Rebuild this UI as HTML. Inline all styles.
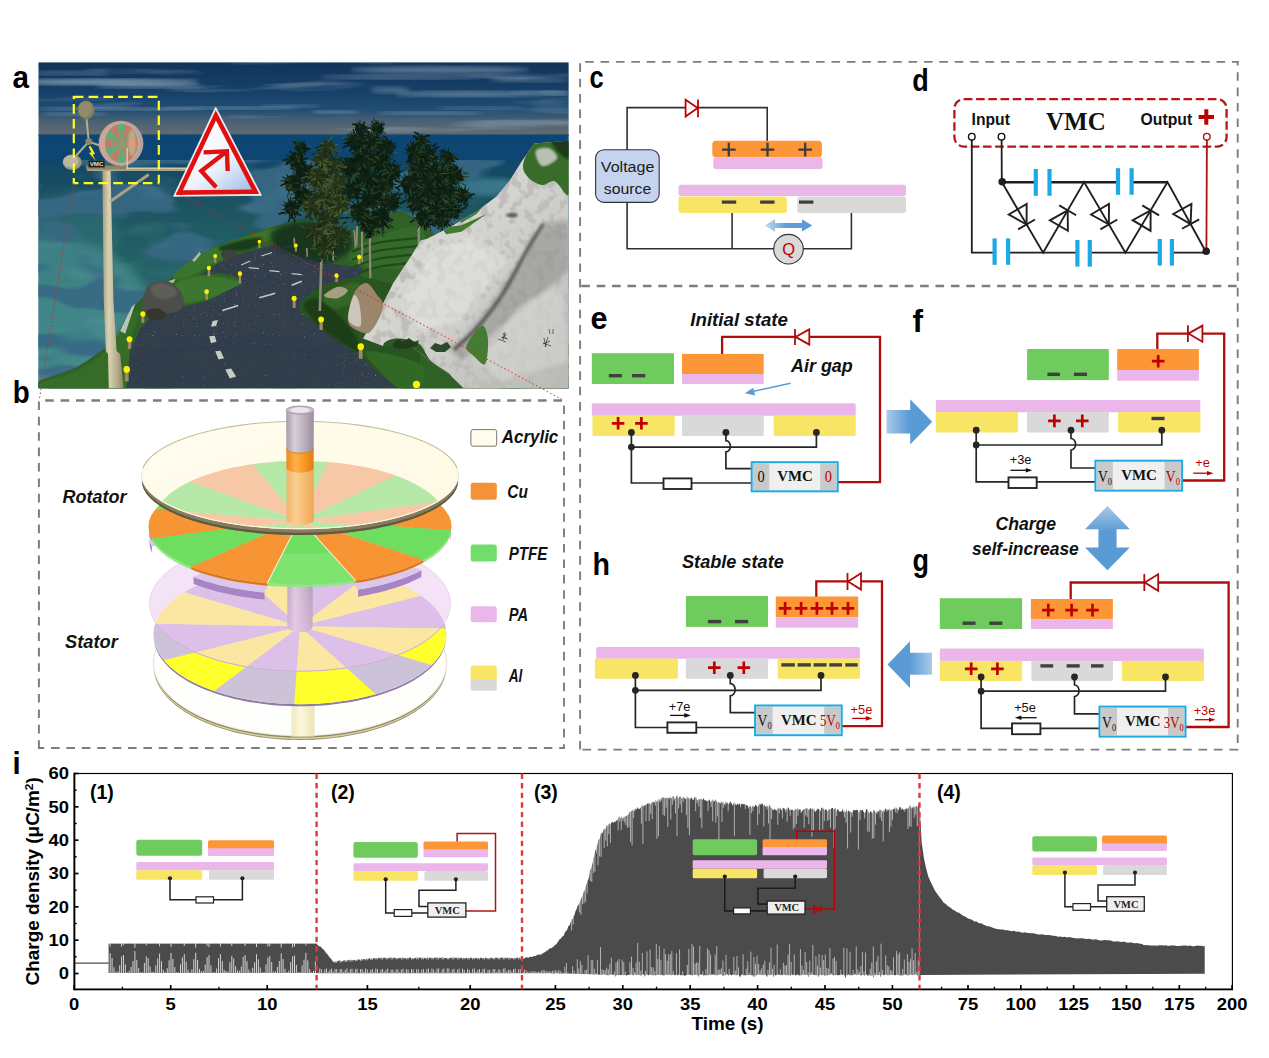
<!DOCTYPE html>
<html><head><meta charset="utf-8"><title>Figure</title>
<style>html,body{margin:0;padding:0;background:#fff;overflow:hidden}svg{display:block}</style>
</head><body>
<svg width="1269" height="1058" viewBox="0 0 1269 1058">
<rect width="1269" height="1058" fill="#fff"/>
<g id="pa">
<defs>
<clipPath id="aclip"><rect x="38.3" y="62.2" width="530.5" height="326.2"/></clipPath>
<linearGradient id="asky" x1="0" x2="0" y1="62" y2="136" gradientUnits="userSpaceOnUse">
 <stop offset="0" stop-color="#12335a"/><stop offset="0.45" stop-color="#17426a"/><stop offset="0.66" stop-color="#244f74"/><stop offset="0.8" stop-color="#4a6172"/><stop offset="1" stop-color="#626d73"/></linearGradient>
<linearGradient id="asea" x1="0" x2="0" y1="135" y2="390" gradientUnits="userSpaceOnUse">
 <stop offset="0" stop-color="#0c4576"/><stop offset="0.09" stop-color="#0e4571"/><stop offset="0.14" stop-color="#154a64"/><stop offset="0.35" stop-color="#1f5962"/><stop offset="0.65" stop-color="#2a6a6b"/><stop offset="1" stop-color="#357a7a"/></linearGradient>
<filter id="awave" x="0" y="0" width="100%" height="100%" filterUnits="objectBoundingBox">
 <feTurbulence type="fractalNoise" baseFrequency="0.012 0.042" numOctaves="2" seed="4" result="n"/>
 <feColorMatrix in="n" type="matrix" values="0 0 0 0 0.04  0 0 0 0 0.14  0 0 0 0 0.23  -10 0 0 0 5.25"/>
</filter>
<filter id="awave2" x="0" y="0" width="100%" height="100%">
 <feTurbulence type="fractalNoise" baseFrequency="0.016 0.05" numOctaves="2" seed="9" result="n"/>
 <feColorMatrix in="n" type="matrix" values="0 0 0 0 0.42  0 0 0 0 0.68  0 0 0 0 0.68  3.4 0 0 0 -1.95"/>
</filter>
<filter id="acloud" x="0" y="0" width="100%" height="100%">
 <feTurbulence type="fractalNoise" baseFrequency="0.0065 0.075" numOctaves="3" seed="12" result="n"/>
 <feColorMatrix in="n" type="matrix" values="0 0 0 0 0.55  0 0 0 0 0.66  0 0 0 0 0.74  5.0 0 0 0 -2.95"/>
</filter>
<filter id="arock" x="0" y="0" width="100%" height="100%">
 <feTurbulence type="fractalNoise" baseFrequency="0.11 0.10" numOctaves="2" seed="3" result="n"/>
 <feColorMatrix in="n" type="matrix" values="0 0 0 0 0.50  0 0 0 0 0.48  0 0 0 0 0.46  -7 0 0 0 3.55"/>
</filter>
<filter id="aroad" x="0" y="0" width="100%" height="100%">
 <feTurbulence type="fractalNoise" baseFrequency="0.9" numOctaves="1" seed="5" result="n"/>
 <feColorMatrix in="n" type="matrix" values="0 0 0 0 0.78  0 0 0 0 0.78  0 0 0 0 0.6  6 0 0 0 -4.1"/>
</filter>
<filter id="ab1"><feGaussianBlur stdDeviation="1"/></filter>
<filter id="ab2"><feGaussianBlur stdDeviation="2.2"/></filter>
<filter id="ab4"><feGaussianBlur stdDeviation="4.5"/></filter>
<filter id="ab05"><feGaussianBlur stdDeviation="0.55"/></filter>
<linearGradient id="apole" x1="0" x2="1"><stop offset="0" stop-color="#a59c7c"/><stop offset="0.3" stop-color="#d9d2b4"/><stop offset="0.65" stop-color="#b9b08f"/><stop offset="1" stop-color="#8d8566"/></linearGradient>
<linearGradient id="asign" x1="0.2" x2="0.9" y1="0.1" y2="1"><stop offset="0" stop-color="#ffffff"/><stop offset="0.55" stop-color="#eef3fb"/><stop offset="1" stop-color="#a9c3ea"/></linearGradient>
<linearGradient id="arockg" x1="0" x2="1" y1="0" y2="1"><stop offset="0" stop-color="#e0e0dd"/><stop offset="0.5" stop-color="#d2d2cf"/><stop offset="1" stop-color="#b9b9b6"/></linearGradient>
<radialGradient id="alamp"><stop offset="0" stop-color="#ffff66"/><stop offset="0.6" stop-color="#f5e800"/><stop offset="1" stop-color="#c9b400"/></radialGradient>
</defs>
<g clip-path="url(#aclip)">
<rect x="38.3" y="62.2" width="530.5" height="74" fill="url(#asky)"/>
<rect x="38.3" y="62.2" width="530.5" height="70" filter="url(#acloud)" opacity="0.28"/>
<ellipse cx="105" cy="82" rx="95" ry="3" fill="#9db4c4" opacity="0.75" filter="url(#ab2)"/>
<ellipse cx="150" cy="86" rx="55" ry="2.2" fill="#9db4c4" opacity="0.55" filter="url(#ab2)"/>
<ellipse cx="70" cy="73" rx="40" ry="2" fill="#9db4c4" opacity="0.4" filter="url(#ab2)"/>
<ellipse cx="120" cy="109" rx="85" ry="1.5" fill="#9db4c4" opacity="0.55" filter="url(#ab2)"/>
<ellipse cx="230" cy="108" rx="70" ry="1.4" fill="#9db4c4" opacity="0.6" filter="url(#ab2)"/>
<ellipse cx="290" cy="106" rx="30" ry="1.2" fill="#9db4c4" opacity="0.5" filter="url(#ab2)"/>
<ellipse cx="75" cy="114" rx="35" ry="1.6" fill="#9db4c4" opacity="0.45" filter="url(#ab2)"/>
<ellipse cx="440" cy="70" rx="90" ry="3.5" fill="#9db4c4" opacity="0.5" filter="url(#ab2)"/>
<ellipse cx="400" cy="77" rx="80" ry="2.5" fill="#9db4c4" opacity="0.4" filter="url(#ab2)"/>
<ellipse cx="470" cy="94" rx="75" ry="3" fill="#9db4c4" opacity="0.5" filter="url(#ab2)"/>
<ellipse cx="530" cy="80" rx="40" ry="2" fill="#9db4c4" opacity="0.4" filter="url(#ab2)"/>
<ellipse cx="430" cy="113" rx="55" ry="1.6" fill="#9db4c4" opacity="0.5" filter="url(#ab2)"/>
<ellipse cx="335" cy="112" rx="25" ry="1.6" fill="#9db4c4" opacity="0.55" filter="url(#ab2)"/>
<ellipse cx="555" cy="93" rx="15" ry="2.5" fill="#9db4c4" opacity="0.5" filter="url(#ab2)"/>
<ellipse cx="390" cy="90" rx="20" ry="3.5" fill="#9db4c4" opacity="0.35" filter="url(#ab2)"/>
<ellipse cx="480" cy="108" rx="45" ry="1.3" fill="#9db4c4" opacity="0.4" filter="url(#ab2)"/>
<rect x="38.3" y="135.2" width="530.5" height="253.2" fill="url(#asea)"/>
<ellipse cx="40" cy="335" rx="120" ry="100" fill="#4f969a" opacity="0.6" filter="url(#ab4)"/><ellipse cx="60" cy="235" rx="60" ry="40" fill="#3f8088" opacity="0.35" filter="url(#ab4)"/>
<rect x="38.3" y="160" width="530.5" height="228.4" filter="url(#awave)" opacity="0.9"/>
<rect x="38.3" y="170" width="530.5" height="218.4" filter="url(#awave2)" opacity="0.10"/>
<ellipse cx="488" cy="187" rx="34" ry="9" fill="#3f7f92" opacity="0.8" filter="url(#ab2)"/>
<rect x="38.3" y="134.2" width="530.5" height="1.6" fill="#0f426f" opacity="0.7"/>
<path d="M38.3 388.4 C-50.12 387.25 32.08 384.98 38.3 381.5 C44.52 378.02 65.17 372.57 75.6 367.5 C86.03 362.43 94.31 355.48 100.9 351.1 C107.49 346.72 111.29 345.37 115.13 341.2 C118.97 337.03 121.01 331.53 123.95 326.07 C126.9 320.61 128.37 314.3 132.78 308.42 C137.19 302.54 144.13 295.81 150.43 290.77 C156.73 285.73 163.04 283.63 170.6 278.16 C178.16 272.7 188.67 263.04 195.81 257.99 C202.96 252.95 205.9 251.27 213.46 247.91 C221.03 244.55 233.22 240.76 241.2 237.82 C249.18 234.88 253.81 232.69 261.37 230.26 C268.94 227.82 279.44 224.88 286.59 223.2 C293.73 221.52 297.51 220.05 304.24 220.17 C310.96 220.3 318.94 222.27 326.93 223.95 C334.91 225.63 343.74 230.05 352.14 230.26 C360.55 230.47 366.05 226.48 377.36 225.21 C388.66 223.95 388.06 195.5 419.97 222.69 C451.88 249.89 632.41 360.78 568.8 388.4 C505.19 416.02 126.72 389.55 38.3 388.4 Z" fill="#2f6126"/>
<path d="M175.64 283.21 C179.85 279.85 190.77 276.06 200.86 275.64 C210.94 275.22 229.43 278.79 236.16 280.69 C242.88 282.58 244.14 284.47 241.2 286.99 C238.26 289.51 227.75 293.08 218.51 295.81 C209.26 298.55 192.87 303.38 185.73 303.38 C178.58 303.38 177.32 299.18 175.64 295.81 C173.96 292.45 171.44 286.57 175.64 283.21 Z" fill="#417c30" opacity="0.8" filter="url(#ab1)"/>
<path d="M173.12 275.64 C175.64 271.65 191.19 259.88 200.86 254.21 C210.52 248.54 221.03 245.39 231.11 241.6 C241.2 237.82 252.97 233.83 261.37 231.52 C269.78 229.21 279.02 226.69 281.54 227.74 C284.06 228.79 283.22 234.25 276.5 237.82 C269.78 241.39 252.13 244.55 241.2 249.17 C230.27 253.79 220.19 260.72 210.94 265.56 C201.7 270.39 192.03 276.48 185.73 278.16 C179.43 279.85 170.6 279.64 173.12 275.64 Z" fill="#3d782e" opacity="0.9" filter="url(#ab1)"/>
<path d="M38.3 388.4 C23.81 387.59 31.68 386.07 38.3 383 C44.92 379.93 67.05 375.17 78 370 C88.95 364.83 95.71 360.58 104 352 C112.29 343.42 121.68 325.35 127.74 318.51 C133.79 311.66 139.92 307.16 140.34 310.94 C140.76 314.73 132.78 328.38 130.26 341.2 C127.74 354.02 140.54 379.98 125.21 387.85 C109.89 395.71 52.79 389.21 38.3 388.4 Z" fill="#376d2a" opacity="0.9" filter="url(#ab1)"/>
<path d="M218.51 247.91 C220.19 246.02 234.06 242.02 241.2 240.34 C248.34 238.66 258.85 236.77 261.37 237.82 C263.89 238.87 261.37 244.34 256.33 246.65 C251.29 248.96 237.42 251.48 231.11 251.69 C224.81 251.9 216.83 249.8 218.51 247.91 Z" fill="#17301a" opacity="0.85" filter="url(#ab1)"/>
<path d="M120.17 331.11 L131.52 307.16 L135.3 303.38 L130.26 318.51 L125.21 333.64 Z" fill="#c9cdc6" opacity="0.9"/>
<path d="M168.08 281.19 L175.64 278.67 L173.12 283.21 Z" fill="#c9cdc6" opacity="0.85"/>
<path d="M192.03 260.51 L199.6 251.69 L200.86 254.21 L194.55 261.78 Z" fill="#c9cdc6" opacity="0.8"/>
<path d="M348.36 254.21 C350.88 250.64 355.34 244.76 367.27 240.34 C379.21 235.93 411.19 223.53 419.97 227.74 C428.75 231.94 427.07 258.83 419.97 265.56 C412.87 272.28 388.66 268.71 377.36 268.08 C366.05 267.45 356.98 264.09 352.14 261.78 C347.31 259.46 345.84 257.78 348.36 254.21 Z" fill="#356b2a"/>
<path d="M352.14 251.69 C356.35 250.22 366.05 245.18 377.36 242.86 C388.66 240.55 412.87 238.66 419.97 237.82" fill="none" stroke="#1d4218" stroke-width="2.2" opacity="0.8"/>
<path d="M352.14 259.76 C356.35 258.29 366.05 253.24 377.36 250.93 C388.66 248.62 412.87 246.73 419.97 245.89" fill="none" stroke="#1d4218" stroke-width="2.2" opacity="0.8"/>
<path d="M352.14 267.83 C356.35 266.36 366.05 261.31 377.36 259 C388.66 256.69 412.87 254.8 419.97 253.96" fill="none" stroke="#1d4218" stroke-width="2.2" opacity="0.8"/>
<path d="M352.14 275.9 C356.35 274.42 366.05 269.38 377.36 267.07 C388.66 264.76 412.87 262.87 419.97 262.03" fill="none" stroke="#1d4218" stroke-width="2.2" opacity="0.8"/>
<path d="M126.48 387.85 L129.75 351.29 L141.6 326.07 L157.99 312.2 L183.21 306.4 L208.42 300.86 L231.11 288.75 L241.7 283.71 L236.16 276.15 L218.51 273.12 L200.86 274.63 L218.51 263.04 L241.2 253.45 L261.37 247.91 L286.59 241.6 L297.18 242.86 L301.71 250.43 L309.28 256.73 L326.93 263.04 L362.23 268.08 L360.21 275.64 L337.01 281.19 L319.36 287.24 L301.71 300.86 L299.19 310.94 L309.28 318.51 L324.41 331.11 L342.06 343.72 L362.23 356.33 L377.36 371.46 L397.53 387.85 Z" fill="#323e4c"/>
<clipPath id="roadclip"><path d="M126.48 387.85 L129.75 351.29 L141.6 326.07 L157.99 312.2 L183.21 306.4 L208.42 300.86 L231.11 288.75 L241.7 283.71 L236.16 276.15 L218.51 273.12 L200.86 274.63 L218.51 263.04 L241.2 253.45 L261.37 247.91 L286.59 241.6 L297.18 242.86 L301.71 250.43 L309.28 256.73 L326.93 263.04 L362.23 268.08 L360.21 275.64 L337.01 281.19 L319.36 287.24 L301.71 300.86 L299.19 310.94 L309.28 318.51 L324.41 331.11 L342.06 343.72 L362.23 356.33 L377.36 371.46 L397.53 387.85 Z"/></clipPath>
<g clip-path="url(#roadclip)"><rect x="120" y="235" width="290" height="155" filter="url(#aroad)" opacity="0.55"/><ellipse cx="240" cy="370" rx="110" ry="30" fill="#2f3c4c" opacity="0.5" filter="url(#ab4)"/></g>
<path d="M301.71 300.86 L319.36 287.24 L337.01 281.19 L360.21 275.64 L389.96 283.21 L419.97 305.9 L419.97 387.85 L397.53 387.85 L377.36 371.46 L362.23 356.33 L342.06 343.72 L324.41 331.11 L309.28 318.51 L299.19 310.94 Z" fill="#28551f"/>
<path d="M304.24 303.38 C305.5 300.02 313.9 296.23 321.89 300.86 C329.87 305.48 345.84 322.71 352.14 331.11 C358.45 339.52 361.81 349.6 359.71 351.29 C357.61 352.97 347.1 346.24 339.54 341.2 C331.97 336.16 320.21 327.33 314.32 321.03 C308.44 314.73 302.98 306.74 304.24 303.38 Z" fill="#1a3a17" opacity="0.9" filter="url(#ab1)"/>
<path d="M323.15 298.34 C324.41 294.55 335.96 288.25 342.06 285.73 C348.15 283.21 357.61 280.69 359.71 283.21 C361.81 285.73 358.87 296.65 354.66 300.86 C350.46 305.06 339.75 308.84 334.49 308.42 C329.24 308 321.89 302.12 323.15 298.34 Z" fill="#356b28" opacity="0.9" filter="url(#ab1)"/>
<path d="M367.27 351.29 C373.95 350.03 411.19 357.8 419.97 363.89 C428.75 369.99 423.5 383.85 419.97 387.85 C416.44 391.84 405.47 390.58 398.79 387.85 C392.11 385.12 385.13 377.55 379.88 371.46 C374.63 365.36 360.59 352.55 367.27 351.29 Z" fill="#336a27" opacity="0.9"/>
<path d="M212.71 321.03 L218 320.02 L215.99 326.07 L210.94 326.83 Z" fill="#c5cbc2"/>
<path d="M209.18 336.16 L214.73 335.65 L216.49 341.7 L210.94 343.22 Z" fill="#c5cbc2"/>
<path d="M215.23 351.29 L220.52 350.78 L224.05 358.35 L218.51 359.61 Z" fill="#c5cbc2"/>
<path d="M225.32 369.44 L231.11 368.43 L236.16 376.5 L229.85 378.52 Z" fill="#c5cbc2"/>
<line x1="222.29" y1="310.44" x2="238.17" y2="305.4" stroke="#c3c9c2" stroke-width="1.61" stroke-linecap="butt"/>
<line x1="259.35" y1="297.83" x2="275.24" y2="293.29" stroke="#c3c9c2" stroke-width="1.61" stroke-linecap="butt"/>
<line x1="291.63" y1="285.22" x2="301.71" y2="281.19" stroke="#c3c9c2" stroke-width="1.51" stroke-linecap="butt"/>
<line x1="291.63" y1="273.63" x2="301.71" y2="274.63" stroke="#c3c9c2" stroke-width="1.41" stroke-linecap="butt"/>
<line x1="269.44" y1="270.6" x2="279.53" y2="271.61" stroke="#c3c9c2" stroke-width="1.31" stroke-linecap="butt"/>
<line x1="248.76" y1="267.57" x2="258.85" y2="268.58" stroke="#c3c9c2" stroke-width="1.21" stroke-linecap="butt"/>
<line x1="241.2" y1="265.05" x2="250.28" y2="261.02" stroke="#c3c9c2" stroke-width="1.21" stroke-linecap="butt"/>
<line x1="261.37" y1="255.98" x2="271.96" y2="252.45" stroke="#c3c9c2" stroke-width="1.11" stroke-linecap="butt"/>
<line x1="285.33" y1="247.4" x2="292.89" y2="245.39" stroke="#c3c9c2" stroke-width="1.01" stroke-linecap="butt"/>
<path d="M142.36 307.16 C141.73 302.62 143.83 292.66 146.65 288.25 C149.46 283.84 154.42 281.11 159.25 280.69 C164.09 280.27 171.57 282.7 175.64 285.73 C179.72 288.75 182.79 294.97 183.71 298.84 C184.64 302.71 184.13 306.4 181.19 308.93 C178.25 311.45 171.19 312.88 166.06 313.97 C160.93 315.06 154.38 316.62 150.43 315.48 C146.48 314.35 142.99 311.7 142.36 307.16 Z" fill="#4c4e4a"/>
<path d="M150.43 288.25 C150.85 285.64 156.73 282.91 160.51 282.7 C164.3 282.49 170.6 284.8 173.12 286.99 C175.64 289.17 178.16 293.92 175.64 295.81 C173.12 297.71 162.2 299.6 157.99 298.34 C153.79 297.08 150.01 290.86 150.43 288.25 Z" fill="#62645e" opacity="0.8" filter="url(#ab1)"/>
<path d="M146.65 310.94 C148.12 309.26 154.76 307.92 157.99 308.42 C161.23 308.93 165.64 312.08 166.06 313.97 C166.48 315.86 163.33 319.01 160.51 319.77 C157.7 320.52 151.48 319.98 149.17 318.51 C146.86 317.04 145.18 312.62 146.65 310.94 Z" fill="#34362f"/>
<path d="M221.03 252.95 C221.66 251.27 226.07 249.38 228.59 249.17 C231.11 248.96 235.11 250.22 236.16 251.69 C237.21 253.16 236.79 256.73 234.9 257.99 C233.01 259.25 227.12 260.09 224.81 259.25 C222.5 258.41 220.4 254.63 221.03 252.95 Z" fill="#3e403b"/>
<path d="M272 232 C276 228 288.67 222.67 300 222 C311.33 221.33 331.33 224 340 228 C348.67 232 353.67 240.33 352 246 C350.33 251.67 339.33 260.33 330 262 C320.67 263.67 305 258.67 296 256 C287 253.33 280 250 276 246 C272 242 268 236 272 232 Z" fill="#16321a" opacity="0.9" filter="url(#ab2)"/>
<line x1="321.38" y1="257.99" x2="319.87" y2="310.94" stroke="#8f8a78" stroke-width="2.6"/>
<line x1="369.79" y1="237.82" x2="370.3" y2="278.16" stroke="#8f8a78" stroke-width="2.2"/>
<line x1="357.19" y1="227.74" x2="356.68" y2="245.39" stroke="#8f8a78" stroke-width="1.8"/>
<line x1="333.23" y1="250.43" x2="333.23" y2="260.51" stroke="#8f8a78" stroke-width="1.6"/>
<line x1="294.15" y1="237.82" x2="294.65" y2="247.91" stroke="#8f8a78" stroke-width="1.6"/>
<line x1="306.76" y1="247.91" x2="307.26" y2="256.73" stroke="#8f8a78" stroke-width="1.6"/>
<line x1="418.51" y1="225.04" x2="419.01" y2="243.95" stroke="#8f8a78" stroke-width="2"/>
<line x1="354.21" y1="230.09" x2="355.47" y2="247.74" stroke="#8f8a78" stroke-width="1.6"/>
<line x1="361.78" y1="235.13" x2="362.53" y2="251.52" stroke="#8f8a78" stroke-width="1.6"/>
<line x1="419" y1="222" x2="418.5" y2="243" stroke="#8f8a78" stroke-width="1.8"/>
<line x1="357" y1="226" x2="356" y2="244" stroke="#8f8a78" stroke-width="1.6"/>
<line x1="362" y1="232" x2="362" y2="262" stroke="#8f8a78" stroke-width="2"/>
<line x1="370" y1="238" x2="370" y2="268" stroke="#8f8a78" stroke-width="2"/>
<circle cx="301" cy="148" r="5.6" fill="#0f2214"/>
<circle cx="296" cy="160" r="7.2" fill="#0f2214"/>
<circle cx="304" cy="172" r="8" fill="#0f2214"/>
<circle cx="293" cy="183" r="8" fill="#0f2214"/>
<circle cx="303" cy="196" r="8" fill="#0f2214"/>
<circle cx="292" cy="208" r="7.2" fill="#0f2214"/>
<path d="M305.14 147.29L309.63 147.47L305.05 149.12ZM304.99 149.31L308.96 152.41L304.05 150.88ZM304.17 150.75L306.48 155.63L302.7 151.84ZM303.78 151.15L304.74 155.08L302.17 152.03ZM300.74 152.19L298.68 156.63L298.98 151.68ZM299.12 151.76L296.79 153.1L297.7 150.6ZM298.26 151.18L295.33 151.9L297.17 149.72ZM297.15 149.68L293.04 148.74L296.8 147.88ZM296.89 148.86L294.02 146.89L296.92 147.02ZM297.01 146.68L293.12 141.89L297.96 145.11ZM298.5 144.62L298.24 140.68L300.18 143.88ZM300.14 143.89L301.1 140.5L301.97 143.91ZM301.59 143.84L303.37 140.68L303.31 144.49ZM302.3 144.01L305.6 138.84L303.87 144.94ZM304.06 145.12L307 143.19L304.99 146.7ZM301.4 159.85L307.42 161.5L300.95 162.17ZM301.36 160.62L307.33 163.43L300.59 162.84ZM300.35 163.2L303.13 168.42L298.58 164.75ZM299.28 164.29L300.99 171.6L297.14 165.28ZM296.21 165.4L293.84 172.95L293.89 164.97ZM293.6 164.84L290.14 167.41L291.77 163.35ZM292.66 164.24L289.2 165.38L291.17 162.42ZM291.46 162.92L288.15 162.26L290.65 160.71ZM290.62 160.49L285.55 157.49L290.93 158.15ZM290.72 158.88L286.14 154.07L291.7 156.73ZM292.09 156.27L290.81 150.8L294.06 154.96ZM294.94 154.7L296.23 148.82L297.3 154.76ZM296.11 154.6L298.39 148.92L298.4 155.16ZM299.03 155.53L302.06 152.92L300.64 157.24ZM300.87 157.66L303.98 156.96L301.4 159.95ZM309.96 171.28L316.74 172.42L309.7 173.89ZM310 172.04L316.23 174.15L309.41 174.59ZM309.07 175.21L312.21 180.4L307.22 177.06ZM308 176.47L308.5 180.44L305.72 177.75ZM305.44 177.82L304.3 186.75L302.83 177.88ZM302.91 177.9L299.15 184.29L300.5 176.88ZM299.32 175.76L292.12 177.59L298.17 173.41ZM298.71 174.83L293.79 174.2L298.01 172.31ZM298 172L291.81 168L298.57 169.45ZM298.19 170.51L292.98 164.87L299.38 168.17ZM300.49 167.13L298.93 158.46L302.9 166.1ZM301.07 166.76L300.21 157.6L303.58 166.01ZM303.58 166.01L305.58 160.28L306.17 166.41ZM307.17 166.91L313.21 160.9L309.04 168.74ZM308.58 168.12L315.65 164.33L309.79 170.44ZM298.88 181.8L303.4 182.21L298.83 184.41ZM298.95 183.75L302.22 185.75L298.07 186.22ZM298.41 185.6L300.59 188.88L296.78 187.66ZM295.66 188.38L296.19 197.32L293.11 189ZM294.49 188.81L293.28 193.21L291.87 188.89ZM290.13 188.27L285.5 191.88L288.16 186.55ZM289.2 187.65L285.08 189.12L287.59 185.59ZM287.45 185.29L280.47 184.43L287.01 182.71ZM287 183.17L282.3 179.71L287.5 180.6ZM287.16 181.63L281.19 175.75L288.3 179.27ZM288.19 179.42L285.68 172.9L290.17 177.71ZM291.87 177.11L293.29 172.32L294.49 177.19ZM294.11 177.1L298.25 169.06L296.52 178.14ZM296.21 177.93L301.87 172.43L298.07 179.78ZM297.2 178.71L302.19 175.53L298.62 180.91ZM308.61 193.88L315.68 193.02L308.98 196.48ZM308.96 196.7L313.42 199.11L308.09 199.17ZM307.1 200.38L309.53 207.77L304.85 201.71ZM305.02 201.65L304.36 208.05L302.42 201.97ZM303.72 201.96L301.77 209.48L301.11 201.7ZM301.25 201.74L297.92 205.48L298.98 200.45ZM299.21 200.65L295.41 201.85L297.59 198.59ZM297.67 198.76L290 198.85L297 196.23ZM297.09 194.97L292.08 190.04L298.09 192.55ZM297.49 193.62L294.48 188.32L299.03 191.5ZM298.27 192.31L296.51 186.59L300.29 190.65ZM301.74 190.13L303.1 181.66L304.36 190.16ZM303.23 190L306.21 182.28L305.76 190.67ZM306.5 191.13L312.05 186.29L308.24 193.08ZM308.04 192.75L314.65 190.29L308.95 195.2ZM297.2 206.54L302.94 206.34L297.33 208.89ZM297.37 208.6L301.52 210.69L296.6 210.83ZM296.04 211.58L298.38 217.23L294.13 212.96ZM295.12 212.41L296.61 219.84L292.95 213.32ZM292.3 213.39L290.29 219.29L289.97 213.01ZM291.42 213.37L288.67 218.53L289.19 212.61ZM288.85 212.39L283.92 215.25L287.28 210.63ZM287.12 210.32L280.88 209.84L286.6 208.02ZM286.61 207.74L281.08 203.7L287.23 205.47ZM286.92 206.16L282.97 200.76L288.19 204.17ZM288.74 203.7L287.24 196.01L290.88 202.72ZM289.97 202.99L290.11 195.22L292.3 202.61ZM293.29 202.76L296.85 196.73L295.4 203.81ZM295.49 203.88L301.55 199.18L296.91 205.76ZM296.36 204.81L301.39 202.53L297.3 206.97Z" fill="#0f2214"/>
<path d="M301.98 153.51l0.04 3.53M301.19 149.39l2.63 3.69M299 146.59l-1.28 -1.17M300.39 151.72l2.23 5.74M305.5 149.15l4.88 -0.38M302.59 148.01l5.43 1.43M296.69 142.93l-3.79 -1.26M298.94 146.43l-1.45 -2.82M298.12 154.89l-1.7 4.02M294.2 163.33l-2.67 4.24M295.82 153.6l-2.52 -1.49M290.93 162.75l-5.46 1.72M299.55 157.55l4.88 -2.33M292.88 161.56l-6.64 1.15M290.61 160.82l-4.28 1.48M302.61 159.92l5.1 -2.05M290.8 152.47l-1.24 -1.65M298.06 158.7l4.36 -0.31M294.89 158.8l-4.41 0.21M301.28 162.22l4.98 4.36M287.78 159.66l-5.45 0.5M300.66 170.75l-3.96 -1.54M302.83 170.09l-1.19 -1.52M301.18 169.9l-2.15 -2.54M304.46 170.3l1.83 -1.11M299.74 164l-4.74 -1.23M304.39 176.65l-0.29 4.51M309.53 179.1l3.02 5.35M302.27 173.48l-0.98 3.94M308.19 168.11l2.84 0.22M309.12 167.28l3.41 -1.77M306.03 175.2l2.92 2.75M304.51 178.05l4.56 4.93M305.59 174.92l3.67 2.11M296.14 178.26l-2.92 3.46M302.43 180.27l-1.79 3.55M305.87 172.08l4.22 2.55M294.64 168.73l-4.16 -0.14M312.15 176.34l6.11 3.27M304.07 173.98l0.6 3.55M295.45 188.72l2.81 4.43M294.98 180.23l-0.02 -3.13M291.16 188.39l-2.85 3.13M292.21 185.16l-4.37 4.61M294.41 184.66l2.99 2.18M289.95 181.22l-5.75 1.6M294.18 187.01l1.6 3.39M291.18 184.84l-0.82 3.87M299.25 180.71l3.62 -1.42M297.86 186.68l5.78 1.64M284.17 184.12l-3.73 1.8M294.86 189.52l2.92 5.2M299.48 192.41l-6.14 -0.22M300.49 194.31l-3.95 -0.3M301.24 200.75l-2.03 5.36M299.26 195.42l-3.01 2.17M300.6 193.76l-4.95 -2.48M308.92 194.94l2.87 0.27M296.72 203.06l-1.55 4.14M301.79 199.94l-3.15 5.88M305.3 196.49l5.2 2.19M308.09 198.3l4.49 5.12M305.93 190.92l0.04 -2.02M297.81 206.21l3.17 2.01M291.92 205.94l-0.93 -3.07M296.3 212.35l4.85 3.45M287.95 206.8l-2.18 -1.05M292.47 206.71l3.04 -1.59M291.97 213.27l0.8 5M293.71 217.49l1.34 4.76M290.44 217.35l-2.17 4.63M285.21 212.58l-6.64 1.47M284.32 212.54l-3.79 0.38M291.37 213.32l0.94 5.47" stroke="#0c1b10" stroke-width="1.5" fill="none"/>
<path d="M303.99 153.72l-0.42 4.91M299.99 142.2l-3.7 -2.9M299.25 144.68l-2.13 -3.57M300.79 146.79l-2.93 -2.01M301.4 149.21l1.78 4.33M295.16 144.39l-2.7 -2.05M299.02 145.27l-4.97 -0.65M300.32 164.62l3.23 3.12M294.42 166.31l-1.3 5.34M295.91 157.64l1.34 -2.19M302.97 155.52l2.74 -0.09M293.81 168.09l1.97 5.83M289.6 155.74l-3.91 1.2M294.84 161.3l-3.14 2.42M304.44 177l-0.86 3.89M307.44 166.85l3.68 -2.05M309.21 177.3l5.13 2.98M292.11 185.33l-2.97 5.79M289.96 190.96l-3.04 5.67M293.38 176.05l-0.12 -4.01M300.27 180.64l4.07 0.99M291.3 179.24l-5.33 -1.3M294.76 183.34l4.17 -0.2M292.3 184.42l-3.68 5.1M283.56 180.82l-3.22 0.09M291.43 183.97l-3.09 0.59M290.93 186.1l-6.15 2.29M305.56 204.62l3.07 4.87M297.14 189.64l-2.51 -0.37M311.27 194.98l5.11 3.14M295.04 193.92l-5.37 0.83M301.85 204.2l2.59 5.34M311.69 193.32l6.35 0.96M306.03 202.93l-0.71 6.28M301.27 197.66l-4.7 2.81M296.51 189.04l-5.28 -0.32M303.3 198.07l0.42 6.05M305.36 202.65l0.98 5.54M307.05 189.84l3.69 -0.05M293.99 209.46l2.51 2.86M294.58 209.23l4.71 1.88M300.25 205.81l4.06 -2.58M291.4 210.25l-1.13 4.42M295.62 205.74l3.46 -1.88M293.37 201.92l-0.18 -2.48M290.41 207.79l-3.95 0.97M288.26 202.63l-2.99 0.36M299.03 207.95l3.08 2.48" stroke="#243a22" stroke-width="1.1" fill="none"/>
<path d="M307.5 146.01l4.37 0.59M299.26 155.26l-0.63 6.45M296.61 158.7l2.06 -1.83M296.62 156.62l-0.45 -1.87M297.64 153.22l-2.3 -3.34M292.69 161.68l-4.75 2.13M310.85 169.63l2.67 -0.76M305.53 174.49l3.18 3.6M310.69 168.95l4.83 0.43M299.59 162.79l-1.33 -2.63M289.69 185.42l-1.11 3.36M288.88 180.8l-4.79 -1.76M300.55 179.59l2.58 -1.72M288.09 184.36l-5.75 2.56M305.72 196.73l5.56 -0.5M296.14 191.78l-2.93 -1.44M302.32 190.59l-1.23 -2.97M291.35 199.7l1.94 -3.42M294.96 209.63l4.88 0.59M286.37 213l-3.87 3.98" stroke="#4a6040" stroke-width="0.8" fill="none" opacity="0.8"/>
<circle cx="361" cy="129" r="5.6" fill="#0f2214"/>
<circle cx="377" cy="128" r="5.6" fill="#0f2214"/>
<circle cx="356" cy="142" r="8" fill="#0f2214"/>
<circle cx="372" cy="142" r="8.8" fill="#0f2214"/>
<circle cx="386" cy="148" r="8" fill="#0f2214"/>
<circle cx="364" cy="158" r="9.6" fill="#0f2214"/>
<circle cx="380" cy="162" r="9.6" fill="#0f2214"/>
<circle cx="350" cy="168" r="8" fill="#0f2214"/>
<circle cx="392" cy="172" r="8" fill="#0f2214"/>
<circle cx="366" cy="178" r="10.4" fill="#0f2214"/>
<circle cx="384" cy="184" r="9.6" fill="#0f2214"/>
<circle cx="352" cy="190" r="8.8" fill="#0f2214"/>
<circle cx="372" cy="198" r="10.4" fill="#0f2214"/>
<circle cx="390" cy="202" r="8.8" fill="#0f2214"/>
<circle cx="360" cy="212" r="9.6" fill="#0f2214"/>
<circle cx="380" cy="218" r="9.6" fill="#0f2214"/>
<circle cx="368" cy="226" r="7.2" fill="#0f2214"/>
<path d="M364.94 127.55L368.67 126.87L365.18 129.37ZM365.2 129.12L368.27 130.08L364.75 130.9ZM364 131.94L365.94 136.94L362.46 132.94ZM363.56 132.33L363.68 134.98L361.9 133.1ZM360.93 133.2L358.82 138.84L359.15 132.77ZM359.59 132.96L357.41 134.79L358.04 131.98ZM358.57 132.43L354.17 135.1L357.34 131.06ZM356.94 130.06L354.61 128.25L356.87 128.23ZM356.84 129.57L353.38 127.3L356.99 127.75ZM357.01 127.7L353.54 123.23L357.94 126.12ZM358 126.06L356.25 120.3L359.54 125.06ZM359.12 125.24L359.08 120.21L360.9 124.8ZM362.18 124.97L365.11 120.24L363.78 125.85ZM362.44 125.05L364.58 122.24L363.98 126.04ZM364.51 126.69L368 125.12L365.16 128.41ZM381.05 126.87L384.79 126.55L381.14 128.7ZM381.09 128.96L385.41 131.63L380.29 130.61ZM380.66 130.07L383.01 133.28L379.43 131.43ZM379.47 131.4L380.19 135.78L377.79 132.13ZM377.1 132.2L375.68 135.13L375.3 131.84ZM375.77 132.02L372.79 135.74L374.18 131.11ZM374.89 131.63L371.08 134.45L373.55 130.39ZM373.24 129.87L369.34 129.13L372.8 128.09ZM372.8 127.86L368.48 124.58L373.26 126.08ZM372.91 127.04L369.91 123.29L373.71 125.39ZM373.64 125.48L372.11 121.01L375.03 124.29ZM375.42 124.11L375.95 120.86L377.22 123.81ZM377.06 123.8L378.78 119.43L378.84 124.22ZM379.28 124.48L383.58 120.12L380.57 125.78ZM380.24 125.32L384.1 123.09L381.07 126.96ZM361.95 141.19L369.17 142.25L361.72 143.8ZM361.57 144.22L367.11 149.59L360.1 146.38ZM361.15 145.08L363.08 148.73L359.35 146.98ZM358.12 147.61L357.32 152.14L355.53 147.98ZM356.81 147.94L354.96 155.55L354.2 147.72ZM354.14 147.7L350.52 151.76L351.89 146.37ZM351.33 145.77L346.72 146.19L350.17 143.42ZM350.49 144.38L343.49 143.67L350 141.81ZM350.07 142.93L345.44 140.24L350.24 140.32ZM350.49 139.63L346.64 133.67L352.02 137.51ZM351.45 138.09L349.4 131.57L353.55 136.52ZM353.12 136.74L353.4 131.69L355.64 136.01ZM356.19 136L358.4 131.37L358.72 136.65ZM359.87 137.41L364.1 134.35L361.45 139.49ZM360.48 138.01L366.94 134.35L361.75 140.29ZM378.55 141.19L383.15 142.2L378.27 144.05ZM378.24 144.14L383.08 148.7L376.74 146.6ZM377.55 145.58L381.13 151.6L375.49 147.6ZM375.92 147.31L376.53 152.98L373.28 148.47ZM371.77 148.6L368.95 154.73L368.98 147.87ZM369.06 147.91L365.2 150.66L366.82 146.09ZM368.4 147.53L364.73 149.17L366.39 145.47ZM365.76 144.16L359.4 142.6L365.44 141.3ZM365.54 143.35L361.89 140.85L365.58 140.47ZM366.33 138.62L363.03 131.84L368.31 136.53ZM368.3 136.53L368.3 131.19L370.98 135.48ZM370.12 135.67L371.28 130.31L372.99 135.47ZM373.2 135.51L377.06 128.39L375.85 136.64ZM375.49 136.4L379.72 132.59L377.55 138.42ZM377.92 139.07L382.15 138.28L378.6 141.87ZM391.54 145.69L397.9 144.69L391.99 148.27ZM392 148.22L395 149.65L391.33 150.75ZM390.95 151.4L394.12 157.02L389.03 153.18ZM388.21 153.58L387.92 161.28L385.62 153.99ZM387.7 153.75L386.8 161.12L385.09 153.93ZM383.44 153.43L380.14 155.76L381.37 151.82ZM381.6 152.07L377.21 152.81L380.28 149.81ZM380.76 150.93L377.37 149.9L380.01 148.42ZM380.03 147.44L375.23 143.18L380.83 144.95ZM380.95 144.77L378.18 138.55L382.8 142.92ZM381.37 144.18L379.87 138.64L383.44 142.58ZM383.56 142.52L383.37 133.36L386.12 142ZM385.86 142L387.83 137.56L388.43 142.51ZM388.63 142.61L391.84 139.25L390.68 144.24ZM390.71 144.28L396.63 141.41L391.84 146.64ZM371.11 156.85L375.72 157.79L370.92 159.99ZM371.19 158.39L376.95 161.09L370.34 161.42ZM369.54 162.6L372.08 169L367.05 164.52ZM367.48 164.3L368.42 174.49L364.47 165.18ZM365.83 164.96L364.46 171.56L362.69 165.08ZM361.86 164.88L357.18 170.7L359.14 163.31ZM358.44 162.57L351.69 164.03L357.02 159.77ZM357.27 160.57L351.07 159.1L356.82 157.46ZM356.84 157.26L349.48 151.65L357.84 154.28ZM357.18 155.7L354.27 150.58L358.81 153.01ZM358.64 153.19L356.6 145.91L361.2 151.37ZM362.79 150.9L364.63 144.38L365.93 151.06ZM365.05 150.88L369.1 142.85L367.98 152ZM368.61 152.47L373.06 149.47L370.53 154.96ZM370.21 154.35L376.01 152.76L371.17 157.35ZM386.69 159.34L394.03 158.52L387.19 162.44ZM386.8 164.38L391.84 169.34L385.14 167.05ZM386.52 165.05L392.7 172.11L384.6 167.54ZM383.95 168.02L385.02 176.45L381.01 169.13ZM380.18 169.2L377.64 175.12L377.1 168.59ZM378.1 168.94L374.11 173.88L375.32 167.47ZM376.17 168.1L372.15 170.09L373.94 165.89ZM373.22 164.42L367.08 162.78L372.83 161.3ZM372.87 161.01L369.56 156.73L373.97 158.07ZM373.19 159.67L369.96 154.32L374.83 156.99ZM376.14 155.92L374.89 145.91L379.09 154.86ZM378.81 154.9L380.73 146.93L381.95 155.07ZM379.54 154.81L382.02 147.52L382.64 155.3ZM382.83 155.38L386.39 151.54L385.38 157.21ZM385.89 157.86L391.42 155.82L387.09 160.76ZM355.58 165.79L361.16 165.05L355.99 168.38ZM355.59 170.18L361 175.39L354.13 172.35ZM354.94 171.41L356.43 175.04L353.02 173.19ZM352.48 173.46L351.95 178.14L349.92 174ZM350.6 173.97L348.88 178.22L348 173.66ZM347.13 173.27L342.47 176.91L345.16 171.55ZM346.15 172.6L341.88 174.11L344.55 170.52ZM344.5 170.39L336.86 169.81L344 167.81ZM344 168.24L340.22 165.03L344.48 165.66ZM344.51 165.59L339.42 158.55L346.06 163.48ZM345.73 163.78L343.6 156.38L347.94 162.37ZM349.06 162.07L350.66 156.33L351.67 162.24ZM351.3 162.14L354.83 156.13L353.67 163.25ZM352.16 162.4L355.13 158.91L354.34 163.86ZM355.37 165.32L360.77 164.06L356 167.86ZM397.82 170.56L405.13 170.67L397.88 173.18ZM397.84 173.36L402.14 176.52L396.71 175.72ZM397.17 175.04L401.02 180.64L395.38 176.95ZM395.54 176.84L396.45 182.92L393.14 177.89ZM392.07 178L389.58 184.54L389.51 177.46ZM391.06 177.93L388.35 181.87L388.63 176.96ZM387.69 176.18L381.53 178.28L386.32 173.95ZM387.01 175.33L379.42 176.46L386.07 172.89ZM386.07 172.94L382.26 170.32L386.24 170.33ZM386.18 170.55L382.16 165.63L387.35 168.21ZM388.15 167.39L386.11 158.84L390.48 166.2ZM389.34 166.62L389.12 158.65L391.88 166ZM391.62 166.01L393.81 159.1L394.2 166.42ZM394.41 166.51L398.28 161.91L396.52 168.06ZM396.1 167.62L402.12 163.52L397.58 169.79ZM373.27 175.17L381.99 174.31L373.78 178.54ZM373.73 179.04L380.22 182.89L372.55 182.23ZM372.1 182.86L375.13 189.98L369.44 185ZM368.93 185.23L368.8 196.56L365.57 185.79ZM367.57 185.64L365.76 193.15L364.16 185.58ZM362.58 185.01L358.21 188.2L359.92 182.88ZM361.03 184.01L354.84 186.84L358.94 181.32ZM358.42 179.85L353.55 177.26L358.36 176.44ZM358.21 177.6L350.46 172.23L359.12 174.32ZM359.15 174.26L357.2 168.68L361.4 171.7ZM361.82 171.42L361.41 163.52L365.02 170.26ZM364.58 170.33L366.57 160.68L367.98 170.46ZM366.49 170.22L370.63 160.01L369.76 171.16ZM370.3 171.49L375.85 166.72L372.66 173.94ZM372.67 173.95L379.88 171.84L373.76 177.17ZM391.13 183.03L398.07 184.33L390.87 186.16ZM390.84 186.25L394.02 189.77L389.23 188.95ZM389.88 188.16L391.25 192.23L387.55 190.27ZM386.92 190.58L386.94 200.11L383.84 191.2ZM383.86 191.2L381.38 195.67L380.81 190.45ZM381.75 190.84L377.15 196.26L379.05 189.23ZM380.11 190.06L375.55 192.59L377.9 187.83ZM377.01 185.71L368.6 183.34L376.94 182.57ZM376.85 184.83L368.81 181.23L377.18 181.7ZM377.58 180.75L374.06 174.13L379.57 178.32ZM379.44 178.43L378.59 171.6L382.25 177.02ZM381.1 177.41L381.89 171.97L384.18 176.8ZM385.12 176.89L389.13 169.23L388.05 178.04ZM388.13 178.1L393.98 173.13L390.25 180.42ZM389.67 179.56L395.24 177.14L391.02 182.39ZM358.55 189.17L363.69 190.23L358.28 192.04ZM358.41 191.55L364.25 195.8L357.14 194.14ZM357.46 193.7L361.11 200.07L355.37 195.68ZM356.3 195.01L357.26 200.5L353.76 196.36ZM351.86 196.6L349.46 201.23L349.06 195.91ZM351.17 196.55L348.62 200.08L348.46 195.57ZM347.13 194.46L342.96 194.91L345.7 191.96ZM346.05 192.85L340.24 192.03L345.4 190.04ZM345.44 189.27L340.4 184.63L346.38 186.55ZM345.97 187.33L343.94 182.57L347.68 185.01ZM348.14 184.65L346.6 175.62L350.78 183.51ZM350.21 183.65L351.22 174.38L353.08 183.49ZM352.92 183.46L356.73 175.67L355.62 184.48ZM356.01 184.76L361.93 179.99L357.86 186.97ZM356.45 185.13L363.7 180.08L358.1 187.49ZM379.8 197.81L384.63 199.8L379.14 201.15ZM379.8 198.2L385.28 200.72L378.97 201.5ZM379 201.45L382.8 206.88L376.86 204.1ZM377.02 203.97L377.98 210.35L373.99 205.54ZM374.41 205.42L373.33 213.62L371.02 205.74ZM370.27 205.61L365.15 213.59L367.2 204.14ZM367.11 204.07L362.09 205.99L364.99 201.41ZM364.44 199.92L355.07 197.53L364.34 196.51ZM364.22 197.49L359.55 192.99L365.17 194.23ZM364.73 195.18L360.08 188.31L366.62 192.35ZM366.51 192.46L365.7 186.31L369.4 190.65ZM369.38 190.65L370.02 180.02L372.76 190.24ZM373.33 190.31L378.39 180.43L376.48 191.61ZM376.32 191.5L383.66 184.85L378.67 193.96ZM378.88 194.33L388.44 191.97L379.79 197.61ZM396.57 201.32L401.88 202.56L396.23 204.18ZM396.37 203.71L401.65 207.9L395.04 206.27ZM394.73 206.6L397.36 213.94L392.32 208.18ZM393.49 207.6L393.58 213.04L390.77 208.56ZM391.21 208.49L389.6 214.33L388.33 208.39ZM387.57 208.14L382.3 214.04L385.19 206.52ZM386.28 207.45L380.84 210.78L384.31 205.34ZM383.68 203.91L378.32 201.96L383.47 201.04ZM383.5 203.13L377.12 200.32L383.63 200.26ZM383.81 199.72L381.08 194.76L385.37 197.3ZM385.14 197.54L384.32 192.37L387.5 195.89ZM387.04 196.1L387.09 188.82L389.83 195.4ZM389.58 195.41L391.54 190.95L392.42 195.86ZM393.35 196.32L400.01 189.45L395.46 198.29ZM395.78 198.81L401.05 197.44L396.59 201.57ZM367.19 211.64L371.07 213.12L366.66 214.74ZM367.19 212.42L370.42 214.36L366.32 215.45ZM366.51 215.07L371.09 220.8L364.58 217.55ZM363.01 218.54L362.81 226.33L359.94 219.2ZM359.96 219.2L357.03 226.11L356.89 218.5ZM356.73 218.42L351.02 223.42L354.31 216.41ZM355.16 217.33L350.42 218.68L353.35 214.76ZM353.54 215.19L347.2 214.49L352.8 212.14ZM352.85 211.15L348.64 206.61L353.89 208.18ZM353.18 209.69L347 202.37L354.81 207.01ZM354.29 207.61L351.22 199.67L356.71 205.6ZM356.95 205.48L356.9 196.17L360.02 204.8ZM360.95 204.86L363.9 199.86L363.9 205.95ZM364.1 206.08L369.55 201.47L366.23 208.39ZM365.46 207.3L373.61 203.04L366.94 210.08ZM387.16 217.22L392.39 218.55L386.81 220.34ZM386.94 219.92L390.12 223.11L385.46 222.69ZM385.84 222.21L387.46 226.68L383.49 224.3ZM383.31 224.39L384.02 234.66L380.27 225.19ZM380.44 225.19L378.25 229.93L377.33 224.69ZM377.81 224.86L373.27 230.29L375.1 223.27ZM375.36 223.51L370.76 225.03L373.46 221.01ZM373.75 221.57L367.36 221.36L372.82 218.56ZM372.92 219.3L365.57 216.39L373.04 216.16ZM373.13 215.83L369.3 210.24L374.71 213.11ZM374.33 213.57L372.11 206.69L376.76 211.57ZM378.91 210.88L380.84 204.21L382.04 211.1ZM379.51 210.82L381.92 203.94L382.62 211.29ZM384.59 212.45L388.91 209.53L386.52 214.93ZM385.5 213.35L390.57 210.97L386.95 216.14ZM373.34 225.21L377.94 225.81L373.17 227.56ZM373.4 226.21L379.21 228.32L372.79 228.48ZM372.61 228.82L375.82 233.69L370.97 230.51ZM370.84 230.6L371.8 237.89L368.61 231.37ZM369.55 231.17L368.65 235.93L367.2 231.34ZM366.83 231.27L364.11 234.8L364.7 230.27ZM363.94 229.56L359.1 230.52L362.81 227.49ZM363.24 228.54L358.22 228.05L362.61 226.27ZM362.64 225.31L358.22 221.12L363.45 223.1ZM363 223.95L359.17 218.34L364.35 222.02ZM364.53 221.86L363.52 215.93L366.62 220.78ZM366.13 220.94L366.84 216.36L368.46 220.62ZM368.38 220.61L371.33 213.3L370.64 221.29ZM370.28 221.1L373.84 216.95L372.15 222.54ZM372.46 222.96L377.75 220.77L373.33 225.15Z" fill="#0f2214"/>
<path d="M362.63 132.58l0.45 3.51M359.95 134.29l2.03 4.5M356.6 124.44l-4.68 -0.15M364.71 133.39l2.03 4.51M362.58 132.36l-0.57 4.66M358.39 126.3l-2.96 -2.04M366.7 130.44l3.59 2.37M357.54 126.86l-2.94 -3.29M358.56 133.34l-0.57 6.37M358.42 129.01l-3.18 0.91M366.65 128.57l4.32 -0.71M362.51 130.61l0.53 4.37M363.89 123.63l0.71 -1.89M378.83 128.89l3.74 3.62M380.64 125.5l3.99 -1.78M379.44 128.63l3.43 1.47M376.84 123.01l-1.28 -2.51M372.97 122.97l-1.31 -2.18M381.44 128.28l2.86 0.23M377.29 130.39l-0.5 5.25M379.41 130.99l2.27 3.41M377.96 127.49l3.77 -0.45M376.76 130.11l0.1 6.31M351.65 148.5l-2.24 2.69M354.25 151.81l-0.46 4.2M353.38 142.27l-5.83 0.34M348.28 139.95l-3.5 -2.34M348.99 141.75l-5.62 1.93M354.63 133.36l-1.47 -4.28M363.94 139.64l3.19 1.51M365.1 145.22l4.99 1.22M356.38 149.83l-0.27 6.26M354.31 145.49l-0.9 3.29M358.4 145.61l1.74 6.23M356 146.29l-0.88 4.87M352.39 141.4l-5.77 2.68M348.67 145.27l-6.16 2.64M357.63 141.37l4.59 1.81M378.36 151.66l2.23 3.87M367.67 142.75l-3.87 0.26M368.38 134.31l-1.95 -2.21M370.08 145.49l-1.41 4.81M374.37 147.73l-0.81 6.24M372.58 139.02l4.81 -2.45M377.35 132.25l2.51 -0.71M366.4 132.76l-1.05 -1.38M370.26 144.84l-1.07 4.96M373.62 141.19l3.36 1.3M369.02 143.61l-2.29 3.07M381.95 138.56l4.05 -0.83M377.56 143.86l5.53 0.56M370.72 146.59l-2.18 4.61M383.91 157.67l-2.22 5.32M387.88 144.32l3.75 -2.69M385.6 152.62l-3.9 4.25M379.56 145.07l-3.3 0.85M391.58 147.49l4.79 0.25M385.95 141.3l0.61 -3.22M387.52 155.66l-0.24 4.27M379.16 143.16l-5.34 -2.54M385.4 142.4l-0.03 -2.37M379.76 145.82l-3.46 -2.33M382.92 142.88l-0.63 -2.41M386.05 140.05l-0.63 -4.22M354.64 158.1l-3.87 1.71M363.1 168.08l-3.32 4.38M355.18 149.91l-2.46 -1.1M362.56 156.29l-4.46 0.57M361.63 158.11l-5.7 0.8M359.68 158.91l-6.27 2.99M366.92 170.63l-1.51 3.71M363.29 151.84l-0.93 -3.53M360.92 155.69l-5.08 0.16M366.44 155.89l4.03 0.74M372.66 156.56l3.93 -1.1M362.92 162.55l0.83 3.68M370.22 161.52l6.04 1.62M353.47 160.09l-5.03 1.93M364.25 152.01l3.22 -2.89M360.97 150.01l1.82 -3.71M352.75 158.35l-5.39 0.81M360.03 156.31l-3.93 1.61M379.47 157.19l-1.03 -2.52M385.19 158.45l5.47 0.42M381.85 170.13l-0.61 4.11M379.09 167.63l-0.68 3.86M378.06 165.97l-3.27 4.24M374.3 163.16l-6.51 1.02M372.82 160.06l-3.54 -0.45M382.75 160.38l3.93 0.25M376.12 163.36l-4.95 4.76M371.13 155.15l-2.36 -1.09M378.67 155.35l-0.22 -4.36M381.62 164.4l1.77 4.49M381.03 172.44l-1.66 5.53M374.33 162.36l-4.28 1.36M383.19 159.01l4.38 -0.03M382.47 154.08l-0.33 -4.25M378.44 169.69l-4.44 3.97M347.32 161.29l-3.22 -2.75M350.91 162.91l2.53 -1.67M348.84 170.37l-5.96 3.91M350.55 177.86l-1.66 3.89M347.52 168.04l-4.19 2.5M348.55 170.46l-2.64 6.04M349.2 172.35l-0.77 6.15M351.19 169.02l5.37 2.97M346.51 162.94l-3.47 -1.45M350.76 170.68l-0.25 6M356.46 175.61l1.48 6.46M353.03 162.83l3.71 -3.58M350.9 160.77l2.41 -2.62M348.85 159.77l-2.71 -2.32M393.25 165.3l0.91 -1.29M385.31 168.92l-3.41 -2.49M388.97 176.94l-0.98 3.51M392.22 175.15l1.08 3.66M393.8 171.67l4.34 2.41M386.87 174.73l-2.49 4.63M389.76 179.87l-2.63 3.09M388.05 178.48l-5.13 2.56M389.86 166.13l0.25 -3.02M390.24 168.43l-3.58 -1.25M396.34 172.99l3.33 4.02M390.86 179.88l-0.31 5.65M390.05 169.43l-3.28 -1.98M395.32 161.97l-0.26 -1.88M367.1 182.7l0.71 5.61M370.98 166.7l0.69 -1.47M368.21 190.44l1.18 4.99M368.07 178.51l3.27 1.47M368.05 184.25l1.12 5.79M364.96 171.21l-3.37 -2.9M371.44 177.52l2.92 -0.48M365.3 171l2.1 -3.79M364.37 182.88l-0.08 3.49M362.37 184.37l-3.96 5.56M373.85 187.78l4.41 3.14M375.61 169.76l2.86 -0.43M363.71 169.43l-2.58 -2.04M357.02 184.91l-3.51 3.69M364.52 171.1l-2.35 -3.5M373.86 182.63l2.19 2.88M371.59 172.59l2.33 -1.11M355.81 171.11l-4.92 -2.84M371.03 180.59l3.13 1.63M368.55 182.92l3.02 2.89M355.92 180.73l-3.32 3.96M368.77 165.25l3.54 -1.97M382 193.99l-0.83 4.09M379.77 191.45l-0.71 5.03M384.8 180.12l-0.22 -1.62M380.17 182.87l-6.33 2.41M378.38 177.66l-1.05 -2.31M380.65 182.24l-3.69 -1.59M388.31 177.27l3.73 -0.75M387.51 181.3l4.78 -0.77M394.61 186.87l5.5 3.36M386.82 180.91l3.8 -1.63M386.5 179.81l3.85 -1.08M387.04 183.18l2.18 -0.78M379.97 185.25l-3.43 4.5M382.45 177.37l-2.26 -3.35M381.77 187.8l-1.07 6.09M357.63 194.92l1.87 3.97M345.53 196.5l-3.04 1.94M344.43 192.99l-6.35 0.95M350.73 178.79l1.4 -2.91M356.39 185.09l1.44 -3.21M356.17 188.44l4.08 2.05M349.11 197.44l-2.63 2.29M356.74 184.57l3.77 -2.91M355.07 194.07l1.82 5.21M344.18 185.34l-4.35 -1.21M352.43 187.27l-2.12 -3.08M354.33 187.41l2.72 -1.39M349.52 187.53l-4.84 -2.92M353.8 189.53l5.17 1.99M351.88 188.01l1.71 -4.36M347.91 187.69l-2.09 -1.62M378.69 186.87l2.55 -2.47M374.61 197.08l5.31 0.17M369 202.57l0.26 4.67M370.11 187.62l2.69 -3.72M364.75 191.25l-1.61 -1.54M382.67 203.43l3.16 5.87M374.09 197.83l5.2 2.76M383.56 196.49l3.46 -1.53M369.94 197.74l-5.48 2.42M365.71 204.33l-3.52 4.01M365.1 209.45l-3.15 2.19M374.88 195.86l4.03 0.72M369.13 197.88l-5.61 -1.08M372.7 196.13l3.34 -2.48M376.08 206.47l2.2 2.83M374.71 200.51l6.89 1.27M374.98 211.4l-0.96 6.11M380.98 197.16l5.27 1.12M389.01 198.61l1.4 -3.67M387.72 210.39l-5.15 4.79M393.6 195.33l1.35 -1.98M395.4 203.33l3.63 0.06M392.22 204.83l6.02 3.71M385.04 211.89l-1.28 6.5M385.47 209.95l-2.38 3.43M392.44 199.32l4.58 -2.52M383.59 207.64l-2.48 3.21M383.62 198.64l-3.07 1.05M397.62 195.02l5.02 -0.93M394.57 201.94l3.05 1.45M384.12 201.06l-4.53 0.92M379.45 203.22l-4.88 2.17M392.22 204.73l3.41 2.14M396.13 198.22l4.55 -1.09M366.12 204.42l1.82 -1M348.92 209.07l-3.41 -0.55M361.64 214.37l3.93 4M360.9 222.66l1.53 3.09M365.99 205.88l2.32 -2.56M357.61 207.66l-5.94 -1.95M363.22 216.1l4.25 3.42M365.69 221.31l1.12 3.85M365.24 216.93l3.68 4.67M367.22 202.97l2.21 -1.15M359.56 209.49l-0.1 -3.69M358.66 213.24l-3.03 2.8M367.11 215.2l2.87 2.61M349.29 217.62l-4.69 0.37M357.32 211.67l-5.57 -0.44M359.37 205.02l3.48 -3.66M357.41 216.17l-0.53 3.76M361.63 209.33l1.5 -3.32M366.16 204.27l4.39 -2.4M384.09 211.49l2.7 -3.51M388.47 220.61l4.88 -0.55M374.97 221.48l-5.34 2.22M378.2 214.51l-3.28 -2.11M389.24 225.1l4.23 2.87M387.83 208.79l3.02 -2.28M381.83 217.6l4.5 0.93M381.43 219.3l3.7 4.25M382.93 217.88l5.4 3.17M383.31 205.48l-1.59 -3.83M385.6 225.41l4.06 2.99M372.2 224.38l3.15 0.24M371.55 220.61l1.09 -1.88M368.32 222.34l-3.16 -3.35M370.71 231.4l3.26 4.14M364.84 225.07l-6.59 -0.4M370.16 224.93l6.1 -1.62M366.59 221.79l-2.03 -3.44M368.94 230.28l0.55 4.96M367.01 233.83l1.77 4.68M375.76 230.48l4.5 2.5M370.76 230.88l-0.28 6.4M365.09 225.76l-3.04 -0.47M370.47 233.16l-0.71 4.77M367.67 234.79l-2.16 3.93" stroke="#0c1b10" stroke-width="1.5" fill="none"/>
<path d="M361.22 121.93l-1.8 -1.24M358.48 133.92l-3.24 5.43M359.86 127.73l-1.09 -2.48M374.97 134.31l-4.39 4.18M377.05 131.5l-2.89 4.21M376.74 125.59l1.57 -1.48M375.51 122.32l-1.93 -3.96M376.48 126.53l-3.52 -1.68M381.45 131.37l4.55 2.47M378.46 125.4l3.24 -2.47M376 130.69l-1.85 5.06M351.09 137.1l-3.79 -3.42M354.14 134.08l-3.23 -2.52M363.23 145.24l4.97 1M362.9 146.49l3.8 3.79M357.66 139.77l3.4 -2.42M364.08 136.57l4.26 0.36M349.08 140.45l-5.97 -0.97M361.47 140.86l5.52 0.13M359.4 151.61l2.66 3.6M355.42 152.87l-2.11 5.45M374.96 144.52l1.2 5.28M374.58 142.54l3.04 1.13M379.13 138.66l2.43 -2.22M369.13 139.88l-3.18 0.44M371.43 147.92l-3.61 4.2M371.43 132.5l0.46 -2.91M369.49 136.02l0.9 -2.74M378.64 138.56l5.86 -0.51M387.71 153.12l2.29 2.66M384.32 151.45l0.52 3.44M382.82 152.4l-5.29 4.2M387.88 158.69l3.16 4.43M380.37 144.45l-2.06 -3.06M386.4 141.05l-3.06 -3.88M391.17 154.18l2.88 2.61M385.9 139.24l-0.6 -1.78M382.08 141.94l-2.78 -1.38M384.74 149.21l-1.72 4.27M377.54 145.81l-2.74 -1.08M376.86 145.86l-5.65 1.15M390.24 147.72l3.42 0.41M367.57 157.57l5.86 3.31M357.88 154.17l-3.22 -2.37M354.73 153.64l-3.41 1.45M364.86 156.37l4.8 -1.05M362.34 152.2l-4.54 -2.21M367.82 161.35l1.01 4.47M364.01 163.62l2.59 5.08M368.29 158.94l4.47 1.29M370.41 158.23l5.69 4M365.97 157.3l2.68 -1.75M369.74 166.08l3.27 2.34M386.94 170.26l3.35 5.47M375.47 166.91l-4.24 5.15M387.67 165.68l3.99 5.2M374.49 167.42l-2.96 2.79M376.36 162.07l-6.31 1.49M385.75 169.98l2.85 2.98M378.67 159.95l-2.33 -4.24M389.57 159.43l4.17 -2.09M373.97 171.88l-3.07 1.92M375.31 166.85l-5 4.25M374.61 150.43l-3.41 -2.11M348.22 164.4l-0.6 -2.45M343.55 171.72l-5.76 1.59M357.27 165.49l2.47 -1.32M342.26 167.59l-3.3 -0.12M351.63 173.36l4.74 4.79M345.79 177.16l-1.53 3.18M356.7 167.7l4.82 0.8M345.85 163.94l-1.84 -4.03M352.65 178.1l3.84 4.95M390.71 172.98l-2.78 4.87M388.04 177.69l-1.05 5.43M390.36 173.21l-2.57 6.06M384.47 178.71l-3.6 1.12M389.32 168.28l-1.6 -2.02M392.27 167.72l1.29 -1.57M395.83 170.54l2.59 -1.43M384.95 174.18l-4.46 1.98M395.71 176.19l2.46 5.59M359.3 173.91l-4.24 -1.21M374.71 179.63l5.93 1.66M364.96 167.55l-1.99 -3.45M369.43 171.19l4.78 -2.37M368.36 184.18l2.07 6.24M372.17 167.85l2.38 -2.54M359.97 173.78l-1.61 -1.53M381.08 185.51l-4.78 2.49M379.15 182.41l-3.1 0.26M389.84 173.62l4.76 -1.34M382.1 191.93l1.41 6.28M389.23 195.65l1.12 3.95M386.33 186.57l4.19 5.14M375.39 178.15l-3.68 0.52M387.17 184.6l2.84 3.27M386.59 190.14l0.62 4.46M378.24 180.7l-5.67 -0.57M383.82 181.65l2.39 -2.4M355.62 187.64l2.88 -3.64M348.53 196.54l-2.84 4.84M352.41 178.16l0.3 -3.94M362.83 190.85l3.57 -0.63M359.35 186.63l5.08 -1.53M353.91 188.07l4.88 -1.35M352.24 193.2l-0.42 4.32M353.97 186.26l1.42 -1.26M380.27 196.45l4.28 2.88M368.04 194.16l-1.25 -2.59M378.34 185.8l-0.09 -1.64M372.01 195.03l2.45 -2.91M382.74 193.7l5.51 0.91M361.37 201.76l-5.28 3.13M374.15 193.78l3.01 -2.06M375.31 200.22l6.03 1.91M376.42 192.43l4.3 -1.63M374.23 204.15l1.48 5.12M375.91 200.74l3.8 3.76M400.26 198.57l3.36 1.95M395.83 195.24l4.16 0.04M387 202.49l-4.83 -0.94M383.74 192.41l-5.37 -1.92M394.05 198.32l4.08 -0.97M392.48 210.29l2.16 3.24M387.07 197.75l-4.16 -0.31M389.79 196.01l-3 -2.69M368.85 214.22l4.35 -0.62M356.79 215.77l-6.69 2.07M361.87 207.71l3.24 -1.04M356.08 211.04l-3.9 0.12M362.46 215.63l4.28 4.81M357.45 216.9l-4.94 4.83M363.33 212l4.8 3.26M356.81 213.41l-3.4 0.52M381.26 228.58l3.6 4.15M378.69 216.48l-5.43 0.02M380.21 221.06l0.71 3.42M376.52 217.17l-4.55 -0.4M382.47 207.44l1.66 -1.37M386.11 208.13l4.83 -0.16M388.87 219.81l3.48 3.13M377.67 209.52l0.58 -1.41M376.43 230.15l0.41 4.91M382.19 230.97l0.75 6.27M380.23 220.45l-1.2 3.48M377.76 211.58l-5.55 -1.81M385.57 221.54l3.99 4.42M387.9 212.61l3.79 -2.82M368.99 226.98l0.97 3.85M363.84 228.59l-3.65 2.92M361.58 225.38l-5.77 -0.49M365.37 219.16l-4.46 -2.82M366.79 224.52l-2.5 -1.74M373.14 230.45l5.01 2.4" stroke="#243a22" stroke-width="1.1" fill="none"/>
<path d="M367.15 126.43l5.6 -1.52M362.47 129.71l2.68 5.26M347.02 137.57l-5.77 0.2M376.37 142.19l6.64 0.96M366.28 145.15l-3.67 2.7M375.61 136.64l0.13 -1.67M368.27 139.79l-2.24 -0.81M375.23 138.88l4.29 0.85M373.2 135.34l-1.71 -4.05M393.78 152.09l3.76 0.84M371 148.11l3.73 0.07M360.6 151.68l0.57 -4.58M383.73 161.52l4.52 1.63M379.12 158.6l-5.26 -2.65M382.77 163.56l2.64 5.17M354.01 173.71l5.39 4.13M344.27 173.59l-2.55 4.23M351.32 177.52l0.18 5.9M386.08 169.45l-6.41 2.31M387.9 172.55l-5.4 1.65M392.79 168.82l0.04 -1.84M360.06 174.09l-6.11 0.17M363.58 182.13l-4.37 3.43M365.58 183.03l-1.94 5.19M375.92 171.1l1.59 -1.34M383.52 181.46l0.75 -2.3M385.21 190.2l-1.56 5.62M375.04 179.6l-2.68 -2.06M384.4 185.9l2.78 2.69M386.78 191.57l5.73 3.77M362.74 188.46l4.8 2.18M352.65 193.62l2.08 2.79M346.34 189.89l-3.79 0.65M346.98 188.77l-2.67 -0.35M376.61 204.41l2.38 3.37M371.77 194.01l0.57 -3.29M369.83 205.95l-3.5 4.21M372.3 190.84l0.25 -2.2M385.14 197.09l-1.19 -3.95M390.71 191.35l0.53 -3.49M389.6 196.46l0.44 -2.07M395.39 211.44l1.77 3.5M364.43 214.76l5.86 3.28M364.16 209.89l4.77 -1.48M350.56 205.85l-4.4 -1.97M364.86 221.75l2.81 5.63M372.16 208.31l-2.06 -2.39M383.96 220.5l5.62 2.89M384.99 209.03l2.52 -1.46M371.12 210.27l-3.56 -0.86M387.89 225.35l5.83 1.92M374.08 218.72l-5.01 -0.91M373.61 228.75l2.19 4.43M361.93 225.93l-3.88 1.65M369.71 224.9l4.22 0.48" stroke="#4a6040" stroke-width="0.8" fill="none" opacity="0.8"/>
<circle cx="421" cy="141" r="5.6" fill="#0f2214"/>
<circle cx="415" cy="153" r="8" fill="#0f2214"/>
<circle cx="428" cy="156" r="8" fill="#0f2214"/>
<circle cx="447" cy="158" r="6.4" fill="#0f2214"/>
<circle cx="420" cy="170" r="9.6" fill="#0f2214"/>
<circle cx="438" cy="172" r="9.6" fill="#0f2214"/>
<circle cx="454" cy="176" r="8" fill="#0f2214"/>
<circle cx="410" cy="184" r="8.8" fill="#0f2214"/>
<circle cx="428" cy="188" r="10.4" fill="#0f2214"/>
<circle cx="446" cy="192" r="9.6" fill="#0f2214"/>
<circle cx="462" cy="196" r="7.2" fill="#0f2214"/>
<circle cx="416" cy="202" r="8.8" fill="#0f2214"/>
<circle cx="436" cy="206" r="9.6" fill="#0f2214"/>
<circle cx="452" cy="210" r="8" fill="#0f2214"/>
<circle cx="424" cy="218" r="8" fill="#0f2214"/>
<circle cx="442" cy="220" r="7.2" fill="#0f2214"/>
<path d="M424.94 139.55L428.26 138.93L425.18 141.36ZM425.03 142.18L428.41 144.67L424.14 143.78ZM424 143.94L424.48 146.41L422.47 144.94ZM423.3 144.52L423.6 148.35L421.58 145.16ZM420.84 145.2L418.99 149.2L419.07 144.73ZM420.02 145.08L418.01 147.35L418.38 144.28ZM418.29 144.21L415.14 145.16L417.18 142.75ZM417.58 143.44L413.37 143.67L416.87 141.76ZM416.84 140.39L413.92 137.06L417.5 138.68ZM417.11 139.41L413.56 134.42L418.16 137.9ZM418.76 137.45L417.88 130.9L420.49 136.83ZM420.06 136.91L420.96 133.35L421.89 136.9ZM421.16 136.8L422.89 132.83L422.94 137.27ZM423.49 137.62L427.62 133.84L424.69 139ZM424.66 138.94L427.5 137.88L425.19 140.7ZM420.68 151.06L428.39 150.37L420.96 153.66ZM420.95 153.81L425.95 156.57L420.04 156.26ZM419.99 156.33L423.44 162.14L418.1 158.14ZM419.01 157.46L421.19 164.75L416.73 158.75ZM414.71 158.99L411.78 165.73L412.18 158.3ZM413.55 158.82L409.57 164.59L411.21 157.65ZM411.58 157.93L405.83 161.64L409.8 156ZM409.29 154.83L403.38 153.17L409.05 152.22ZM409.02 152.46L403.46 147.94L409.82 149.97ZM409.78 150.04L405.32 142.51L411.54 148.1ZM411.42 148.19L409.66 139.3L413.81 147.12ZM413.57 147.17L414.81 142.56L416.19 147.12ZM414.85 147L417.53 138.53L417.41 147.51ZM417.05 147.36L421.95 140.38L419.26 148.77ZM420.11 149.86L424.11 148.57L420.96 152.33ZM433.99 155.61L440.08 157.1L433.58 158.2ZM433.98 156.51L438.06 158.57L433.19 159.01ZM432.63 159.82L435.25 165.74L430.56 161.43ZM430.88 161.26L431.56 169.43L428.37 161.99ZM429.12 161.89L427.59 170.24L426.5 161.81ZM425.18 161.3L419.64 166.16L423.19 159.59ZM424.15 160.6L419.98 162.03L422.56 158.52ZM422.54 158.5L417.45 157.51L422 155.94ZM422.01 155.66L418.96 152.19L422.72 153.14ZM422.32 154.08L419.95 149.72L423.67 151.84ZM423.32 152.24L421.51 146.35L425.37 150.61ZM426.18 150.28L426.89 142.01L428.79 150.05ZM428.26 150.01L431.39 141.8L430.79 150.69ZM430.94 150.77L436.89 144.33L432.89 152.52ZM432.57 152.11L437.25 149.7L433.79 154.43ZM451.5 156.33L456.95 155.5L451.78 158.41ZM451.67 159.12L456.53 162.29L450.75 161ZM450.92 160.77L453.67 165.54L449.36 162.18ZM449.97 161.77L451.57 168.13L448.09 162.68ZM448.35 162.61L447.52 166.67L446.26 162.74ZM444.7 162.21L442.09 163.57L443.13 160.83ZM443.22 160.96L437.27 162.25L442.32 159.07ZM443.05 160.72L438.92 160.7L442.26 158.78ZM442.23 157.49L436.87 153.24L442.9 155.5ZM442.63 156.02L438.63 150.21L443.88 154.35ZM443.65 154.57L441.8 148.13L445.43 153.47ZM444.71 153.78L444.38 147.51L446.73 153.21ZM446.9 153.2L448.93 147.13L448.95 153.61ZM448.98 153.63L451.39 150.92L450.66 154.89ZM450.79 155.06L454.27 153.3L451.69 156.96ZM427.03 168.45L430.84 169.03L427.02 171.59ZM427.09 171.23L431.08 174.16L425.89 174.14ZM426.09 173.84L430 180.33L423.88 176.07ZM423.06 176.52L422.9 184.32L419.99 177.2ZM421.04 177.13L419.07 183.61L417.9 176.89ZM417.55 176.77L412.05 183.33L414.9 175.08ZM415.83 175.87L411.46 177.79L413.73 173.53ZM413.23 172.46L407.86 170.75L412.83 169.34ZM412.83 169.34L406.87 164.34L413.8 166.35ZM413.02 168.25L408.69 162.8L414.43 165.44ZM416.11 163.94L414.74 153.69L419.06 162.86ZM418.12 163.05L419.29 152L421.26 162.91ZM422.07 163.1L427.36 154.94L424.81 164.64ZM424.43 164.32L430.42 159.7L426.42 166.75ZM426.38 166.67L431.92 165.49L427.19 169.7ZM445.19 171.69L453.85 174.17L444.64 174.79ZM444.82 174.31L451.66 180.38L443.19 176.99ZM443.55 176.59L446.88 184.08L441.07 178.51ZM442.58 177.56L444.66 186.13L439.78 178.98ZM439.99 178.92L438.95 189.31L436.86 179.11ZM435.03 178.56L428.65 185.18L432.52 176.67ZM432.74 176.92L427.4 178.08L431.15 174.21ZM431.34 174.73L424.75 173.52L430.81 171.63ZM430.87 170.99L424.87 165.57L431.98 168.05ZM431.29 169.38L425.83 162.07L433.05 166.77ZM433.75 166.19L432.3 157.11L436.63 164.93ZM435.35 165.3L435.76 156.04L438.46 164.81ZM438.88 164.85L441.82 159.76L441.84 165.91ZM440.95 165.43L444.94 161.08L443.46 167.31ZM443.8 167.74L448.44 165.99L445.06 170.61ZM459.96 175.32L465.59 176.37L459.68 177.92ZM459.99 176.32L465.71 178.69L459.28 178.84ZM458.46 180.01L459.31 183.7L456.33 181.53ZM456.56 181.43L456.44 187.85L454 182ZM453.73 181.99L450.57 189.82L451.21 181.31ZM451.94 181.63L447.2 187.22L449.73 180.22ZM450.63 180.96L445.01 184.64L448.83 179.05ZM448.36 178.05L441.74 176.78L448.02 175.46ZM448 176.18L444.12 172.91L448.5 173.61ZM448.39 173.89L445.84 169.22L449.82 171.7ZM450.23 171.33L448.66 163.55L452.58 170.17ZM452.36 170.23L453.29 162.03L454.98 170.08ZM454.05 170L456.66 163.08L456.6 170.59ZM457.54 171.16L462.91 166.59L459.27 173.13ZM458.31 171.83L462.78 169.19L459.68 174.06ZM416.31 182.08L421.41 182.04L416.53 184.95ZM416.36 185.78L420.37 189.3L414.99 188.31ZM415.79 187.17L420.97 193.95L413.89 189.33ZM413.18 189.79L414.01 199.1L410.41 190.59ZM410.94 190.53L409.19 195.54L408.07 190.31ZM409.13 190.54L405.03 198.69L406.43 189.55ZM406.65 189.68L402.97 191.64L404.54 187.71ZM403.9 186.51L398.25 185.26L403.41 183.67ZM403.53 185.28L398.42 182.68L403.6 182.4ZM404.04 181.17L401.56 175.88L405.81 178.9ZM405.29 179.37L403.97 173.09L407.71 177.81ZM407.91 177.74L408.54 168.1L410.77 177.45ZM410.85 177.46L414.67 169.42L413.56 178.44ZM413.94 178.7L417.55 176.01L415.82 180.89ZM414.6 179.27L421.68 174.68L416.18 181.68ZM435.61 186.27L442.14 186.95L435.62 189.68ZM435.34 190.63L439.14 194.99L433.52 193.51ZM434.4 192.47L439.06 200.75L431.88 194.76ZM431.4 195.02L430.77 200.85L428.08 195.8ZM429.63 195.63L427.85 206.59L426.23 195.6ZM425.33 195.33L420.45 200.58L422.46 193.5ZM421.98 192.96L414.81 194.54L420.44 189.92ZM420.5 190.13L414.73 187.84L420.3 186.73ZM420.2 187.73L414.54 183.13L421.06 184.43ZM420.37 186.38L413.86 179.89L421.79 183.28ZM422.75 182.23L421.27 174.37L425.71 180.54ZM424.98 180.81L425.49 172.37L428.33 180.21ZM429.14 180.28L434.23 169.64L432.32 181.51ZM432.43 181.58L440.64 174.27L434.74 184.08ZM433.88 182.87L438.42 180.84L435.5 185.87ZM452.74 189.48L461.19 188.66L453.18 192.59ZM453.19 192.28L460.4 195.27L452.39 195.32ZM450.94 197.23L453.7 205.86L448.24 198.84ZM449.69 198.18L449.72 204.25L446.71 199.17ZM445.85 199.2L443.18 204.53L442.8 198.45ZM445.24 199.16L441.71 205.77L442.26 198.15ZM440.4 196.52L431.5 199.07L439.01 193.71ZM439.44 194.96L435.21 193.5L438.8 191.88ZM438.8 192.18L433.08 188.18L439.41 189.09ZM439.58 188.74L436.1 182.15L441.58 186.32ZM440.93 186.89L437.8 176.96L443.59 185.21ZM444.53 184.95L446.17 178.49L447.67 185ZM446.81 184.85L449.6 180.08L449.78 185.87ZM449.54 185.73L453.28 182.36L451.87 187.84ZM452 188.01L458.04 185.93L453.12 190.95ZM467.39 195.74L472 196.95L466.99 198.07ZM467.39 196.35L472.71 198.53L466.72 198.61ZM466.53 198.93L469.26 203.5L464.85 200.58ZM464.32 200.88L464.16 206.32L462.02 201.4ZM462.56 201.37L461.04 205.04L460.22 201.1ZM460.78 201.26L458.37 203.98L458.66 200.24ZM458.43 200.05L453.87 201.77L457.05 198.15ZM457.38 198.8L452.94 198.44L456.63 196.57ZM456.71 197.11L450.06 194.82L456.75 194.75ZM457.41 193.15L455.31 188.01L459.06 191.47ZM459.19 191.39L458.45 184.05L461.42 190.63ZM460.3 190.88L461.06 185.57L462.64 190.64ZM462.94 190.68L466.41 183.86L465.11 191.59ZM465.18 191.63L469.45 187.96L466.73 193.4ZM466.77 193.46L470.66 192.38L467.39 195.73ZM422.56 201.32L430.65 202.92L422.23 204.18ZM422.6 202.1L426.42 203.81L421.93 204.9ZM421.1 206.19L424.14 212.99L418.83 207.96ZM420.14 207.14L420.43 211.53L417.56 208.41ZM415.63 208.59L411.97 217.55L412.86 207.8ZM413.02 207.89L409.51 210.13L410.8 206.06ZM411.17 206.5L405.56 207.93L409.71 204.01ZM410.15 205.06L405 204.31L409.41 202.28ZM409.42 201.52L404.64 197.23L410.25 198.76ZM409.65 200.21L407.15 195.81L411.02 197.67ZM410.73 198.02L408.24 191.2L412.93 196.16ZM414.47 195.58L415.81 187.83L417.35 195.54ZM417.82 195.66L422.85 187.59L420.35 197.04ZM420.1 196.83L425.77 192.44L421.91 199.07ZM421.32 198.1L428.22 195.14L422.48 200.74ZM443.1 204.81L447.72 205.7L442.93 207.95ZM443.03 207.56L448.01 211.34L441.7 210.4ZM441.88 210.16L445.01 216.4L439.55 212.27ZM439.65 212.21L440.31 220.58L436.65 213.17ZM437.36 213.07L435.65 218.89L434.22 212.98ZM432.53 212.31L426.18 217.73L430.18 210.23ZM431.73 211.8L424.48 216.38L429.67 209.43ZM429.16 208.23L423.47 206.34L428.86 205.11ZM428.83 206.7L424.23 203.39L429.22 203.58ZM428.97 204.46L424.99 199.41L430.29 201.61ZM432.06 199.97L430.36 188.96L435 198.87ZM434.06 199.06L435.16 188.12L437.2 198.9ZM435.39 198.83L437.85 190.72L438.5 199.25ZM440.65 200.5L445.74 196.99L442.55 203ZM440.86 200.69L448.98 195.11L442.66 203.26ZM457.91 208.95L465.2 209.64L457.79 211.56ZM458 210.19L464.34 212.56L457.34 212.73ZM456.77 213.64L460.3 220.33L454.77 215.32ZM455.43 214.92L455.46 219.01L453.01 215.92ZM452.37 215.99L450.34 221.41L449.79 215.58ZM451.01 215.92L448.35 219.6L448.58 214.93ZM448.82 215.09L443.76 218.57L446.95 213.25ZM446.3 211.88L442.63 210.04L446.04 209.27ZM446.05 210.8L439.34 207.79L446.28 208.19ZM446.28 208.19L441.93 202.63L447.59 205.93ZM447.42 206.12L444.34 198.17L449.51 204.54ZM450.27 204.25L451.33 199.51L452.89 204.07ZM452.17 204L454.96 196.81L454.71 204.65ZM454.38 204.49L457.63 200.79L456.5 206.03ZM456.66 206.23L460.15 204.62L457.83 208.57ZM429.53 215.68L433.37 215.16L429.99 218.26ZM429.96 218.71L435.95 221.73L429.09 221.18ZM428.28 222.2L429.86 227.5L426.09 223.63ZM426.55 223.43L426.75 231.57L423.99 224ZM423.55 223.98L421.1 228.35L421.05 223.22ZM421.75 223.56L416.6 229.36L419.6 222.08ZM419.61 222.09L416.07 222.3L418.29 219.83ZM418.26 219.75L411.58 218.05L418.06 217.14ZM418 217.83L415.1 214.52L418.65 215.29ZM418.17 216.57L415.91 212.64L419.34 214.22ZM420.03 213.5L418.37 206.13L422.33 212.24ZM421.21 212.69L420.67 204.06L423.73 212.01ZM424.35 212.01L426.64 207.44L426.86 212.73ZM427.12 212.88L431.07 209.16L429.01 214.69ZM428.38 213.9L432.57 211.52L429.71 216.15ZM447.37 219.43L450.44 220.09L447.1 221.78ZM447.38 220.5L450.24 222.02L446.65 222.75ZM446.18 223.41L448.7 228.85L444.33 224.87ZM444.88 224.57L444.93 228.79L442.66 225.36ZM443.63 225.15L443.03 233.04L441.29 225.35ZM440.18 225.08L437.54 227.3L438.18 223.82ZM438.21 223.85L432.36 226.08L436.93 221.87ZM437.39 222.81L430.71 223.32L436.63 220.58ZM436.66 220.77L432.15 218.16L436.84 218.42ZM436.99 217.98L432.12 211.61L438.33 216.04ZM438.31 216.05L436.38 208.87L440.34 214.86ZM440.74 214.75L441.85 209.71L443.09 214.71ZM442.42 214.62L444.93 209.12L444.68 215.31ZM444.33 215.13L447.5 211.6L446.18 216.58ZM445.86 216.23L452.3 212.08L447.1 218.23Z" fill="#0f2214"/>
<path d="M416.88 138.37l-3.89 -2.57M424.64 136.59l5.34 -1.15M426.26 140.3l3.7 2.48M426.07 135.77l3.2 -0.3M418.68 134.51l-4.61 -2.65M419.11 142.18l-6.67 0.82M421.39 139.03l-1.19 -2.21M418.06 141.9l-4.59 3.06M422.23 152.64l5.11 0M417.83 152.18l4.07 1.56M416.66 156.52l0.72 6.54M412.78 153.52l-2.96 0.58M410.55 154.74l-2.41 4.09M422.39 160.12l3.12 5.89M409.98 149.32l-3.94 0.24M409.45 160.76l-3.43 1.99M415.09 150.68l-2.71 -3.19M413.04 144.88l0.69 -3.65M420.76 148.43l5.03 -2.03M411.39 158.91l-3.59 1.9M420.51 157.64l4.01 3.27M410.78 158.21l-1.25 4.8M428.55 162.48l-2.36 4.03M425.7 150.32l-0.19 -4.24M422.6 155.91l-5.54 1.2M427.35 159.76l-0.43 4.39M421.52 152.87l-4.42 0.26M428.68 147.46l0.73 -2.99M424.71 156.21l-4.9 2.53M434.71 149.39l4.48 -2.99M425.04 158.63l-2.18 2.9M427.51 146.55l-1.56 -3.68M423.9 159.62l-3.78 2.47M427.78 153.24l-0.41 -3.31M432.23 146.33l3.84 -2.85M428.07 163.93l-2.92 5.14M454.27 157.88l3.74 1.77M451.77 162.8l4.82 5.01M443.11 158.12l-3.66 1.33M445.34 152.49l-3.98 -1.1M449.76 164.13l3.6 5.21M447.39 165.78l2.74 3.75M449.34 158.68l5.14 3.2M443.71 150.81l-3.05 -0.26M427.35 173.14l2.54 4.01M421.08 174.75l0.02 6.4M425.92 172.23l3.82 5.23M417.04 174.2l-1.48 3.5M417.23 169.15l-3.93 0.33M422.64 167.25l3.71 -1.53M426.1 162.92l3.02 -0.49M425.47 173.25l6.83 2.09M413.29 163.42l-2.64 -0.4M415.13 165.16l-2.83 -0.53M426.74 168.78l5.5 0.04M420.3 164.08l3.56 -2.1M420.94 171.69l3.75 4.17M424.46 175.24l3.71 1.9M437.12 166.42l0.38 -2.41M440.89 173.42l5.01 3.06M436.78 159.84l0.21 -4.23M440.82 174.08l3.61 4.9M435.47 180.29l-1.54 4.95M446.85 175.06l4.29 1.26M446.77 174.74l5.43 3.42M441.72 167.1l4.27 -2.66M430.28 173.42l-3.59 0.16M433.02 167.19l-4.38 0.43M436.7 169.31l-2.93 -0.95M430.1 166.51l-1.63 -1.95M435.36 174.61l-5.12 4.07M457.69 170.08l0.1 -3.71M448.69 169.31l-0.76 -1.74M455.69 172.26l2.78 -2.72M454.14 171.38l-1.32 -2.44M456.85 177.1l5.28 3.87M455.57 179.38l0.09 4.92M447.89 173.24l-2.09 -1.21M454.77 171.16l2.42 -3.45M456.43 178.3l1.87 3.05M460.43 178.32l3.01 2.31M407.64 188.13l-2.8 4.65M407.24 185.54l-3.09 1.95M405.83 181.05l-5.61 1.08M399.89 182.07l-4.26 -1.12M416.89 186.64l6.31 -0.18M408.43 193.29l1.1 3.88M419.87 179.52l1.74 -1.02M412.15 175.92l3.47 -1.92M412.41 179.17l4.35 -1.45M415.94 185.17l6.92 0.69M401.55 185.17l-5.31 2.71M408.74 186.31l-0.6 6.16M408.88 185.15l-3.5 4.33M411.64 180.38l5.94 -1.16M409.3 186.44l-1.21 3.7M405.76 190.13l-1.32 3.54M414.15 180.73l3 -0.07M431.13 176.29l1.84 -2.13M418.41 180.06l-5.01 0.59M434.73 179.08l0.12 -3.26M436.41 180.52l2.73 -1.4M430.69 189.91l3.62 1.4M438.88 180.95l4.23 1.43M430.12 189.34l3.62 3.68M426.37 175.76l0.2 -2.68M432.39 189.48l3.58 5.25M429.26 186.28l1.08 -2.49M437.5 182.5l6.79 -0.34M421.17 191.38l-3.53 1.2M433.94 177.2l1.58 -1.76M420.26 188.71l-6.64 0.03M430.96 191.69l3.49 3.16M437.59 188.52l6.11 0.29M432.03 175.3l-0.93 -4M443.7 187.83l-2.63 -1.5M443.91 189.34l-0.1 -3.59M454.62 184.8l3.28 -1.67M443.6 197.87l-4.08 3.84M437.63 194.83l-4.62 3.98M439.19 187.43l-3.09 -3.93M444.21 184.37l-0.23 -2.15M440.96 195.22l-4.2 0.8M450.82 193.56l4.55 0.76M438.73 202.24l-5.68 3.32M444.67 190.9l-1.78 -4.12M447.43 188.19l3.13 -2.68M461.08 198.03l-3.92 4.5M464.42 201.06l1.26 6.51M466.64 202.73l1.23 3.64M458.26 200.32l-3.17 5.79M459.98 191.64l-0.11 -4.18M462.2 193.24l-0.66 -3.8M465.56 194.25l5.81 2.05M454.65 197.27l-2.78 3.21M469.26 194.95l5.62 -0.97M454.44 190.97l-4.4 -0.15M462.45 192.68l-1.42 -4.22M418.88 203.71l5.54 3.38M413.76 204.07l-3.85 2.39M419.82 202.52l3.24 0.05M419.25 196.06l4.73 -0.78M412.54 196.24l-4 -2.95M414.92 206.13l-2.51 4.71M406.05 200.25l-5.69 3.64M417.82 207.79l0.5 4.22M414.78 207.12l-4.25 4.04M413.76 204.54l-5 3.19M422.03 203.92l5.04 0.7M426.54 204.55l3.09 0.65M420.5 205.01l3.48 3.91M421.9 201.34l4.96 3.34M418.13 198.98l1.61 -4.14M437.72 218.07l-0.72 4.47M438.04 196.78l2.46 -1.25M438.55 213.06l0.1 4.58M435.41 209.98l1.56 3.14M428.63 195.9l-0.21 -2.27M425.68 208.42l-4.93 3.5M436.93 197.18l2.1 -3.65M430.45 196.76l-0.09 -3.4M435.95 202.88l-2.61 -2.66M446.28 207.32l5.2 4.57M445.03 204.69l5.64 -0.57M433.84 205.49l-2.01 -0.99M436.18 215.76l-1.09 3.62M424.91 205.11l-3.45 1.91M434.25 208.45l-3.77 2.37M440.2 196.04l4.11 -2.18M431.06 216.82l0.56 5.07M434.03 206.89l-2.98 4.62M454.21 207.16l6.4 -0.67M446.91 211.06l-6.81 0.9M455.66 206.13l3.38 -2.73M453.28 211.1l6.93 1.13M450.71 204.51l1.21 -1.92M453.4 215.58l3.74 3.21M461.27 208.61l5.31 -0.97M453.53 212.08l0.86 6.16M453.88 212.08l5.06 4.1M453.87 210.01l6.09 -0.67M456.94 206.48l5.34 -1.76M424.33 212.59l-1.14 -1.41M431.2 213.64l3.89 0.11M426.03 225.04l2.98 2.67M425.82 222.83l3.19 3.48M421.96 218.65l-5.23 3.65M430.62 223.96l5.52 2.56M426.15 214.5l0.18 -2.81M420.89 214.31l-2.65 -1.12M428.69 214.41l3.72 -2.84M414.73 219.89l-4.66 2.38M424.03 225.44l1.02 4.85M424.18 216.32l1.67 -1.9M433.93 220.39l-3.27 1.23M440.57 210.25l-3.53 -2.1M434.73 223.05l-5.44 1.78M440.39 223.25l-2.3 6.03M433.88 219.6l-3.01 1.76M447.18 222.95l4.25 4.23M441.62 214.8l1.22 -2.76M437.85 215.76l-3.32 -0.02M438.6 212.92l-2.76 -0.06M439.27 216.57l-3.6 -1.84M439.35 216.98l-3.22 0.63M439.17 218.14l-3.37 1.06M440.26 213.77l-3.41 -1.65M441.57 225.21l-0.08 4.18" stroke="#0c1b10" stroke-width="1.5" fill="none"/>
<path d="M422.71 140.05l4.25 1.79M417.31 141.85l-2.99 1.76M420.85 148.17l-0.85 4.23M420.94 146.42l1.03 3.29M420.83 138.33l-2.64 -1.29M417.78 145.85l-2.58 5.31M424.85 138.47l4.46 1.45M418.38 153.98l4.06 1M417.86 156.05l3.48 4.01M407.49 147.38l-3.08 1.12M414.62 144.46l-0.16 -3.35M414.73 157.83l-0.9 4.06M420.82 149.28l2.27 -1.77M411.9 145.42l-3.78 -2.06M415.17 154.51l2.69 4.8M417.72 158.76l1.64 5.53M409.42 152.6l-4.25 1.21M434.26 153.56l2.81 -0.52M423 151.86l-5.42 0.98M429.66 155.69l4.22 0.74M419.6 158.93l-2.46 3.85M428.67 157.41l3.87 4.44M430.45 162.6l-0.76 5.8M426.97 152.32l-0.49 -2.05M421.62 151.09l-5.78 -1.7M426.35 163.64l-1.6 3.21M445.08 160.56l-5.62 2.82M444.08 158.08l-3.41 1.46M443.22 154.76l-1.35 -1.61M449.2 159.97l3.18 4.14M447.56 161.88l1.36 4.17M445.03 161.63l-2.67 2.56M446.35 154.41l-1.99 -1.6M442.94 165.43l-4.08 2.44M452.47 156.86l6.44 -0.58M445.68 166.46l-2.03 4.17M442.9 159.81l-5.56 3.99M426.79 172.47l5.15 1.57M412.8 173.47l-5.09 2.15M420.47 172.11l1.8 5.86M429.96 175.23l2.11 3.59M418.68 171.75l-1.32 4.3M417.08 170.52l-4.6 2.68M410.65 167.77l-6.3 0.3M417.93 168.2l-3.77 -0.31M416.56 166.3l-5.92 -0.6M413.48 171l-4.22 3.7M423.44 172.38l4.76 3.72M412.09 165.26l-4.87 -0.47M416.13 171.58l-4.78 2.25M440.31 163.18l2.88 -3.19M438.03 169.91l0.39 -3.78M440.46 169.07l1.23 -1.33M445.12 179.57l3.4 3.22M432.84 173.08l-4.74 4.97M436.77 173.45l-2.79 2.09M444.75 180.38l3.43 1.57M431.02 165.63l-5.18 0.32M441.9 161.36l3.86 -2.95M439.41 173.64l3.6 4.1M444.69 171.43l5.58 1.59M434.54 183.34l0.78 3.52M439.97 172.91l4.56 1.22M455.1 177.95l4.49 5.3M461.18 183.14l4.53 2.24M462.67 174.31l6.33 -1.08M462.66 171.68l3.41 1.25M463.76 176.29l5.38 1.02M455.57 180.26l0.76 4.44M456.65 180.64l2.71 5.59M448.7 176.07l-3.37 3.08M452.72 174.2l-0.83 -4.17M448.23 170.5l-3.68 -2.13M450.71 182.06l-4.3 3.56M454.06 174.34l1.18 -3.63M413.2 183.13l3.15 -1.15M416.48 176.93l1.83 -2.37M420.81 183.75l5.46 3M417.93 180.46l4.99 -0.1M410.4 186.39l0.35 5.54M403.35 177.84l-1.7 -1.27M411.11 174.23l1.45 -3.64M419.37 185.86l-2.78 -1.37M433.83 186.87l3.34 0.81M420.21 192.31l-1.92 4.08M419.94 177.36l-3.33 -3.77M435.03 196.34l0.76 3.33M421.31 187.63l-3.31 1.52M424.72 189.73l-5.03 1.25M424.35 195.66l-2.25 4.27M433.91 190.43l2.59 2.35M432.17 177.28l3.87 -2.06M429.56 192.18l1.34 4.19M431.58 186.12l3.95 -3.22M428.79 180.65l4.29 -3.03M435.57 189.95l-3.72 1.08M454.4 188.9l3.85 0.68M455.92 188.15l3.09 -0.02M451.7 194.16l6.58 2.13M451.16 197.58l2.22 3.65M445.35 194.31l-2.89 4.96M452.7 198.55l6.1 3.29M442.42 193.49l-2.67 4.52M451.04 195.58l4.52 2.5M444.66 197.46l-1.03 4.81M441.92 186.41l-3.6 -1.85M447.53 200.69l-1.52 4.64M447.75 189.4l1.02 -3.14M454.48 193.36l4.94 0.02M443.98 194.94l-2.65 5.98M457.03 202.22l-5.32 4.46M457.63 189.3l-0.93 -2.94M460.87 191.89l-1.59 -2.97M464.85 195.49l4.99 2.4M459.49 187.16l-0.24 -1.88M456.08 192.48l-3.67 -0.78M464.06 195.06l3.52 -2.07M465.28 193.57l5.16 -0.44M460.8 193.86l-1.05 -1.79M408.68 198.26l-4.03 0.9M418.2 203.4l2.95 1.75M412.07 201.26l-5.9 3.11M414.98 198.26l1.21 -2.85M422.16 203.44l5.11 3.85M419.7 195.55l2.82 -3.3M420.47 199.06l1.71 -1.24M424.81 206.85l5.07 3.97M433.72 197.37l-0.47 -2.19M429.87 206.67l-6.54 -0.92M436.21 212.36l-2.67 5.73M447.69 204.42l3.78 -0.05M446.44 211.7l6.14 1.23M425.34 208.04l-3.64 0.69M438.31 205.36l4.36 1.44M441.38 217.08l-0.3 3.48M436.14 217.01l3.24 5.95M437.69 204.03l3.6 -3.57M434.77 218.79l-1.07 3.49M433.87 203.37l-5.83 -0.89M447.45 202.8l-0.51 -2.11M453.28 212.37l2 3.59M450.29 206.66l0.01 -2.85M448.91 217.6l-5.77 3.28M450.69 212.65l-2.24 3.67M452.68 214.75l2.03 5.93M453.06 211.16l4.95 2.49M448.86 208.31l-5.49 1.26M431.82 217.6l4.69 1.63M428.7 215.48l3.99 -0.42M426.26 212.98l5.08 -2.11M429.54 210.44l5.1 -0.67M428.83 217.63l6.37 1.65M430.22 226.24l0.3 5.54M426.61 211.75l2.45 -2.28M425.75 210.19l3.49 -3.07M440.45 213.69l-1.27 -4.28M450.04 222.33l5.18 4.02M442.29 222.55l0.73 5.44M442.9 226.12l-2.55 5.61M440.09 224.26l-0.69 4.01M444.34 214l2.33 -1.95M433.73 216.77l-5.1 -0.02" stroke="#243a22" stroke-width="1.1" fill="none"/>
<path d="M420.04 140.71l-5.26 0.83M425.39 143.09l4.97 0.4M421.67 143.29l3.2 5.44M422.62 158.05l1.52 4.48M410.08 152.99l-2.96 2.03M434.22 154.55l3.8 1.32M429.57 155.49l4.44 2.25M425.65 152.07l-3.95 -0.05M451.2 161.85l6.21 3.16M418.21 168.28l-1.37 -1.38M409.98 173.23l-2.75 2.35M424.34 168.98l2.57 -0.87M427.6 162.7l3.62 0.15M443.1 168.97l2.59 -3.31M447.8 167.85l2.94 -2.93M435.48 180.39l-1.98 4.26M438.35 170.1l2.44 -1.02M439.99 168.09l-0.1 -3.95M455.68 171.97l3.4 -2.86M448.75 179.93l-3.91 2.81M447.52 173.64l-6.32 -0.09M458.53 179.98l3.82 4.54M412.04 184.3l3.04 2.77M407.57 181.89l-3.12 0.22M409.5 190.13l1.79 4.53M417.64 186.11l6.52 1.8M430.9 199.78l0.13 5.53M419.55 185.92l-3.98 -1.26M432.63 199.49l1.85 5.65M445.83 194.97l3.11 4.92M443.17 184.26l-0.57 -3.79M454.68 195.19l6.02 3.31M445.43 185.63l1.22 -2.24M466.44 194.56l3.3 0.39M458.49 192.57l-3.43 -0.24M458.09 203.54l-0.7 4.05M421.98 207.43l2.01 4.06M411.72 196.16l-3.07 -0.54M411.9 203.34l-4.87 2.4M412.52 203.77l-6.61 0.58M415.16 203.93l-2.57 4.82M427.82 208.25l-4.9 -0.43M455.62 204.69l1.29 -1.75M451.82 199.89l1.51 -1.5M453 208.85l5.74 -0.03M446.83 201.11l-4.14 -1.52M445.26 207.84l-4.9 0.99M459.18 205.11l4.43 -3.24M448.84 202.01l-3.85 -0.64M419.21 219.64l-5.35 4.42M419.18 212.67l-0.85 -2.05M425.1 221.04l-1.07 3.84M418.65 221.47l-3.41 1.16M425.43 208.31l2.27 -0.78M425.75 219.21l1.27 3.29M443.91 218.47l3.1 0.67M443.2 226.02l0.62 6.39" stroke="#4a6040" stroke-width="0.8" fill="none" opacity="0.8"/>
<circle cx="328" cy="147" r="6.4" fill="#25351a"/>
<circle cx="322" cy="160" r="8" fill="#25351a"/>
<circle cx="334" cy="166" r="8" fill="#25351a"/>
<circle cx="318" cy="178" r="9.6" fill="#25351a"/>
<circle cx="336" cy="184" r="9.6" fill="#25351a"/>
<circle cx="324" cy="198" r="10.4" fill="#25351a"/>
<circle cx="340" cy="204" r="8.8" fill="#25351a"/>
<circle cx="312" cy="206" r="8.8" fill="#25351a"/>
<circle cx="328" cy="220" r="10.4" fill="#25351a"/>
<circle cx="316" cy="232" r="9.6" fill="#25351a"/>
<circle cx="338" cy="236" r="9.6" fill="#25351a"/>
<circle cx="326" cy="248" r="8" fill="#25351a"/>
<path d="M332.73 146.15L336.44 146.4L332.63 148.25ZM332.62 148.3L337.19 151.64L331.62 150.15ZM331.88 149.83L334.6 154.68L330.31 151.21ZM329.69 151.49L329.42 158.09L327.62 151.78ZM328.22 151.79L326.18 158.4L326.16 151.43ZM326.72 151.63L324.44 153.93L324.87 150.64ZM325.43 151.05L320.39 154.76L323.95 149.57ZM323.86 149.44L320.34 148.8L323.22 147.44ZM323.26 147.75L320.11 145.46L323.39 145.66ZM323.35 145.82L319.73 141.46L324.29 143.95ZM324.78 143.44L323.08 136.88L326.6 142.41ZM327.16 142.27L328.37 137.42L329.25 142.37ZM328.16 142.2L330.17 137.42L330.19 142.73ZM330.41 142.85L333.9 139.23L331.95 144.27ZM332.27 144.81L336.96 143.45L332.8 146.84ZM327.75 158.3L334.95 158.02L327.93 160.91ZM327.85 161.35L332.19 164.53L326.71 163.71ZM327.29 162.83L330.08 166.99L325.58 164.82ZM325.07 165.15L326.01 173.25L322.58 165.97ZM321.99 166L320.01 169.59L319.44 165.43ZM321.06 165.93L318.2 170.28L318.63 164.96ZM318.32 164.74L314.17 166.43L316.65 162.72ZM316.24 161.68L309.13 159.92L316.07 159.07ZM316.06 160.88L312.29 158.21L316.26 158.26ZM316.28 158.19L313.33 153.55L317.59 155.93ZM317.29 156.28L316.16 151.39L319.32 154.63ZM321.01 154.08L322.59 148.04L323.63 154.22ZM322.87 154.06L326.63 146.17L325.31 155ZM325.83 155.38L331.78 150.81L327.43 157.46ZM326.78 156.37L332.17 153.91L327.87 158.75ZM339.65 163.98L344.46 163.56L339.97 166.58ZM339.55 168.27L341.57 171.03L338.06 170.42ZM338.16 170.32L339.16 174.91L335.93 171.68ZM336.5 171.45L336.23 177.38L333.94 172ZM333.63 171.99L331.01 177.17L331.11 171.26ZM332.05 171.68L328.89 174.72L329.82 170.31ZM330.01 170.48L326.12 171.49L328.48 168.36ZM328.37 168.06L322.39 166.71L328.02 165.47ZM328.11 167.16L324.54 164.73L328.18 164.54ZM328.94 162.78L325.77 156.12L330.79 160.93ZM329.33 162.24L328.24 157.34L331.37 160.6ZM331.59 160.51L331.45 151.39L334.16 160ZM333.89 160L336.57 151.76L336.45 160.52ZM337.61 161.21L341.04 158.59L339.31 163.21ZM338.84 162.46L343.05 160.69L339.89 164.86ZM324.59 175.1L333.19 173.69L325.2 178.18ZM325.05 179.47L327.98 182.11L323.75 182.33ZM324.38 181.34L327.64 186.29L322.35 183.74ZM320.95 184.57L321.03 194.24L317.87 185.2ZM319.2 185.1L317.33 192.19L316.07 184.94ZM316.14 184.95L312.06 190.16L313.35 183.5ZM313.68 183.76L307.56 187.17L311.64 181.38ZM311.96 181.92L304 182.84L310.87 178.97ZM310.92 179.29L301.83 176.28L311.04 176.15ZM311.39 175.15L307.02 168.35L313.23 172.6ZM313.02 172.8L311.84 166.19L315.7 171.18ZM314.78 171.56L315.31 165.72L317.83 170.8ZM317.95 170.8L320.39 165.51L321.02 171.46ZM321.57 171.75L327.91 165.25L323.9 173.87ZM322.88 172.71L330.28 167.72L324.67 175.29ZM342.9 181.95L352.07 181.77L343.12 185.08ZM343.08 185.33L347.7 188.67L341.83 188.22ZM342.55 186.99L348.09 193.38L340.65 189.5ZM340.17 189.87L341.3 197.65L337.27 191.09ZM338.21 190.85L337.33 199.91L335.08 191.14ZM334.93 191.12L331.82 195.62L332 189.98ZM332.4 190.24L327.54 193.54L330.09 188.11ZM329.24 186.47L323.27 184.85L328.83 183.35ZM328.94 185.39L319.85 182.53L329.02 182.25ZM329.6 180.7L324.51 172.56L331.62 178.29ZM331.55 178.34L330.93 171.78L334.39 176.98ZM334.92 176.88L337.06 166.98L338.06 177.1ZM337.16 176.89L340.87 170.17L340.08 178.07ZM339.46 177.69L346.57 170L341.82 179.76ZM341.51 179.36L350.26 174.86L342.96 182.15ZM331.73 196.93L338.19 198.3L331.45 200.32ZM331.78 198.61L339.16 202.23L330.77 201.87ZM329.78 203.24L332.45 210.75L326.99 205.2ZM328.87 204.1L330.25 211.81L325.81 205.59ZM324.43 205.79L321.22 216.36L321.07 205.23ZM321.46 205.38L316.1 211.76L318.56 203.59ZM318.63 203.66L310.55 207.22L316.73 200.83ZM316.95 201.33L312.32 199.94L316.2 198.01ZM316.33 199.42L310.68 196.46L316.46 196.02ZM317.12 194.32L312.45 186.18L319.35 191.74ZM319.8 191.43L318.09 179.62L322.99 190.27ZM320.94 190.83L320.97 179.65L324.28 190.21ZM325.25 190.3L330.13 180.58L328.41 191.56ZM328.49 191.62L334.92 186.23L330.78 194.14ZM330.84 194.25L340.09 191.86L331.79 197.52ZM346.18 201.67L354.42 200.75L346.58 204.53ZM346.36 205.77L349.15 208.57L345 208.31ZM346.03 206.69L349.3 210.9L344.31 209ZM342.72 210.01L342.42 216.69L339.9 210.6ZM339.48 210.58L337.04 214.37L336.73 209.73ZM337.67 210.17L333.18 214.99L335.26 208.59ZM335.5 208.83L329.5 211.17L333.87 206.45ZM334.29 207.32L329.17 206.85L333.42 204.57ZM333.47 204.93L328.13 201.97L333.69 202.06ZM333.96 201.34L331.54 196.27L335.67 199.02ZM336.41 198.46L335.5 190.17L339.11 197.46ZM336.88 198.18L336.96 191.64L339.65 197.41ZM339.57 197.41L342.03 189.44L342.42 197.86ZM342.95 198.09L347.55 193.05L345.18 199.91ZM345.04 199.74L349.39 197.67L346.38 202.3ZM318.58 205.49L322.3 206.66L318.17 208.34ZM318.58 206.51L324.31 209.25L317.73 209.27ZM316.66 210.67L317.42 215L314.22 212.21ZM315.25 211.74L315.91 219.99L312.5 212.58ZM312.26 212.59L309.55 220.77L309.43 212.08ZM309.78 212.21L304.25 219.1L307.34 210.68ZM307.37 210.71L302.57 211.94L305.81 208.29ZM305.77 208.19L301.51 206.39L305.43 205.33ZM305.41 206.27L301.49 202.9L305.92 203.43ZM305.57 204.53L300.26 198.89L306.8 201.93ZM308.25 200.57L307.74 193.91L310.92 199.49ZM309.12 200.06L308.95 191.42L311.92 199.4ZM312.98 199.47L316.63 192.37L315.67 200.51ZM315.56 200.44L319.16 197.4L317.59 202.48ZM317.2 201.94L325.2 198.15L318.44 204.55ZM335.48 217.8L345.03 217.74L335.71 221.19ZM335.77 220.69L340.07 223.33L334.73 223.94ZM334.85 223.72L338.96 229.87L332.62 226.29ZM331.14 227.14L331.11 237.35L327.8 227.8ZM327.94 227.8L324.55 236.33L324.63 227.03ZM324.49 226.96L317.41 233.7L321.86 224.8ZM323.39 226.29L318.59 228.38L321.15 223.73ZM321.66 224.55L315.51 224.99L320.33 221.42ZM320.28 221.14L313.19 217.8L320.53 217.75ZM320.57 217.64L314.91 210.66L322.28 214.7ZM321.84 215.22L319.64 208.13L324.46 213.05ZM324.95 212.82L325.04 201.86L328.3 212.21ZM329.11 212.28L334.09 201.8L332.29 213.49ZM332.41 213.56L340.61 206.21L334.73 216.06ZM334.21 215.28L339.79 213.09L335.63 218.37ZM322.8 229.62L331.81 228.95L323.16 232.74ZM322.91 234.03L328.03 238.54L321.38 236.78ZM321.36 236.8L324.77 245.07L318.81 238.63ZM320.73 237.42L321.52 242.81L317.97 238.92ZM318.03 238.91L316.86 246.42L314.89 239.11ZM314.88 239.11L310.62 246.78L311.96 237.96ZM311.43 237.56L304.27 241.38L309.49 235.08ZM309.25 234.49L303.62 232.86L308.83 231.38ZM308.88 230.91L303.64 225.72L310.02 227.99ZM308.97 230.44L304.29 224.99L310.31 227.59ZM310.33 227.57L308.25 220.88L312.75 225.57ZM314.35 224.99L315.87 219.88L317.49 224.96ZM317.78 225.02L323.07 216.08L320.58 226.45ZM319.51 225.71L325.62 219.36L321.85 227.81ZM322.09 228.16L328.66 226.04L323.15 231.12ZM344.75 233.48L353.3 232.67L345.18 236.6ZM344.9 238.05L348.99 241.93L343.37 240.79ZM342.95 241.23L345.57 249.58L340.25 242.84ZM342.68 241.47L343.48 246.99L339.91 242.94ZM337.76 243.2L334.31 251.58L334.72 242.41ZM336.29 242.99L332.66 247.53L333.47 241.6ZM333.4 241.54L328.17 243.64L331.48 239.05ZM331.44 238.97L326.43 237.7L330.8 235.9ZM330.89 237.14L326.96 234.25L331.08 234ZM331.68 232.56L327.8 225.34L333.75 230.19ZM332.4 231.48L329.97 224.17L334.85 229.52ZM334.96 229.48L335.29 222.12L338.03 228.8ZM339.38 228.93L343.1 222.64L342.26 230.19ZM342.2 230.15L348.2 225.16L344.29 232.5ZM344.08 232.14L353.14 228.99L345.14 235.09ZM331.86 246.73L339.34 247.11L331.85 249.35ZM331.98 248.46L337.54 250.96L331.22 250.96ZM330.58 251.87L331.51 255.46L328.49 253.46ZM328.55 253.43L328.36 259.56L325.99 254ZM326.53 253.98L324.45 260.96L323.94 253.63ZM323.54 253.47L320.48 255.59L321.44 251.9ZM322.09 252.55L315.43 255.97L320.52 250.45ZM320.43 250.23L315.11 248.98L320.01 247.65ZM320.01 248.36L315.69 245.17L320.43 245.78ZM320.17 246.6L317.63 242.55L321.32 244.25ZM322.89 242.87L322.87 237.39L325.37 242.03ZM324.64 242.16L325.91 236.79L327.26 242.13ZM326.74 242.05L329.48 236.85L329.2 242.93ZM329.43 243.08L335.9 237.16L331.2 245.01ZM331.25 245.1L337.95 243.15L331.99 247.61Z" fill="#25351a"/>
<path d="M328.79 151.44l3.44 4.62M326.63 146.11l-3.08 -1.86M330.51 150.29l2.69 5.95M321.74 148.6l-4.38 2.39M321.88 143.99l-2.61 -0.39M323.24 146.04l-3.22 1.98M327.34 149.89l-2.76 4.74M326.3 151.56l-2.62 4.11M321.72 145.72l-5.86 2.57M323.6 144.12l-3.35 1.23M325.52 148.98l-1.97 3.8M332.51 147.9l4.4 4.83M320.79 163.72l0.35 3.9M324.5 157.33l3.18 -1.08M319.94 162.56l-5.46 1.75M330.89 157.31l3.82 2.2M321.23 158.61l-3.2 -3.32M322.5 163.66l0.4 5.34M323.95 154.14l0.84 -1.38M320.46 162.52l-5.72 3.27M320.64 165.29l-0.51 5.88M316.5 154.13l-4.36 -0.38M322.84 156.39l2.3 -1.2M330.69 173.47l-4.32 4.69M327.97 173.7l-5.25 3.14M329.38 173.18l-3.81 5.21M324.44 164.82l-4.87 -0.01M333.01 168.75l-1.29 4.97M340.44 166.76l4.53 1.63M337.02 168.33l1.48 3.46M335.84 162.69l2.85 -3.37M332.53 165.4l-4.22 2.07M330.73 167.3l-3.71 1.75M340.21 159.09l3.27 -1.38M337.32 161.61l2.93 -4.07M335.17 166.77l5.01 3.3M336.65 165.91l5.57 4.32M324.72 168.1l-4.96 -0.87M315.61 184.7l-3.3 3.79M310.3 179.05l-3.67 0.75M307.41 179.9l-5.55 3.55M318.95 179.55l3.45 4.13M314.35 187.44l0.75 3.39M325.39 178.27l4.68 4M308.16 175.53l-5.28 -1.83M312.39 173.09l-6.24 0.36M312.23 178.7l-3.14 2.03M309.61 180.38l-6.57 2.62M319.83 175.12l6.01 -0.56M317.61 180.28l-2.21 5.22M327.31 171.7l6.54 1.79M325.38 174.52l4.65 0.09M317.69 174.04l-3.34 -3.38M332.17 190.76l-4.18 2.76M326.06 182.51l-3.16 -0.32M341.26 176.62l5.6 -0.08M337.84 190.22l0.14 4.54M346.12 184.43l4.28 -1.11M343.19 188.47l3.68 4.6M341.8 188.23l4.23 2.71M342.78 186.86l4.85 2.62M336.09 186.43l-1.45 4.05M327.33 179.48l-3.84 -1.91M335.19 187.61l-1.98 5.75M340.41 194.38l-0.07 4.57M340.41 172.78l2.5 -2.71M337.84 179.02l2.88 -1.83M330.29 194.59l-5.75 3.83M323.33 194.79l-3.5 -2.05M319.3 194.14l-6.18 0.67M333.82 192.6l6.36 -0.78M315.76 191.77l-6.16 -0.5M323.34 202.53l-2.2 5.75M326.88 201.18l1.4 3.61M324.7 210.18l-3.47 5.09M335.36 192.05l5.23 0.65M326.27 197.66l4.68 -1.84M335.72 204.4l-6.8 1.05M339.61 206.15l0.28 6.3M334.35 210.63l-2.53 6.03M342.04 199.65l1.97 -0.98M339.51 198.97l-0.54 -1.38M342.14 196.48l-0.78 -2.87M336.15 194.79l0.41 -1.76M347.84 201.04l2.67 -1.23M339.79 211.73l-0.92 5.37M336.84 194.36l-0.31 -4.53M336.36 200.24l-3.47 -1.17M310.27 214.34l-4.75 3.98M308.45 207.13l-4.5 3.12M312.91 197.97l2.9 -2.46M312.58 208.24l3.45 3.31M312.84 201.58l-1.14 -2.34M317.89 209.05l5.72 -0.03M309.19 194.97l-1.29 -2.44M315.87 197.06l5.2 -1.69M313.97 212.12l3.18 5.16M314.08 203.48l4.92 -2.91M311.33 207.63l0.37 3.87M309.58 211.88l1.07 5.76M316.31 213.67l4.06 2.82M316.93 211.76l6.23 2.93M312.64 203.64l0.77 -1.62M340.24 217.7l3.94 0.3M329.07 211.68l-1.28 -2.91M322.99 223.7l-5.73 1.69M331.64 220.18l6.8 1.58M325.75 224.95l-2.28 3.76M328.21 217.88l-0.11 -2.69M322.78 218.14l-4.16 0.74M335.27 209.88l0.51 -4.32M333.07 218.95l3.28 -1.64M316.73 226.48l-3.49 1.26M331.53 232.34l4.9 4.92M327.48 222.02l-0.37 5.47M335.22 227.05l5.03 2.52M324.2 222.77l-3.16 1.73M332.16 220.18l3.95 2.21M328.51 216.02l0.84 -1.42M326.16 218.84l-3.95 1.16M326.37 222.16l-5.3 3.8M326.34 217.79l-4.14 -2.63M322.95 239.54l3.35 2.32M307.26 237.47l-2.79 2.8M312.89 236.9l-0.4 3.9M315.95 230.12l1.9 -1.76M319.41 227.92l1.95 -0.99M314.15 234.77l-5.99 2.41M317.63 232.42l2.85 3.3M308.8 232.96l-3.99 4.17M316.61 236.08l-0.75 3.48M310.68 230.38l-4.83 0.08M323.64 240.84l0.98 5.22M321.07 237.22l4.74 1.31M312.97 219.96l-3.29 -2.36M316.51 234.4l-1.91 5.95M312.53 235.43l-6.31 3.37M316.61 228.6l3.91 -3.27M346.15 237.68l3.04 1.94M345.76 232.24l4.62 1.82M336.45 248.88l-1.76 3.4M334.45 239.72l-5.12 1.82M334.94 244.45l0.45 6.03M342.85 223.97l3.46 -1.97M343.69 241.05l3.46 0.99M336.69 234.3l-1.19 -3.65M341.28 232.08l4.51 -2.24M337.1 240.28l0.06 4.62M333.74 226.38l-1.33 -4.14M330.95 246.18l-5.99 2.62M337.19 242.71l1.67 3.27M340.03 242.2l3.74 4.24M340.09 238.37l3.52 2.98M326.42 243.78l-2.42 -2.61M326.51 252.72l-0.56 4.1M325.42 237.41l0.5 -1.89M322.56 256.64l-2.6 5.2M324.45 246.05l-1.07 -1.36M323.93 239.14l0.6 -2.03M327.74 246.03l1.03 -2.63M333.4 247.26l3.26 -0.18M322.29 246.63l-3.62 -2.41M329.39 243.65l1.76 -4.35M324.88 254.63l-4.09 4.3M329.01 257.91l3.07 4.52M322.98 245.43l-5.23 -0.2" stroke="#1a2912" stroke-width="1.5" fill="none"/>
<path d="M322.55 147.53l-4.26 0.83M334.98 150.99l6.29 0.04M330.02 139.65l2.59 -3.49M329.59 147.28l5.71 3.2M324.43 144.12l-5.15 -1.21M331.56 150.12l1.77 5.32M325.1 163.22l1.16 6.12M329.18 162.17l3.8 1.32M327.2 167.52l-0.12 3.94M320.62 162.71l-2.75 3.53M324.54 160.76l6.66 1.72M319.58 156.17l-2.95 -2.59M324.35 159.17l3.67 -0.26M322.29 162.95l3.82 4.03M315.83 163.6l-4.01 1.39M333.25 172.97l0.38 4.91M334.25 174.78l-3.23 4.6M341.53 164.74l5.64 2.51M336.88 162.17l0.77 -1.72M343.41 167.64l3.36 -0.1M341.05 167.01l5.55 1.18M335.62 166.91l4.42 3.15M336.19 165.85l4.77 -0.02M332.25 165.14l-3.67 -0.92M330.85 168.56l-5.07 2.08M316.3 173.81l-6.23 -1.41M308.4 182.82l-2.7 4.68M315.38 178.01l-5.3 2.36M329.26 180.99l3.62 0.42M307.38 176.29l-6.43 2.21M314.81 186.98l-5.8 3.86M316.14 178.34l-3.56 2.35M317.43 188.14l-1.85 4.48M322.03 170.58l3.39 -3.29M318.46 180.88l-0.2 4.47M312.51 187l-3.21 3.45M329.56 182.53l-6.61 2.06M334.25 182.13l-5.1 -0.03M337.07 181l2.09 -3.99M340.79 186.15l5.5 1.31M326.75 180.82l-3.64 1.56M330.43 179l-6.65 -0.53M330.74 176.05l-2.53 -0.51M338.15 184.55l2.85 3.72M337.61 188.15l-0.87 5M329.48 181l-3.59 -0.78M327.56 185.56l-5.48 0.56M329.92 183.05l-3.22 2.6M332.11 183.48l-4.49 3.34M328.7 193.55l2.37 -1.6M324.87 206.42l1.47 3.71M323.14 191.19l-1.49 -2.4M328.81 207.22l-0.18 5.62M327.58 188.79l4.98 -2.64M319.32 207.1l-1.75 3.19M332.15 202.91l4.73 0.34M324.16 200.66l-0.74 4.65M320.08 204.47l-1.7 3.08M331.95 196.74l3.38 0.47M321.24 186.51l-0.61 -1.51M320.98 199.8l-6.32 2.78M327.23 200.04l4.27 2.4M331.82 194.4l3.22 -2.88M326.08 185.79l1.31 -3.06M331.92 199.84l5.15 2.99M341.03 208.84l0.06 4.18M342.99 207.71l3.54 2.08M339.64 209.51l-0.81 5.55M337.67 204.42l-4.48 2.16M346.22 210.42l4.9 4.29M347.77 209.09l5.99 0.47M340.88 196.66l-0.51 -3.01M336.48 212.08l0.48 3.39M333.84 211.79l-4.89 4.71M337.13 210.93l-2.48 2.99M341.55 202.17l4.21 -2.68M344.41 198.21l1.97 -4.18M319 201.87l4.46 -2.82M314.83 203.91l5.21 -1.68M312.77 212.41l-1.21 4.48M308.61 210.48l-3.66 5.14M308.3 202.15l-4.61 0.03M304.63 205.26l-5.66 3.32M321.03 200.97l5.4 -2.07M309.35 206.97l-4.63 0.51M317.06 204.66l4.02 -0.04M318.06 214.77l0.01 4.08M308.91 202.83l-3.02 0.74M329.12 223.84l2.99 4.28M326.34 230.02l1.49 6.14M325.46 226.32l0.94 4.01M329.39 222.11l2.89 3.55M333.63 216.13l3.57 -1.3M327.61 223.68l-2.19 3.54M324.53 225.78l-4.94 4.48M328.72 223.62l-1.09 3.65M330.96 212.43l1.07 -2.12M331.75 224.38l6.04 1.61M326.12 229.99l-2.73 3.96M316.75 230.04l-0.84 -3.21M315.42 235.11l-2.02 6.13M315.47 242.61l-1.13 4.73M318.78 234.94l2.7 2.36M316.88 229.62l5.45 -1.96M314.56 237.24l0.22 4.81M311.01 233.62l-4.89 4.14M315.81 223.22l-0.64 -4.29M317.74 236.5l3.52 3.97M315.75 241.37l-3.32 5.86M323.21 232.19l2.93 2.19M304.85 228.12l-4.85 -2.41M343.52 244.76l2.5 3.94M345.93 228.68l3.97 0.62M329.65 244.24l-2.69 3.38M329.61 229.42l-4.53 -0.02M335.83 232.32l-6.41 -0.94M340.63 230.25l1.03 -1.37M332.12 240.52l-2.96 5.08M331.39 237.57l-3.13 3.69M336.38 241.48l-2.43 3.63M346.34 239.11l2.53 2.46M335.41 241.31l-0.25 4.31M344.39 241.49l3.07 1.4M334.77 230.84l-2.6 -0.3M330.68 253.82l6.24 3.52M326.43 250.39l-1.4 6.07M327.66 254.44l-0.56 6.3M317.07 249.23l-6.51 -0.9M321.75 251.42l-2.22 4.03M319.52 252.55l-1.49 3.24M329.42 250.61l2.43 3.7M320.57 239.55l-3.48 -2.19M333.99 242.96l4.93 1.73M332.79 242.12l3.58 -2.77M329.01 250.46l4.02 4.48" stroke="#46552c" stroke-width="1.1" fill="none"/>
<path d="M327.72 142.43l2.1 -3.4M334.23 145.19l4.19 -0.6M317.26 155.37l-2.7 -0.51M320.99 162.02l-0.76 5.37M324.44 168.36l2.03 6.07M320.81 161.11l-3.57 1.58M323.38 160.57l4.46 1.44M322.97 163.94l1.75 5.82M338.33 172.24l3.09 1.74M308.27 174.07l-2.93 -1.62M311.81 176.59l-4.55 1.94M326.95 179.18l4.66 2.54M318.03 165.48l2.59 -1.5M321.35 187.95l3.98 4.37M332.34 194.65l-2.55 2.49M327.29 191.67l-1.59 5.1M333.81 179.95l-3.77 -0.22M324.49 204.62l-0.96 3.42M318.7 191.61l-2.9 -0.99M325.66 204.36l4.43 4.82M334.75 194.83l6.56 0.43M331.63 191.35l3.03 -2.67M326.5 191.27l0.24 -2.93M320.34 185.02l-2.76 -3.47M319.85 198.86l-4.26 4.88M341.14 207.7l-0.67 6.22M336.32 206.69l-4.67 1.28M340.49 200.77l-0.17 -3.8M346.01 201.21l3.71 1.43M341.67 202.94l2.7 -1.38M316.76 195.52l3.64 -3.36M307.5 196.87l-3.42 -2.83M329.19 208.64l3.64 -2.27M334.21 216.69l4.22 -1.64M329.93 233.59l-2.66 4.97M318.92 239.47l-0.91 4.02M320.29 222.09l2.84 -1.58M323.01 230.19l4.02 1.97M328.13 233.63l-3.88 -0.11M335.42 234.3l-2.48 -2.09M332.88 233.4l-5.16 0.13M331.66 247.87l4.04 -0.67M327.02 249.17l2.29 4.95" stroke="#6a7746" stroke-width="0.8" fill="none" opacity="0.8"/>
<path d="M534.49 143.38 L568.78 140.86 L568.8 388.4 L463.89 388.43 L451.29 376.33 L431.11 361.2 L410.94 346.07 L383.21 346.07 L363.04 338.51 L373.12 320.86 L383.21 303.21 L393.29 283.04 L408.42 260.34 L421.03 240.17 L426.07 239.19 L451.29 226.59 L476.5 211.46 L496.67 196.33 L509.28 181.2 L521.89 161.03 Z" fill="url(#arockg)"/>
<clipPath id="rockclip"><path d="M534.49 143.38 L568.78 140.86 L568.8 388.4 L463.89 388.43 L451.29 376.33 L431.11 361.2 L410.94 346.07 L383.21 346.07 L363.04 338.51 L373.12 320.86 L383.21 303.21 L393.29 283.04 L408.42 260.34 L421.03 240.17 L426.07 239.19 L451.29 226.59 L476.5 211.46 L496.67 196.33 L509.28 181.2 L521.89 161.03 Z"/></clipPath>
<g clip-path="url(#rockclip)">
<rect x="360" y="140" width="210" height="250" filter="url(#arock)" opacity="0.8"/>
<path d="M542.06 225.04 L568.78 220 L568.78 270.43 L501.71 325.9 L461.37 361.2 L451.29 351.11 L491.63 303.21 Z" fill="#8c8c8a" opacity="0.55" filter="url(#ab2)"/>
<path d="M543.32 223.78 C540.59 228.19 533.86 238.28 526.93 250.26 C519.99 262.23 510.12 282.62 501.71 295.64 C493.31 308.67 484.48 319.39 476.5 328.42 C468.52 337.46 457.59 346.28 453.81 349.85" fill="none" stroke="#3b3b39" stroke-width="4" opacity="0.6" filter="url(#ab1)"/>
<path d="M431.11 250.26 L476.5 235.13 L506.76 260.34 L461.37 320.86 L421.03 330.94 L400.86 303.21 Z" fill="#e4e4e2" opacity="0.6" filter="url(#ab2)"/>
<path d="M521.89 303.21 L562.23 285.56 L568.78 361.2 L501.71 381.37 L476.5 361.2 Z" fill="#d9d9d6" opacity="0.5" filter="url(#ab2)"/>
<ellipse cx="511.8" cy="215.24" rx="6" ry="2.2" fill="#333" opacity="0.7" filter="url(#ab1)"/>
<path d="M533.23 143.88 C538.07 139.81 546.05 141.07 552.14 140.35 C558.24 139.64 566.85 130.69 569.79 139.6 C572.73 148.51 572.31 186.87 569.79 193.81 C567.27 200.74 559.29 182.67 554.66 181.2 C550.04 179.73 546.47 185.61 542.06 184.98 C537.64 184.35 531.34 180.78 528.19 177.42 C525.04 174.06 522.31 170.4 523.15 164.81 C523.99 159.22 528.4 147.96 533.23 143.88 Z" fill="#376c29"/>
<path d="M552.14 140.86 C553.82 138.67 566.85 137.41 569.79 140.35 C572.73 143.29 571.47 156.32 569.79 158.51 C568.11 160.69 562.65 156.41 559.71 153.46 C556.77 150.52 550.46 143.04 552.14 140.86 Z" fill="#1c3517" opacity="0.9" filter="url(#ab1)"/>
<path d="M535.75 150.94 C537.01 148 546.05 147.16 549.62 148.42 C553.19 149.68 558.45 155.57 557.19 158.51 C555.93 161.45 545.63 167.33 542.06 166.07 C538.49 164.81 534.49 153.88 535.75 150.94 Z" fill="#c9c9c6" opacity="0.9" filter="url(#ab1)"/>
<path d="M456.33 217.76 L476.5 205.15 L487.85 201.37 L476.5 213.98 L461.37 222.8 Z" fill="#417a30"/>
<path d="M441.2 227.85 L461.37 225.33 L486.59 213.98 L461.37 231.63 L446.24 234.15 Z" fill="#417a30"/>
<path d="M466.41 346.07 C467.68 341.03 477.97 327.16 481.54 325.9 C485.12 324.64 487.22 332.2 487.85 338.51 C488.48 344.81 487.64 360.78 485.33 363.72 C483.01 366.66 477.13 359.1 473.98 356.16 C470.83 353.22 465.15 351.11 466.41 346.07 Z" fill="#437c32"/>
<path d="M383.21 346.07 C382.37 342.29 389.93 338.93 395.81 338.51 C401.7 338.09 412.62 339.77 418.51 343.55 C424.39 347.33 425.65 355.74 431.11 361.2 C436.58 366.66 451.29 372.97 451.29 376.33 C451.29 379.69 439.52 383.89 431.11 381.37 C422.71 378.85 408.84 367.08 400.86 361.2 C392.87 355.32 384.05 349.85 383.21 346.07 Z" fill="#2d5a25"/>
</g>
<path d="M503 333 l3 6 m-1 -7 l-2 8 m4 -6 l-5 4 m6 1 l-7 -2 m-3 2 l8 3 M544 338 l2 9 m2 -10 l-3 10 m5 -6 l-7 3 m8 2 l-8 -3 M549 329 l1 5 m3 -5 l0 5" stroke="#243320" stroke-width="0.8" fill="none" opacity="0.85"/>
<path d="M392 344 l6 -5 l5 3 l6 -4 l5 4 l5 -2 l-2 6 l-8 2 l-9 1 l-6 -1 Z M430 348 l5 -5 l6 2 l6 -3 l4 5 l-6 5 l-9 0 Z" fill="#1f3a1c" opacity="0.9"/>
<path d="M347.91 320.86 C347.19 314.55 351.19 299.43 354.21 293.12 C357.24 286.82 362.41 282.95 366.06 283.04 C369.72 283.12 373.29 289.63 376.15 293.63 C379 297.62 384.05 300.77 383.21 306.99 C382.37 313.21 375.22 326.95 371.1 330.94 C366.99 334.94 362.36 332.62 358.5 330.94 C354.63 329.26 348.62 327.16 347.91 320.86 Z" fill="#9b866c"/>
<path d="M348.41 319.6 C347.23 314.55 351.65 298.37 353.45 295.64 C355.26 292.91 358.08 298.16 359.25 303.21 C360.43 308.25 362.32 323.17 360.51 325.9 C358.71 328.63 349.59 324.64 348.41 319.6 Z" fill="#d5d2cc" opacity="0.85" filter="url(#ab05)"/>
<path d="M323.95 295.64 C323.95 293.75 333.83 287.66 337.82 286.82 C341.81 285.98 347.91 288.71 347.91 290.6 C347.91 292.49 341.81 297.32 337.82 298.16 C333.83 299 323.95 297.53 323.95 295.64 Z" fill="#b9aa94" opacity="0.85" filter="url(#ab05)"/>
<rect x="258.31" y="241.6" width="2.08" height="6.45" fill="#9a8a66"/>
<ellipse cx="259.35" cy="241.6" rx="1.8" ry="1.89" fill="#fff200"/>
<rect x="294.88" y="245.39" width="2.08" height="6.05" fill="#9a8a66"/>
<ellipse cx="295.92" cy="245.39" rx="1.8" ry="1.89" fill="#fff200"/>
<rect x="214.09" y="255.98" width="2.29" height="6.86" fill="#9a8a66"/>
<ellipse cx="215.23" cy="255.98" rx="1.98" ry="2.08" fill="#fff200"/>
<rect x="207.68" y="268.08" width="2.5" height="8.07" fill="#9a8a66"/>
<ellipse cx="208.93" cy="268.08" rx="2.16" ry="2.27" fill="#fff200"/>
<rect x="238.69" y="273.63" width="2.5" height="9.68" fill="#9a8a66"/>
<ellipse cx="239.94" cy="273.63" rx="2.16" ry="2.27" fill="#fff200"/>
<rect x="357.96" y="256.98" width="2.5" height="7.26" fill="#9a8a66"/>
<ellipse cx="359.2" cy="256.98" rx="2.16" ry="2.27" fill="#fff200"/>
<rect x="335.26" y="275.64" width="2.5" height="6.45" fill="#9a8a66"/>
<ellipse cx="336.51" cy="275.64" rx="2.16" ry="2.27" fill="#fff200"/>
<rect x="205.3" y="291.78" width="2.7" height="8.07" fill="#9a8a66"/>
<ellipse cx="206.66" cy="291.78" rx="2.34" ry="2.46" fill="#fff200"/>
<rect x="292.69" y="298.34" width="2.91" height="9.68" fill="#9a8a66"/>
<ellipse cx="294.15" cy="298.34" rx="2.52" ry="2.65" fill="#fff200"/>
<rect x="141.41" y="313.97" width="2.91" height="8.88" fill="#9a8a66"/>
<ellipse cx="142.86" cy="313.97" rx="2.52" ry="2.65" fill="#fff200"/>
<rect x="319.47" y="319.52" width="3.33" height="10.49" fill="#9a8a66"/>
<ellipse cx="321.13" cy="319.52" rx="2.87" ry="3.03" fill="#fff200"/>
<rect x="127.84" y="339.18" width="3.33" height="9.68" fill="#9a8a66"/>
<ellipse cx="129.5" cy="339.18" rx="2.87" ry="3.03" fill="#fff200"/>
<rect x="358.84" y="346.75" width="3.74" height="12.1" fill="#9a8a66"/>
<ellipse cx="360.72" cy="346.75" rx="3.23" ry="3.4" fill="#fff200"/>
<rect x="124.86" y="369.44" width="3.74" height="12.1" fill="#9a8a66"/>
<ellipse cx="126.73" cy="369.44" rx="3.23" ry="3.4" fill="#fff200"/>
<rect x="414.36" y="384.57" width="4.16" height="8.07" fill="#9a8a66"/>
<ellipse cx="416.44" cy="384.57" rx="3.59" ry="3.78" fill="#fff200"/>
<path d="M102.4 170 L110.6 170 L113.4 300 L116.6 351 L120.2 354 L123.6 388.4 L108.8 388.4 L108 354 L105.8 351 L103.8 300 Z" fill="url(#apole)"/>
<line x1="87" y1="169.3" x2="187" y2="169.3" stroke="#aaa282" stroke-width="3.6"/>
<line x1="87" y1="168.3" x2="187" y2="168.3" stroke="#cfc8a8" stroke-width="1.2"/>
<line x1="110.5" y1="201.2" x2="148.8" y2="174.5" stroke="#aaa282" stroke-width="3"/>
<rect x="86" y="165.6" width="40" height="3.6" fill="#8c8668"/>
<line x1="88.8" y1="141.6" x2="85.8" y2="112" stroke="#b5ad8c" stroke-width="2"/>
<line x1="88.8" y1="141.6" x2="74" y2="158" stroke="#b5ad8c" stroke-width="2"/>
<line x1="88.8" y1="141.6" x2="101" y2="146" stroke="#b5ad8c" stroke-width="2"/>
<ellipse cx="86.2" cy="109.8" rx="8.5" ry="9.4" fill="#7f7b5c"/>
<ellipse cx="85.2" cy="109.2" rx="6.9" ry="7.8" fill="#8f8b6b"/>
<ellipse cx="72.2" cy="162.2" rx="9.5" ry="7.7" fill="#9c9a84"/>
<ellipse cx="70.8" cy="161.4" rx="7.6" ry="6.2" fill="#b9b7a0"/>
<circle cx="88.8" cy="141.6" r="3.4" fill="#8d8868"/>
<ellipse cx="121" cy="143.4" rx="22.4" ry="22.6" fill="#bfa8a2" opacity="0.95"/>
<ellipse cx="119.8" cy="143.4" rx="20" ry="21.4" fill="#cfa395"/>
<path d="M121.4 143.4 L137.34 148.45 A16.5 19.5 0 0 1 133.07 157.19 Z" fill="#62aa7a"/>
<path d="M121.4 143.4 L133.07 157.19 A16.5 19.5 0 0 1 125.67 162.24 Z" fill="#b98066"/>
<path d="M121.4 143.4 L125.67 162.24 A16.5 19.5 0 0 1 117.13 162.24 Z" fill="#62aa7a"/>
<path d="M121.4 143.4 L117.13 162.24 A16.5 19.5 0 0 1 109.73 157.19 Z" fill="#b98066"/>
<path d="M121.4 143.4 L109.73 157.19 A16.5 19.5 0 0 1 105.46 148.45 Z" fill="#62aa7a"/>
<path d="M121.4 143.4 L105.46 148.45 A16.5 19.5 0 0 1 105.46 138.35 Z" fill="#b98066"/>
<path d="M121.4 143.4 L105.46 138.35 A16.5 19.5 0 0 1 109.73 129.61 Z" fill="#62aa7a"/>
<path d="M121.4 143.4 L109.73 129.61 A16.5 19.5 0 0 1 117.13 124.56 Z" fill="#b98066"/>
<path d="M121.4 143.4 L117.13 124.56 A16.5 19.5 0 0 1 125.67 124.56 Z" fill="#62aa7a"/>
<path d="M121.4 143.4 L125.67 124.56 A16.5 19.5 0 0 1 133.07 129.61 Z" fill="#b98066"/>
<path d="M121.4 143.4 L133.07 129.61 A16.5 19.5 0 0 1 137.34 138.35 Z" fill="#62aa7a"/>
<path d="M121.4 143.4 L137.34 138.35 A16.5 19.5 0 0 1 137.34 148.45 Z" fill="#b98066"/>
<ellipse cx="132" cy="143" rx="4" ry="13" fill="#f0a284" opacity="0.75" filter="url(#ab1)"/>
<rect x="126.5" y="148" width="1.5" height="20" fill="#cfc6b4"/>
<rect x="88.6" y="160.6" width="16" height="6.8" fill="#1d1b12"/>
<text x="96.6" y="166.4" font-family='"Liberation Sans", sans-serif' font-size="6.2" fill="#e8e4d0" font-weight="bold" text-anchor="middle">VMC</text>
<path d="M90.6 146 L95.2 154 L92.6 154.4 L96 161 L88.8 152.8 L91.4 152.4 L88.6 146.8 Z" fill="#ffe81a"/>
<path d="M215.7 107.2 L173.6 196.3 L261.4 195.3 Z" fill="#f4f4f4" stroke="#f4f4f4" stroke-width="0.8" stroke-linejoin="round"/>
<path d="M215.75 110.13 L175.66 194.98 L259.27 194.02 Z" fill="#e0100f"/>
<path d="M215.95 120.49 L182.96 190.29 L251.75 189.51 Z" fill="url(#asign)"/>
<path d="M216.2 187.2 L201.3 171 L225.6 152.2" fill="none" stroke="#e2100f" stroke-width="4.4" stroke-linejoin="miter"/>
<path d="M203.6 152.4 L226.9 151.2 L227.7 171" fill="none" stroke="#e2100f" stroke-width="4.4" stroke-linejoin="miter"/>
<rect x="73.8" y="96.9" width="85" height="86.2" fill="none" stroke="#ffff1e" stroke-width="2.2" stroke-dasharray="9.6 5.2"/>
</g>
<line x1="73.8" y1="183.2" x2="39.2" y2="400.4" stroke="#e02020" stroke-width="0.9" stroke-dasharray="1.6 2.4"/>
<line x1="158.8" y1="183.2" x2="563.8" y2="400.4" stroke="#e02020" stroke-width="0.9" stroke-dasharray="1.6 2.4"/>
<text x="12.6" y="88.2" font-family='"Liberation Sans", sans-serif' font-size="30.5" fill="#000" font-weight="bold" textLength="16.5" lengthAdjust="spacingAndGlyphs">a</text>
</g>
<g id="pb">
<defs>
<linearGradient id="shg" x1="0" x2="1"><stop offset="0" stop-color="#a79aa9"/><stop offset="0.3" stop-color="#d7cfd8"/><stop offset="0.62" stop-color="#bdb2be"/><stop offset="1" stop-color="#9a8e9d"/></linearGradient>
<linearGradient id="sho" x1="0" x2="1"><stop offset="0" stop-color="#ee8a1c"/><stop offset="0.35" stop-color="#ffb04a"/><stop offset="0.7" stop-color="#f7941f"/><stop offset="1" stop-color="#e07c12"/></linearGradient>
<linearGradient id="shp" x1="0" x2="1"><stop offset="0" stop-color="#cbb0d2"/><stop offset="0.35" stop-color="#ead9ee"/><stop offset="1" stop-color="#c9add1"/></linearGradient>
<linearGradient id="shy" x1="0" x2="1"><stop offset="0" stop-color="#efe9bd"/><stop offset="0.4" stop-color="#fbf8dc"/><stop offset="1" stop-color="#ece4b4"/></linearGradient>
<linearGradient id="acr" x1="0" x2="1" y1="0" y2="1"><stop offset="0" stop-color="#fffdf0"/><stop offset="1" stop-color="#fff9e2"/></linearGradient>
<filter id="bl1" x="-5%" y="-5%" width="110%" height="110%"><feGaussianBlur stdDeviation="0.6"/></filter>
<filter id="bl2" x="-10%" y="-10%" width="120%" height="120%"><feGaussianBlur stdDeviation="1.6"/></filter>
</defs>
<line x1="38.9" y1="400.4" x2="565" y2="400.4" stroke="#7d7d7d" stroke-width="2.5" stroke-dasharray="8.6 6.8" stroke-dashoffset="9.1"/>
<line x1="38.9" y1="399.4" x2="38.9" y2="748.9" stroke="#7d7d7d" stroke-width="2" stroke-dasharray="8.6 6.8" stroke-dashoffset="13.4"/>
<line x1="38" y1="748" x2="565" y2="748" stroke="#7d7d7d" stroke-width="1.9" stroke-dasharray="8.6 6.8" stroke-dashoffset="2.4"/>
<line x1="564" y1="399.4" x2="564" y2="748.9" stroke="#7d7d7d" stroke-width="1.9" stroke-dasharray="8.6 6.8" stroke-dashoffset="9.4"/>
<text x="12.8" y="402.6" font-family='"Liberation Sans", sans-serif' font-size="30.5" fill="#000" font-weight="bold" textLength="17" lengthAdjust="spacingAndGlyphs">b</text>
<path d="M441.54 644.09 L442.75 646.5 L443.79 648.95 L444.67 651.42 L445.38 653.92 L445.92 656.44 L446.28 658.98 L446.46 661.53 L446.47 664.1 L446.29 666.67 L445.93 669.26 L445.39 671.84 L444.65 674.43 L443.72 677.01 L442.61 679.58 L441.3 682.14 L439.8 684.69 L438.11 687.22 L436.23 689.73 L434.15 692.21 L431.88 694.66 L429.42 697.08 L426.78 699.46 L423.94 701.79 L420.93 704.08 L417.72 706.32 L414.34 708.51 L410.79 710.64 L407.06 712.7 L403.17 714.7 L399.11 716.63 L394.89 718.49 L390.52 720.27 L386.01 721.97 L381.35 723.58 L376.56 725.11 L371.65 726.54 L366.61 727.89 L361.47 729.13 L356.22 730.28 L350.87 731.33 L345.44 732.27 L339.94 733.1 L334.36 733.83 L328.72 734.45 L323.04 734.96 L317.31 735.36 L311.56 735.64 L305.78 735.81 L300 735.87 L294.22 735.81 L288.44 735.64 L282.69 735.36 L276.96 734.96 L271.28 734.45 L265.64 733.83 L260.06 733.1 L254.56 732.27 L249.13 731.33 L243.78 730.28 L238.53 729.13 L233.39 727.89 L228.35 726.54 L223.44 725.11 L218.65 723.58 L213.99 721.97 L209.48 720.27 L205.11 718.49 L200.89 716.63 L196.83 714.7 L192.94 712.7 L189.21 710.64 L185.66 708.51 L182.28 706.32 L179.07 704.08 L176.06 701.79 L173.22 699.46 L170.58 697.08 L168.12 694.66 L165.85 692.21 L163.77 689.73 L161.89 687.22 L160.2 684.69 L158.7 682.14 L157.39 679.58 L156.28 677.01 L155.35 674.43 L154.61 671.84 L154.07 669.26 L153.71 666.67 L153.53 664.1 L153.54 661.53 L153.72 658.98 L154.08 656.44 L154.62 653.92 L155.33 651.42 L156.21 648.95 L157.25 646.5 L158.46 644.09 L158.63 647.69 L157.43 650.12 L156.39 652.58 L155.51 655.06 L154.8 657.57 L154.27 660.11 L153.91 662.66 L153.72 665.22 L153.72 667.8 L153.89 670.39 L154.25 672.98 L154.8 675.58 L155.54 678.18 L156.46 680.77 L157.58 683.36 L158.88 685.94 L160.38 688.5 L162.07 691.04 L163.95 693.56 L166.03 696.05 L168.29 698.51 L170.75 700.94 L173.39 703.33 L176.22 705.68 L179.24 707.98 L182.44 710.23 L185.81 712.43 L189.36 714.57 L193.09 716.64 L196.98 718.65 L201.03 720.59 L205.24 722.45 L209.6 724.24 L214.11 725.95 L218.76 727.57 L223.54 729.11 L228.45 730.55 L233.48 731.9 L238.62 733.15 L243.86 734.3 L249.2 735.35 L254.62 736.3 L260.12 737.14 L265.69 737.87 L271.32 738.49 L276.99 739 L282.71 739.4 L288.46 739.69 L294.22 739.86 L300 739.92 L305.78 739.86 L311.54 739.69 L317.29 739.4 L323.01 739 L328.68 738.49 L334.31 737.87 L339.88 737.14 L345.38 736.3 L350.8 735.35 L356.14 734.3 L361.38 733.15 L366.52 731.9 L371.55 730.55 L376.46 729.11 L381.24 727.57 L385.89 725.95 L390.4 724.24 L394.76 722.45 L398.97 720.59 L403.02 718.65 L406.91 716.64 L410.64 714.57 L414.19 712.43 L417.56 710.23 L420.76 707.98 L423.78 705.68 L426.61 703.33 L429.25 700.94 L431.71 698.51 L433.97 696.05 L436.05 693.56 L437.93 691.04 L439.62 688.5 L441.12 685.94 L442.42 683.36 L443.54 680.77 L444.46 678.18 L445.2 675.58 L445.75 672.98 L446.11 670.39 L446.28 667.8 L446.28 665.22 L446.09 662.66 L445.73 660.11 L445.2 657.57 L444.49 655.06 L443.61 652.58 L442.57 650.12 L441.37 647.69 Z" fill="#8d875c"/>
<path d="M441.47 645.63 L442.67 648.05 L443.71 650.51 L444.59 652.98 L445.3 655.49 L445.84 658.01 L446.2 660.55 L446.39 663.11 L446.39 665.69 L446.21 668.27 L445.85 670.85 L445.31 673.45 L444.57 676.04 L443.64 678.62 L442.53 681.2 L441.22 683.77 L439.72 686.32 L438.03 688.86 L436.15 691.37 L434.07 693.86 L431.81 696.31 L429.35 698.73 L426.7 701.12 L423.87 703.46 L420.85 705.75 L417.66 708 L414.28 710.19 L410.72 712.32 L407 714.39 L403.11 716.4 L399.05 718.33 L394.84 720.19 L390.47 721.97 L385.96 723.67 L381.3 725.29 L376.52 726.82 L371.61 728.26 L366.57 729.61 L361.43 730.86 L356.18 732.01 L350.84 733.05 L345.42 734 L339.91 734.83 L334.34 735.56 L328.71 736.18 L323.02 736.69 L317.3 737.09 L311.55 737.38 L305.78 737.55 L300 737.6 L294.22 737.55 L288.45 737.38 L282.7 737.09 L276.98 736.69 L271.29 736.18 L265.66 735.56 L260.09 734.83 L254.58 734 L249.16 733.05 L243.82 732.01 L238.57 730.86 L233.43 729.61 L228.39 728.26 L223.48 726.82 L218.7 725.29 L214.04 723.67 L209.53 721.97 L205.16 720.19 L200.95 718.33 L196.89 716.4 L193 714.39 L189.28 712.32 L185.72 710.19 L182.34 708 L179.15 705.75 L176.13 703.46 L173.3 701.12 L170.65 698.73 L168.19 696.31 L165.93 693.86 L163.85 691.37 L161.97 688.86 L160.28 686.32 L158.78 683.77 L157.47 681.2 L156.36 678.62 L155.43 676.04 L154.69 673.45 L154.15 670.85 L153.79 668.27 L153.61 665.69 L153.61 663.11 L153.8 660.55 L154.16 658.01 L154.7 655.49 L155.41 652.98 L156.29 650.51 L157.33 648.05 L158.53 645.63 L158.6 646.92 L157.39 649.35 L156.35 651.8 L155.47 654.28 L154.76 656.79 L154.23 659.32 L153.87 661.87 L153.68 664.43 L153.68 667.01 L153.85 669.59 L154.21 672.19 L154.76 674.78 L155.5 677.38 L156.42 679.97 L157.54 682.55 L158.84 685.12 L160.34 687.68 L162.03 690.22 L163.92 692.74 L165.99 695.23 L168.26 697.69 L170.71 700.11 L173.36 702.5 L176.19 704.85 L179.2 707.15 L182.4 709.4 L185.78 711.59 L189.33 713.72 L193.05 715.8 L196.95 717.81 L201 719.74 L205.21 721.61 L209.58 723.39 L214.09 725.1 L218.74 726.72 L223.52 728.25 L228.43 729.69 L233.46 731.04 L238.6 732.29 L243.84 733.44 L249.18 734.49 L254.61 735.44 L260.11 736.28 L265.68 737.01 L271.31 737.63 L276.99 738.14 L282.71 738.54 L288.45 738.82 L294.22 738.99 L300 739.05 L305.78 738.99 L311.55 738.82 L317.29 738.54 L323.01 738.14 L328.69 737.63 L334.32 737.01 L339.89 736.28 L345.39 735.44 L350.82 734.49 L356.16 733.44 L361.4 732.29 L366.54 731.04 L371.57 729.69 L376.48 728.25 L381.26 726.72 L385.91 725.1 L390.42 723.39 L394.79 721.61 L399 719.74 L403.05 717.81 L406.95 715.8 L410.67 713.72 L414.22 711.59 L417.6 709.4 L420.8 707.15 L423.81 704.85 L426.64 702.5 L429.29 700.11 L431.74 697.69 L434.01 695.23 L436.08 692.74 L437.97 690.22 L439.66 687.68 L441.16 685.12 L442.46 682.55 L443.58 679.97 L444.5 677.38 L445.24 674.78 L445.79 672.19 L446.15 669.59 L446.32 667.01 L446.32 664.43 L446.13 661.87 L445.77 659.32 L445.24 656.79 L444.53 654.28 L443.65 651.8 L442.61 649.35 L441.4 646.92 Z" fill="#d9d4a8"/>
<path d="M445.38 653.92 L446.12 657.71 L446.46 661.53 L446.41 665.38 L445.93 669.26 L445.04 673.13 L443.72 677.01 L441.98 680.86 L439.8 684.69 L437.19 688.48 L434.15 692.21 L430.68 695.87 L426.78 699.46 L422.46 702.94 L417.72 706.32 L412.59 709.58 L407.06 712.7 L401.16 715.68 L394.89 718.49 L388.28 721.13 L381.35 723.58 L374.12 725.84 L366.61 727.89 L358.86 729.72 L350.87 731.33 L342.7 732.7 L334.36 733.83 L325.89 734.72 L317.31 735.36 L308.67 735.74 L300 735.87 L291.33 735.74 L282.69 735.36 L274.11 734.72 L265.64 733.83 L257.3 732.7 L249.13 731.33 L241.14 729.72 L233.39 727.89 L225.88 725.84 L218.65 723.58 L211.72 721.13 L205.11 718.49 L198.84 715.68 L192.94 712.7 L187.41 709.58 L182.28 706.32 L177.54 702.94 L173.22 699.46 L169.32 695.87 L165.85 692.21 L162.81 688.48 L160.2 684.69 L158.02 680.86 L156.28 677.01 L154.96 673.13 L154.07 669.26 L153.59 665.38 L153.54 661.53 L153.88 657.71 L154.62 653.92 L155.75 650.18 L157.25 646.5 L159.12 642.89 L161.34 639.35 L163.91 635.89 L166.8 632.52 L170.01 629.25 L173.52 626.08 L177.32 623.02 L181.39 620.07 L185.73 617.23 L190.31 614.52 L195.14 611.94 L200.18 609.49 L205.43 607.17 L210.87 604.98 L216.49 602.94 L222.28 601.04 L228.22 599.28 L234.31 597.67 L240.52 596.21 L246.84 594.9 L253.27 593.73 L259.78 592.73 L266.37 591.87 L273.02 591.17 L279.72 590.62 L286.46 590.23 L293.22 590 L300 589.92 L306.78 590 L313.54 590.23 L320.28 590.62 L326.98 591.17 L333.63 591.87 L340.22 592.73 L346.73 593.73 L353.16 594.9 L359.48 596.21 L365.69 597.67 L371.78 599.28 L377.72 601.04 L383.51 602.94 L389.13 604.98 L394.57 607.17 L399.82 609.49 L404.86 611.94 L409.69 614.52 L414.27 617.23 L418.61 620.07 L422.68 623.02 L426.48 626.08 L429.99 629.25 L433.2 632.52 L436.09 635.89 L438.66 639.35 L440.88 642.89 L442.75 646.5 L444.25 650.18 L445.38 653.92 Z" fill="#fefefc" stroke="#e4e1d0" stroke-width="0.8"/>
<rect x="291.5" y="690" width="23" height="46.5" fill="url(#shy)"/>
<path d="M441.36 616.87 L442.57 619.17 L443.61 621.5 L444.48 623.85 L445.19 626.23 L445.73 628.62 L446.09 631.04 L446.27 633.47 L446.28 635.91 L446.1 638.36 L445.74 640.81 L445.19 643.27 L444.46 645.73 L443.53 648.19 L442.42 650.64 L441.11 653.07 L439.61 655.5 L437.92 657.91 L436.04 660.29 L433.97 662.65 L431.7 664.98 L429.25 667.28 L426.6 669.54 L423.77 671.77 L420.76 673.94 L417.56 676.07 L414.18 678.15 L410.63 680.18 L406.91 682.14 L403.02 684.04 L398.97 685.88 L394.76 687.65 L390.39 689.34 L385.89 690.95 L381.24 692.49 L376.45 693.94 L371.55 695.31 L366.52 696.58 L361.38 697.77 L356.14 698.86 L350.8 699.86 L345.38 700.75 L339.88 701.55 L334.31 702.24 L328.68 702.83 L323 703.31 L317.29 703.69 L311.54 703.96 L305.78 704.12 L300 704.17 L294.22 704.12 L288.46 703.96 L282.71 703.69 L277 703.31 L271.32 702.83 L265.69 702.24 L260.12 701.55 L254.62 700.75 L249.2 699.86 L243.86 698.86 L238.62 697.77 L233.48 696.58 L228.45 695.31 L223.55 693.94 L218.76 692.49 L214.11 690.95 L209.61 689.34 L205.24 687.65 L201.03 685.88 L196.98 684.04 L193.09 682.14 L189.37 680.18 L185.82 678.15 L182.44 676.07 L179.24 673.94 L176.23 671.77 L173.4 669.54 L170.75 667.28 L168.3 664.98 L166.03 662.65 L163.96 660.29 L162.08 657.91 L160.39 655.5 L158.89 653.07 L157.58 650.64 L156.47 648.19 L155.54 645.73 L154.81 643.27 L154.26 640.81 L153.9 638.36 L153.72 635.91 L153.73 633.47 L153.91 631.04 L154.27 628.62 L154.81 626.23 L155.52 623.85 L156.39 621.5 L157.43 619.17 L158.64 616.87 L158.73 618.71 L157.52 621.01 L156.48 623.35 L155.61 625.71 L154.9 628.09 L154.36 630.49 L154 632.91 L153.82 635.35 L153.81 637.8 L153.99 640.25 L154.35 642.72 L154.9 645.18 L155.64 647.65 L156.56 650.11 L157.68 652.56 L158.98 655.01 L160.48 657.44 L162.17 659.85 L164.05 662.24 L166.12 664.61 L168.39 666.95 L170.84 669.25 L173.48 671.52 L176.31 673.75 L179.33 675.93 L182.52 678.07 L185.89 680.15 L189.44 682.18 L193.16 684.15 L197.05 686.06 L201.1 687.9 L205.31 689.67 L209.67 691.37 L214.18 692.99 L218.82 694.53 L223.6 695.98 L228.51 697.35 L233.53 698.63 L238.66 699.82 L243.9 700.91 L249.24 701.91 L254.66 702.81 L260.15 703.61 L265.72 704.3 L271.34 704.89 L277.01 705.38 L282.72 705.75 L288.47 706.03 L294.23 706.19 L300 706.24 L305.77 706.19 L311.53 706.03 L317.28 705.75 L322.99 705.38 L328.66 704.89 L334.28 704.3 L339.85 703.61 L345.34 702.81 L350.76 701.91 L356.1 700.91 L361.34 699.82 L366.47 698.63 L371.49 697.35 L376.4 695.98 L381.18 694.53 L385.82 692.99 L390.33 691.37 L394.69 689.67 L398.9 687.9 L402.95 686.06 L406.84 684.15 L410.56 682.18 L414.11 680.15 L417.48 678.07 L420.67 675.93 L423.69 673.75 L426.52 671.52 L429.16 669.25 L431.61 666.95 L433.88 664.61 L435.95 662.24 L437.83 659.85 L439.52 657.44 L441.02 655.01 L442.32 652.56 L443.44 650.11 L444.36 647.65 L445.1 645.18 L445.65 642.72 L446.01 640.25 L446.19 637.8 L446.18 635.35 L446 632.91 L445.64 630.49 L445.1 628.09 L444.39 625.71 L443.52 623.35 L442.48 621.01 L441.27 618.71 Z" fill="#8f7aa6"/>
<path d="M300 626.23 L376.45 693.94 L371.5 695.32 L366.42 696.61 L361.22 697.8 L355.93 698.9 L350.53 699.9 L345.05 700.8 L339.49 701.6 L333.86 702.29 L328.17 702.88 L322.43 703.35 L316.66 703.72 L310.85 703.98 L305.03 704.13 L299.19 704.17 L293.36 704.1 Z" fill="#ffff2b"/>
<path d="M300 626.23 L294.22 704.12 L288.4 703.96 L282.6 703.68 L276.82 703.3 L271.09 702.81 L265.41 702.21 L259.79 701.5 L254.24 700.69 L248.77 699.78 L243.39 698.77 L238.1 697.66 L232.92 696.45 L227.86 695.15 L222.92 693.76 L218.1 692.28 L213.43 690.72 Z" fill="#cdc3d8"/>
<path d="M300 626.23 L214.11 690.95 L209.56 689.32 L205.16 687.61 L200.91 685.83 L196.82 683.97 L192.9 682.05 L189.15 680.06 L185.57 678.01 L182.18 675.91 L178.96 673.75 L175.94 671.54 L173.1 669.3 L170.45 667.01 L167.99 664.68 L165.73 662.32 L163.66 659.93 Z" fill="#ffff2b"/>
<path d="M300 626.23 L163.96 660.29 L162.06 657.88 L160.35 655.45 L158.85 653 L157.53 650.54 L156.42 648.07 L155.49 645.59 L154.76 643.1 L154.22 640.62 L153.87 638.14 L153.71 635.66 L153.74 633.2 L153.94 630.75 L154.33 628.31 L154.9 625.89 L155.64 623.49 Z" fill="#cdc3d8"/>
<path d="M300 626.23 L155.52 623.85 L156.4 621.47 L157.46 619.12 L158.68 616.8 L160.06 614.51 L161.6 612.25 L163.29 610.03 L165.14 607.85 L167.13 605.7 L169.26 603.6 L171.53 601.54 L173.94 599.52 L176.48 597.55 L179.14 595.63 L181.93 593.76 L184.83 591.94 Z" fill="#ffff2b"/>
<path d="M300 626.23 L184.39 592.21 L187.4 590.43 L190.51 588.71 L193.73 587.04 L197.05 585.43 L200.47 583.87 L203.98 582.37 L207.58 580.93 L211.27 579.55 L215.04 578.24 L218.88 576.98 L222.8 575.78 L226.79 574.65 L230.84 573.57 L234.96 572.57 L239.13 571.62 Z" fill="#cdc3d8"/>
<path d="M300 626.23 L238.51 571.76 L242.72 570.87 L246.99 570.05 L251.3 569.29 L255.65 568.59 L260.04 567.97 L264.47 567.41 L268.92 566.91 L273.41 566.49 L277.91 566.12 L282.43 565.83 L286.97 565.6 L291.52 565.45 L296.07 565.35 L300.63 565.33 L305.19 565.37 Z" fill="#ffff2b"/>
<path d="M300 626.23 L304.51 565.36 L309.07 565.46 L313.61 565.63 L318.15 565.86 L322.67 566.17 L327.17 566.54 L331.65 566.97 L336.1 567.48 L340.52 568.04 L344.91 568.68 L349.26 569.38 L353.56 570.15 L357.82 570.98 L362.03 571.88 L366.19 572.84 L370.29 573.87 Z" fill="#cdc3d8"/>
<path d="M300 626.23 L369.68 573.71 L373.73 574.79 L377.71 575.93 L381.62 577.14 L385.45 578.4 L389.21 579.73 L392.89 581.12 L396.48 582.56 L399.98 584.07 L403.38 585.63 L406.69 587.25 L409.9 588.93 L413 590.66 L415.98 592.44 L418.86 594.27 L421.61 596.16 Z" fill="#ffff2b"/>
<path d="M300 626.23 L421.21 595.87 L423.86 597.8 L426.38 599.78 L428.77 601.8 L431.02 603.86 L433.14 605.97 L435.11 608.12 L436.94 610.31 L438.61 612.54 L440.13 614.8 L441.49 617.1 L442.69 619.42 L443.72 621.78 L444.59 624.16 L445.28 626.56 L445.79 628.98 Z" fill="#cdc3d8"/>
<path d="M300 626.23 L445.73 628.62 L446.09 631.06 L446.28 633.51 L446.28 635.98 L446.09 638.46 L445.72 640.94 L445.15 643.42 L444.4 645.9 L443.45 648.38 L442.31 650.86 L440.97 653.32 L439.44 655.76 L437.71 658.19 L435.78 660.6 L433.66 662.98 L431.34 665.33 Z" fill="#ffff2b"/>
<path d="M300 626.23 L431.7 664.98 L429.22 667.3 L426.55 669.59 L423.68 671.83 L420.63 674.03 L417.4 676.18 L413.98 678.28 L410.38 680.32 L406.6 682.3 L402.66 684.21 L398.55 686.06 L394.28 687.84 L389.86 689.54 L385.29 691.16 L380.57 692.7 L375.73 694.15 Z" fill="#cdc3d8"/>
<clipPath id="filmclip"><path d="M449.36 595.15 L450.14 598.65 L450.53 602.18 L450.49 605.75 L450.03 609.33 L449.14 612.92 L447.82 616.5 L446.05 620.08 L443.83 623.62 L441.17 627.13 L438.07 630.59 L434.52 633.99 L430.52 637.31 L426.1 640.55 L421.24 643.69 L415.97 646.71 L410.29 649.61 L404.23 652.38 L397.78 654.99 L390.99 657.45 L383.85 659.73 L376.41 661.83 L368.67 663.73 L360.68 665.44 L352.46 666.93 L344.03 668.21 L335.43 669.27 L326.7 670.09 L317.86 670.69 L308.95 671.04 L300 671.16 L291.05 671.04 L282.14 670.69 L273.3 670.09 L264.57 669.27 L255.97 668.21 L247.54 666.93 L239.32 665.44 L231.33 663.73 L223.59 661.83 L216.15 659.73 L209.01 657.45 L202.22 654.99 L195.77 652.38 L189.71 649.61 L184.03 646.71 L178.76 643.69 L173.9 640.55 L169.48 637.31 L165.48 633.99 L161.93 630.59 L158.83 627.13 L156.17 623.62 L153.95 620.08 L152.18 616.5 L150.86 612.92 L149.97 609.33 L149.51 605.75 L149.47 602.18 L149.86 598.65 L150.64 595.15 L151.83 591.7 L153.4 588.3 L155.34 584.96 L157.65 581.69 L160.3 578.5 L163.29 575.4 L166.6 572.38 L170.23 569.46 L174.14 566.63 L178.34 563.92 L182.8 561.31 L187.52 558.81 L192.48 556.43 L197.66 554.17 L203.05 552.04 L208.64 550.03 L214.41 548.15 L220.35 546.4 L226.45 544.79 L232.69 543.31 L239.05 541.96 L245.54 540.76 L252.12 539.69 L258.8 538.76 L265.55 537.98 L272.36 537.33 L279.23 536.83 L286.13 536.47 L293.06 536.26 L300 536.19 L306.94 536.26 L313.87 536.47 L320.77 536.83 L327.64 537.33 L334.45 537.98 L341.2 538.76 L347.88 539.69 L354.46 540.76 L360.95 541.96 L367.31 543.31 L373.55 544.79 L379.65 546.4 L385.59 548.15 L391.36 550.03 L396.95 552.04 L402.34 554.17 L407.52 556.43 L412.48 558.81 L417.2 561.31 L421.66 563.92 L425.86 566.63 L429.77 569.46 L433.4 572.38 L436.71 575.4 L439.7 578.5 L442.35 581.69 L444.66 584.96 L446.6 588.3 L448.17 591.7 L449.36 595.15 Z"/></clipPath>
<path d="M449.36 595.15 L450.14 598.65 L450.53 602.18 L450.49 605.75 L450.03 609.33 L449.14 612.92 L447.82 616.5 L446.05 620.08 L443.83 623.62 L441.17 627.13 L438.07 630.59 L434.52 633.99 L430.52 637.31 L426.1 640.55 L421.24 643.69 L415.97 646.71 L410.29 649.61 L404.23 652.38 L397.78 654.99 L390.99 657.45 L383.85 659.73 L376.41 661.83 L368.67 663.73 L360.68 665.44 L352.46 666.93 L344.03 668.21 L335.43 669.27 L326.7 670.09 L317.86 670.69 L308.95 671.04 L300 671.16 L291.05 671.04 L282.14 670.69 L273.3 670.09 L264.57 669.27 L255.97 668.21 L247.54 666.93 L239.32 665.44 L231.33 663.73 L223.59 661.83 L216.15 659.73 L209.01 657.45 L202.22 654.99 L195.77 652.38 L189.71 649.61 L184.03 646.71 L178.76 643.69 L173.9 640.55 L169.48 637.31 L165.48 633.99 L161.93 630.59 L158.83 627.13 L156.17 623.62 L153.95 620.08 L152.18 616.5 L150.86 612.92 L149.97 609.33 L149.51 605.75 L149.47 602.18 L149.86 598.65 L150.64 595.15 L151.83 591.7 L153.4 588.3 L155.34 584.96 L157.65 581.69 L160.3 578.5 L163.29 575.4 L166.6 572.38 L170.23 569.46 L174.14 566.63 L178.34 563.92 L182.8 561.31 L187.52 558.81 L192.48 556.43 L197.66 554.17 L203.05 552.04 L208.64 550.03 L214.41 548.15 L220.35 546.4 L226.45 544.79 L232.69 543.31 L239.05 541.96 L245.54 540.76 L252.12 539.69 L258.8 538.76 L265.55 537.98 L272.36 537.33 L279.23 536.83 L286.13 536.47 L293.06 536.26 L300 536.19 L306.94 536.26 L313.87 536.47 L320.77 536.83 L327.64 537.33 L334.45 537.98 L341.2 538.76 L347.88 539.69 L354.46 540.76 L360.95 541.96 L367.31 543.31 L373.55 544.79 L379.65 546.4 L385.59 548.15 L391.36 550.03 L396.95 552.04 L402.34 554.17 L407.52 556.43 L412.48 558.81 L417.2 561.31 L421.66 563.92 L425.86 566.63 L429.77 569.46 L433.4 572.38 L436.71 575.4 L439.7 578.5 L442.35 581.69 L444.66 584.96 L446.6 588.3 L448.17 591.7 L449.36 595.15 Z" fill="#f4e2f7"/>
<g clip-path="url(#filmclip)">
<path d="M300 626.23 L376.45 693.94 L371.5 695.32 L366.42 696.61 L361.22 697.8 L355.93 698.9 L350.53 699.9 L345.05 700.8 L339.49 701.6 L333.86 702.29 L328.17 702.88 L322.43 703.35 L316.66 703.72 L310.85 703.98 L305.03 704.13 L299.19 704.17 L293.36 704.1 Z" fill="#fbe7a2"/>
<path d="M300 626.23 L294.22 704.12 L288.4 703.96 L282.6 703.68 L276.82 703.3 L271.09 702.81 L265.41 702.21 L259.79 701.5 L254.24 700.69 L248.77 699.78 L243.39 698.77 L238.1 697.66 L232.92 696.45 L227.86 695.15 L222.92 693.76 L218.1 692.28 L213.43 690.72 Z" fill="#dcc0e7"/>
<path d="M300 626.23 L214.11 690.95 L209.56 689.32 L205.16 687.61 L200.91 685.83 L196.82 683.97 L192.9 682.05 L189.15 680.06 L185.57 678.01 L182.18 675.91 L178.96 673.75 L175.94 671.54 L173.1 669.3 L170.45 667.01 L167.99 664.68 L165.73 662.32 L163.66 659.93 Z" fill="#fbe7a2"/>
<path d="M300 626.23 L163.96 660.29 L162.06 657.88 L160.35 655.45 L158.85 653 L157.53 650.54 L156.42 648.07 L155.49 645.59 L154.76 643.1 L154.22 640.62 L153.87 638.14 L153.71 635.66 L153.74 633.2 L153.94 630.75 L154.33 628.31 L154.9 625.89 L155.64 623.49 Z" fill="#dcc0e7"/>
<path d="M300 626.23 L155.52 623.85 L156.4 621.47 L157.46 619.12 L158.68 616.8 L160.06 614.51 L161.6 612.25 L163.29 610.03 L165.14 607.85 L167.13 605.7 L169.26 603.6 L171.53 601.54 L173.94 599.52 L176.48 597.55 L179.14 595.63 L181.93 593.76 L184.83 591.94 Z" fill="#fbe7a2"/>
<path d="M300 626.23 L184.39 592.21 L187.4 590.43 L190.51 588.71 L193.73 587.04 L197.05 585.43 L200.47 583.87 L203.98 582.37 L207.58 580.93 L211.27 579.55 L215.04 578.24 L218.88 576.98 L222.8 575.78 L226.79 574.65 L230.84 573.57 L234.96 572.57 L239.13 571.62 Z" fill="#dcc0e7"/>
<path d="M300 626.23 L238.51 571.76 L242.72 570.87 L246.99 570.05 L251.3 569.29 L255.65 568.59 L260.04 567.97 L264.47 567.41 L268.92 566.91 L273.41 566.49 L277.91 566.12 L282.43 565.83 L286.97 565.6 L291.52 565.45 L296.07 565.35 L300.63 565.33 L305.19 565.37 Z" fill="#fbe7a2"/>
<path d="M300 626.23 L304.51 565.36 L309.07 565.46 L313.61 565.63 L318.15 565.86 L322.67 566.17 L327.17 566.54 L331.65 566.97 L336.1 567.48 L340.52 568.04 L344.91 568.68 L349.26 569.38 L353.56 570.15 L357.82 570.98 L362.03 571.88 L366.19 572.84 L370.29 573.87 Z" fill="#dcc0e7"/>
<path d="M300 626.23 L369.68 573.71 L373.73 574.79 L377.71 575.93 L381.62 577.14 L385.45 578.4 L389.21 579.73 L392.89 581.12 L396.48 582.56 L399.98 584.07 L403.38 585.63 L406.69 587.25 L409.9 588.93 L413 590.66 L415.98 592.44 L418.86 594.27 L421.61 596.16 Z" fill="#fbe7a2"/>
<path d="M300 626.23 L421.21 595.87 L423.86 597.8 L426.38 599.78 L428.77 601.8 L431.02 603.86 L433.14 605.97 L435.11 608.12 L436.94 610.31 L438.61 612.54 L440.13 614.8 L441.49 617.1 L442.69 619.42 L443.72 621.78 L444.59 624.16 L445.28 626.56 L445.79 628.98 Z" fill="#dcc0e7"/>
<path d="M300 626.23 L445.73 628.62 L446.09 631.06 L446.28 633.51 L446.28 635.98 L446.09 638.46 L445.72 640.94 L445.15 643.42 L444.4 645.9 L443.45 648.38 L442.31 650.86 L440.97 653.32 L439.44 655.76 L437.71 658.19 L435.78 660.6 L433.66 662.98 L431.34 665.33 Z" fill="#fbe7a2"/>
<path d="M300 626.23 L431.7 664.98 L429.22 667.3 L426.55 669.59 L423.68 671.83 L420.63 674.03 L417.4 676.18 L413.98 678.28 L410.38 680.32 L406.6 682.3 L402.66 684.21 L398.55 686.06 L394.28 687.84 L389.86 689.54 L385.29 691.16 L380.57 692.7 L375.73 694.15 Z" fill="#dcc0e7"/>
</g>
<path d="M449.36 595.15 L450.14 598.65 L450.53 602.18 L450.49 605.75 L450.03 609.33 L449.14 612.92 L447.82 616.5 L446.05 620.08 L443.83 623.62 L441.17 627.13 L438.07 630.59 L434.52 633.99 L430.52 637.31 L426.1 640.55 L421.24 643.69 L415.97 646.71 L410.29 649.61 L404.23 652.38 L397.78 654.99 L390.99 657.45 L383.85 659.73 L376.41 661.83 L368.67 663.73 L360.68 665.44 L352.46 666.93 L344.03 668.21 L335.43 669.27 L326.7 670.09 L317.86 670.69 L308.95 671.04 L300 671.16 L291.05 671.04 L282.14 670.69 L273.3 670.09 L264.57 669.27 L255.97 668.21 L247.54 666.93 L239.32 665.44 L231.33 663.73 L223.59 661.83 L216.15 659.73 L209.01 657.45 L202.22 654.99 L195.77 652.38 L189.71 649.61 L184.03 646.71 L178.76 643.69 L173.9 640.55 L169.48 637.31 L165.48 633.99 L161.93 630.59 L158.83 627.13 L156.17 623.62 L153.95 620.08 L152.18 616.5 L150.86 612.92 L149.97 609.33 L149.51 605.75 L149.47 602.18 L149.86 598.65 L150.64 595.15 L151.83 591.7 L153.4 588.3 L155.34 584.96 L157.65 581.69 L160.3 578.5 L163.29 575.4 L166.6 572.38 L170.23 569.46 L174.14 566.63 L178.34 563.92 L182.8 561.31 L187.52 558.81 L192.48 556.43 L197.66 554.17 L203.05 552.04 L208.64 550.03 L214.41 548.15 L220.35 546.4 L226.45 544.79 L232.69 543.31 L239.05 541.96 L245.54 540.76 L252.12 539.69 L258.8 538.76 L265.55 537.98 L272.36 537.33 L279.23 536.83 L286.13 536.47 L293.06 536.26 L300 536.19 L306.94 536.26 L313.87 536.47 L320.77 536.83 L327.64 537.33 L334.45 537.98 L341.2 538.76 L347.88 539.69 L354.46 540.76 L360.95 541.96 L367.31 543.31 L373.55 544.79 L379.65 546.4 L385.59 548.15 L391.36 550.03 L396.95 552.04 L402.34 554.17 L407.52 556.43 L412.48 558.81 L417.2 561.31 L421.66 563.92 L425.86 566.63 L429.77 569.46 L433.4 572.38 L436.71 575.4 L439.7 578.5 L442.35 581.69 L444.66 584.96 L446.6 588.3 L448.17 591.7 L449.36 595.15 Z" fill="none" stroke="#ecd2f0" stroke-width="1" opacity="0.9"/>
<path d="M443 624.8 L440.16 628.32 L436.88 631.79 L433.14 635.19 L428.96 638.5 L424.34 641.73 L419.29 644.85 L413.82 647.85 L407.94 650.72 L401.67 653.45 L395.03 656.02 L388.04 658.42 L380.71 660.65 L373.08 662.68 L365.17 664.51 L357.01 666.14 L348.63 667.55 L340.05 668.73 L331.32 669.69 L322.46 670.41 L313.51 670.89 L304.51 671.13 L295.49 671.13 L286.49 670.89 L277.54 670.41 L268.68 669.69 L259.95 668.73 L251.37 667.55 L242.99 666.14 L234.83 664.51 L226.92 662.68 L219.29 660.65 L211.96 658.42 L204.97 656.02 L198.33 653.45 L192.06 650.72 L186.18 647.85 L180.71 644.85 L175.66 641.73 L171.04 638.5 L166.86 635.19 L163.12 631.79 L159.84 628.32 L157 624.8" fill="none" stroke="#b9a0c6" stroke-width="0.9" opacity="0.8"/>
<linearGradient id="shv" x1="0" x2="0" y1="0" y2="1"><stop offset="0" stop-color="#fff" stop-opacity="0"/><stop offset="0.3" stop-color="#f0c8f2" stop-opacity="0.15"/><stop offset="1" stop-color="#efc2f2" stop-opacity="0.6"/></linearGradient>
<path d="M287.23 528.86 L287.63 626.23 L287.8 627.24 L288.34 628.22 L289.23 629.15 L290.46 629.99 L291.99 630.72 L293.76 631.32 L295.73 631.75 L297.83 632.02 L300 632.11 L302.17 632.02 L304.27 631.75 L306.24 631.32 L308.01 630.72 L309.54 629.99 L310.77 629.15 L311.66 628.22 L312.2 627.24 L312.37 626.23 L312.77 528.86 L312.6 529.72 L312.05 530.56 L311.12 531.35 L309.85 532.07 L308.28 532.69 L306.45 533.2 L304.41 533.57 L302.24 533.8 L300 533.88 L297.76 533.8 L295.59 533.57 L293.55 533.2 L291.72 532.69 L290.15 532.07 L288.88 531.35 L287.95 530.56 L287.4 529.72 L287.23 528.86 Z" fill="url(#shg)"/>
<path d="M287.23 528.86 L287.63 626.23 L287.8 627.24 L288.34 628.22 L289.23 629.15 L290.46 629.99 L291.99 630.72 L293.76 631.32 L295.73 631.75 L297.83 632.02 L300 632.11 L302.17 632.02 L304.27 631.75 L306.24 631.32 L308.01 630.72 L309.54 629.99 L310.77 629.15 L311.66 628.22 L312.2 627.24 L312.37 626.23 L312.77 528.86 L312.6 529.72 L312.05 530.56 L311.12 531.35 L309.85 532.07 L308.28 532.69 L306.45 533.2 L304.41 533.57 L302.24 533.8 L300 533.88 L297.76 533.8 L295.59 533.57 L293.55 533.2 L291.72 532.69 L290.15 532.07 L288.88 531.35 L287.95 530.56 L287.4 529.72 L287.23 528.86 Z" fill="url(#shv)"/>
<path d="M264.57 599.61 L258.82 599.01 L253.15 598.32 L247.55 597.55 L242.04 596.69 L236.63 595.74 L231.33 594.72 L226.15 593.62 L221.09 592.43 L216.16 591.18 L211.37 589.85 L206.72 588.46 L202.23 586.99 L197.89 585.47 L193.72 583.88 L193.47 576.93 L197.65 578.5 L202 580.01 L206.5 581.45 L211.16 582.83 L215.96 584.14 L220.9 585.38 L225.97 586.55 L231.17 587.64 L236.48 588.66 L241.9 589.59 L247.42 590.44 L253.03 591.21 L258.73 591.89 L264.49 592.48 Z" fill="#a883c6"/>
<path d="M264.49 592.48 L258.73 591.89 L253.03 591.21 L247.42 590.44 L241.9 589.59 L236.48 588.66 L231.17 587.64 L225.97 586.55 L220.9 585.38 L215.96 584.14 L211.16 582.83 L206.5 581.45 L202 580.01 L197.65 578.5 L193.47 576.93 L279.8 537.05 L280.64 537.32 L281.51 537.59 L282.4 537.83 L283.31 538.07 L284.25 538.3 L285.2 538.51 L286.18 538.71 L287.17 538.89 L288.18 539.06 L289.2 539.22 L290.24 539.36 L291.29 539.49 L292.36 539.6 L293.43 539.7 Z" fill="#dcc6ec"/>
<path d="M152.2 552.98 L151.26 550.87 L150.53 548.75 L149.98 546.64 L149.63 544.53 L149.47 542.42 L149.49 540.32 L149.7 538.24 L150.09 536.16 L150.66 534.11 L151.4 532.07 L152.32 530.05 L153.41 528.05 L154.67 526.08 L156.08 524.13 L155.79 517.86 L154.37 519.79 L153.11 521.74 L152.02 523.71 L151.09 525.71 L150.35 527.72 L149.77 529.75 L149.38 531.8 L149.17 533.87 L149.14 535.94 L149.31 538.02 L149.66 540.11 L150.2 542.2 L150.94 544.29 L151.88 546.38 Z" fill="#a883c6"/>
<path d="M151.88 546.38 L150.94 544.29 L150.2 542.2 L149.66 540.11 L149.31 538.02 L149.14 535.94 L149.17 533.87 L149.38 531.8 L149.77 529.75 L150.35 527.72 L151.09 525.71 L152.02 523.71 L153.11 521.74 L154.37 519.79 L155.79 517.86 L269.81 525.66 L269.62 526.07 L269.46 526.48 L269.34 526.89 L269.25 527.3 L269.21 527.72 L269.2 528.14 L269.23 528.56 L269.29 528.97 L269.4 529.39 L269.54 529.8 L269.72 530.22 L269.93 530.63 L270.19 531.03 L270.48 531.44 Z" fill="#dcc6ec"/>
<path d="M197.67 497.89 L201.24 496.62 L204.9 495.4 L208.65 494.23 L212.48 493.11 L216.38 492.04 L220.36 491.02 L224.41 490.06 L228.52 489.15 L232.69 488.29 L236.92 487.48 L241.21 486.73 L245.54 486.03 L249.92 485.39 L254.34 484.8 L254.26 479.01 L249.83 479.59 L245.44 480.22 L241.1 480.91 L236.8 481.65 L232.57 482.45 L228.38 483.3 L224.26 484.2 L220.21 485.15 L216.22 486.16 L212.31 487.21 L208.47 488.32 L204.72 489.48 L201.05 490.68 L197.47 491.94 Z" fill="#a883c6"/>
<path d="M197.47 491.94 L201.05 490.68 L204.72 489.48 L208.47 488.32 L212.31 487.21 L216.22 486.16 L220.21 485.15 L224.26 484.2 L228.38 483.3 L232.57 482.45 L236.8 481.65 L241.1 480.91 L245.44 480.22 L249.83 479.59 L254.26 479.01 L289.72 516.77 L288.74 516.92 L287.77 517.07 L286.81 517.24 L285.87 517.42 L284.94 517.61 L284.03 517.82 L283.14 518.04 L282.27 518.26 L281.42 518.5 L280.59 518.76 L279.79 519.02 L279 519.29 L278.24 519.58 L277.51 519.87 Z" fill="#dcc6ec"/>
<path d="M327.64 483.01 L332.18 483.37 L336.71 483.8 L341.2 484.27 L345.66 484.8 L350.08 485.39 L354.46 486.03 L358.79 486.73 L363.08 487.48 L367.31 488.29 L371.48 489.15 L375.59 490.06 L379.64 491.02 L383.62 492.04 L387.52 493.11 L387.69 487.21 L383.78 486.16 L379.79 485.15 L375.74 484.2 L371.62 483.3 L367.43 482.45 L363.2 481.65 L358.9 480.91 L354.56 480.22 L350.17 479.59 L345.74 479.01 L341.28 478.48 L336.78 478.01 L332.24 477.59 L327.69 477.23 Z" fill="#a883c6"/>
<path d="M327.69 477.23 L332.24 477.59 L336.78 478.01 L341.28 478.48 L345.74 479.01 L350.17 479.59 L354.56 480.22 L358.9 480.91 L363.2 481.65 L367.43 482.45 L371.62 483.3 L375.74 484.2 L379.79 485.15 L383.78 486.16 L387.69 487.21 L319.41 518.76 L318.58 518.5 L317.73 518.26 L316.86 518.04 L315.97 517.82 L315.06 517.61 L314.13 517.42 L313.19 517.24 L312.23 517.07 L311.26 516.92 L310.28 516.77 L309.29 516.64 L308.28 516.53 L307.27 516.43 L306.24 516.34 Z" fill="#dcc6ec"/>
<path d="M436.7 516.65 L438.73 518.47 L440.61 520.33 L442.34 522.21 L443.92 524.13 L445.33 526.08 L446.59 528.05 L447.68 530.05 L448.6 532.07 L449.34 534.11 L449.91 536.16 L450.3 538.24 L450.51 540.32 L450.53 542.42 L450.37 544.53 L450.69 538.02 L450.86 535.94 L450.83 533.87 L450.62 531.8 L450.23 529.75 L449.65 527.72 L448.91 525.71 L447.98 523.71 L446.89 521.74 L445.63 519.79 L444.21 517.86 L442.63 515.97 L440.89 514.1 L439.01 512.27 L436.97 510.47 Z" fill="#a883c6"/>
<path d="M436.97 510.47 L439.01 512.27 L440.89 514.1 L442.63 515.97 L444.21 517.86 L445.63 519.79 L446.89 521.74 L447.98 523.71 L448.91 525.71 L449.65 527.72 L450.23 529.75 L450.62 531.8 L450.83 533.87 L450.86 535.94 L450.69 538.02 L330.46 529.8 L330.6 529.39 L330.71 528.97 L330.77 528.56 L330.8 528.14 L330.79 527.72 L330.75 527.3 L330.66 526.89 L330.54 526.48 L330.38 526.07 L330.19 525.66 L329.96 525.25 L329.69 524.85 L329.39 524.45 L329.05 524.06 Z" fill="#dcc6ec"/>
<path d="M421.23 577 L417.76 578.8 L414.11 580.55 L410.28 582.24 L406.28 583.88 L402.11 585.47 L397.77 586.99 L393.28 588.46 L388.63 589.85 L383.84 591.18 L378.91 592.43 L373.85 593.62 L368.67 594.72 L363.37 595.74 L357.96 596.69 L358.1 589.59 L363.52 588.66 L368.83 587.64 L374.03 586.55 L379.1 585.38 L384.04 584.14 L388.84 582.83 L393.5 581.45 L398 580.01 L402.35 578.5 L406.53 576.93 L410.54 575.31 L414.37 573.63 L418.03 571.9 L421.51 570.13 Z" fill="#a883c6"/>
<path d="M421.51 570.13 L418.03 571.9 L414.37 573.63 L410.54 575.31 L406.53 576.93 L402.35 578.5 L398 580.01 L393.5 581.45 L388.84 582.83 L384.04 584.14 L379.1 585.38 L374.03 586.55 L368.83 587.64 L363.52 588.66 L358.1 589.59 L310.8 539.22 L311.82 539.06 L312.83 538.89 L313.82 538.71 L314.8 538.51 L315.75 538.3 L316.69 538.07 L317.6 537.83 L318.49 537.59 L319.36 537.32 L320.2 537.05 L321.01 536.77 L321.8 536.47 L322.56 536.17 L323.29 535.85 Z" fill="#dcc6ec"/>
<path d="M355.52 580.5 L349.94 581.3 L344.27 582.01 L338.52 582.64 L332.71 583.18 L326.84 583.63 L320.93 583.99 L314.97 584.27 L308.99 584.45 L303 584.54 L297 584.54 L291.01 584.45 L285.03 584.27 L279.07 583.99 L273.16 583.63 L267.29 583.18 L267.32 585.74 L273.18 586.19 L279.09 586.55 L285.04 586.83 L291.01 587.01 L297 587.1 L303 587.1 L308.99 587.01 L314.96 586.83 L320.91 586.55 L326.82 586.19 L332.68 585.74 L338.49 585.19 L344.23 584.56 L349.9 583.85 L355.48 583.05 Z" fill="#8fe884"/>
<path d="M267.29 583.18 L261.48 582.64 L255.73 582.01 L250.06 581.3 L244.48 580.5 L238.99 579.63 L233.6 578.67 L228.33 577.63 L223.18 576.52 L218.16 575.33 L213.27 574.07 L208.52 572.75 L203.93 571.36 L199.49 569.9 L195.22 568.39 L191.11 566.81 L191.2 569.3 L195.3 570.88 L199.58 572.4 L204.01 573.86 L208.6 575.26 L213.34 576.59 L218.22 577.85 L223.24 579.05 L228.39 580.16 L233.66 581.2 L239.04 582.17 L244.52 583.05 L250.1 583.85 L255.77 584.56 L261.51 585.19 L267.32 585.74 Z" fill="#d9771a"/>
<path d="M191.11 566.81 L187.17 565.19 L183.42 563.51 L179.84 561.79 L176.45 560.02 L173.24 558.21 L170.23 556.36 L167.41 554.48 L164.79 552.57 L162.36 550.62 L160.13 548.66 L158.1 546.67 L156.28 544.66 L154.65 542.64 L153.22 540.6 L151.98 538.55 L152.1 540.92 L153.33 542.98 L154.76 545.02 L156.39 547.05 L158.22 549.07 L160.25 551.07 L162.47 553.05 L164.9 555 L167.52 556.92 L170.34 558.81 L173.35 560.66 L176.55 562.48 L179.94 564.26 L183.51 565.99 L187.27 567.67 L191.2 569.3 Z" fill="#8fe884"/>
<path d="M151.98 538.55 L150.95 536.5 L150.11 534.44 L149.47 532.39 L149.03 530.33 L148.77 528.28 L148.7 526.23 L148.82 524.2 L149.13 522.17 L149.62 520.17 L150.28 518.17 L151.12 516.2 L152.13 514.25 L152.24 516.51 L151.23 518.47 L150.39 520.45 L149.73 522.46 L149.24 524.47 L148.94 526.51 L148.82 528.55 L148.89 530.6 L149.14 532.66 L149.59 534.73 L150.23 536.8 L151.07 538.86 L152.1 540.92 Z" fill="#d9771a"/>
<path d="M447.87 514.25 L448.88 516.2 L449.72 518.17 L450.38 520.17 L450.87 522.17 L451.18 524.2 L451.3 526.23 L451.23 528.28 L450.97 530.33 L450.86 532.66 L451.11 530.6 L451.18 528.55 L451.06 526.51 L450.76 524.47 L450.27 522.46 L449.61 520.45 L448.77 518.47 L447.76 516.51 Z" fill="#d9771a"/>
<path d="M450.97 530.33 L450.53 532.39 L449.89 534.44 L449.05 536.5 L448.02 538.55 L446.78 540.6 L445.35 542.64 L443.72 544.66 L441.9 546.67 L439.87 548.66 L437.64 550.62 L435.21 552.57 L432.59 554.48 L429.77 556.36 L426.76 558.21 L423.55 560.02 L423.45 562.48 L426.65 560.66 L429.66 558.81 L432.48 556.92 L435.1 555 L437.53 553.05 L439.75 551.07 L441.78 549.07 L443.61 547.05 L445.24 545.02 L446.67 542.98 L447.9 540.92 L448.93 538.86 L449.77 536.8 L450.41 534.73 L450.86 532.66 Z" fill="#8fe884"/>
<path d="M423.55 560.02 L420.16 561.79 L416.58 563.51 L412.83 565.19 L408.89 566.81 L404.78 568.39 L400.51 569.9 L396.07 571.36 L391.48 572.75 L386.73 574.07 L381.84 575.33 L376.82 576.52 L371.67 577.63 L366.4 578.67 L361.01 579.63 L355.52 580.5 L355.48 583.05 L360.96 582.17 L366.34 581.2 L371.61 580.16 L376.76 579.05 L381.78 577.85 L386.66 576.59 L391.4 575.26 L395.99 573.86 L400.42 572.4 L404.7 570.88 L408.8 569.3 L412.73 567.67 L416.49 565.99 L420.06 564.26 L423.45 562.48 Z" fill="#d9771a"/>
<path d="M300 519.17 L355.52 580.5 L349.88 581.31 L344.16 582.03 L338.35 582.66 L332.48 583.2 L326.55 583.65 L320.57 584.01 L314.56 584.28 L308.52 584.46 L302.46 584.54 L296.4 584.54 L290.35 584.43 L284.31 584.24 L278.3 583.95 L272.33 583.57 L266.41 583.1 Z" fill="#6fde60"/>
<path d="M300 519.17 L267.29 583.18 L261.42 582.63 L255.62 582 L249.89 581.28 L244.25 580.47 L238.72 579.58 L233.28 578.61 L227.97 577.55 L222.77 576.42 L217.71 575.22 L212.79 573.94 L208.01 572.6 L203.39 571.18 L198.93 569.71 L194.63 568.17 L190.51 566.57 Z" fill="#f79433"/>
<path d="M300 519.17 L191.11 566.81 L187.14 565.17 L183.34 563.48 L179.73 561.74 L176.32 559.95 L173.09 558.12 L170.06 556.25 L167.22 554.35 L164.59 552.41 L162.15 550.45 L159.92 548.46 L157.89 546.45 L156.07 544.42 L154.45 542.37 L153.03 540.31 L151.82 538.25 Z" fill="#6fde60"/>
<path d="M300 519.17 L151.98 538.55 L150.94 536.48 L150.1 534.4 L149.46 532.32 L149.01 530.25 L148.76 528.18 L148.71 526.11 L148.84 524.06 L149.16 522.01 L149.67 519.99 L150.36 517.97 L151.22 515.98 L152.27 514.01 L153.48 512.07 L154.86 510.15 L156.41 508.25 Z" fill="#f79433"/>
<path d="M300 519.17 L156.17 508.53 L157.85 506.66 L159.69 504.83 L161.68 503.02 L163.82 501.25 L166.11 499.51 L168.53 497.82 L171.09 496.16 L173.79 494.54 L176.61 492.96 L179.55 491.42 L182.62 489.93 L185.79 488.48 L189.08 487.07 L192.47 485.71 L195.97 484.4 Z" fill="#6fde60"/>
<path d="M300 519.17 L195.45 484.6 L199.02 483.32 L202.7 482.1 L206.46 480.93 L210.3 479.81 L214.23 478.74 L218.24 477.71 L222.31 476.74 L226.46 475.83 L230.67 474.96 L234.94 474.15 L239.26 473.39 L243.64 472.69 L248.07 472.04 L252.54 471.44 L257.05 470.9 Z" fill="#f79433"/>
<path d="M300 519.17 L256.38 470.98 L260.92 470.48 L265.49 470.04 L270.09 469.66 L274.72 469.33 L279.37 469.05 L284.03 468.84 L288.71 468.67 L293.4 468.57 L298.09 468.52 L302.79 468.52 L307.48 468.58 L312.17 468.7 L316.84 468.87 L321.51 469.1 L326.15 469.39 Z" fill="#6fde60"/>
<path d="M300 519.17 L325.46 469.34 L330.09 469.67 L334.69 470.06 L339.26 470.5 L343.8 471 L348.31 471.55 L352.77 472.16 L357.18 472.82 L361.55 473.53 L365.87 474.3 L370.13 475.12 L374.33 476 L378.46 476.92 L382.52 477.9 L386.51 478.93 L390.43 480.02 Z" fill="#f79433"/>
<path d="M300 519.17 L389.85 479.85 L393.69 480.98 L397.45 482.15 L401.12 483.37 L404.69 484.65 L408.17 485.97 L411.55 487.33 L414.81 488.75 L417.97 490.2 L421.01 491.71 L423.93 493.25 L426.73 494.84 L429.4 496.47 L431.93 498.13 L434.33 499.84 L436.59 501.58 Z" fill="#6fde60"/>
<path d="M300 519.17 L436.27 501.32 L438.4 503.09 L440.39 504.9 L442.22 506.74 L443.9 508.61 L445.41 510.51 L446.76 512.43 L447.94 514.38 L448.95 516.36 L449.79 518.35 L450.44 520.37 L450.91 522.4 L451.2 524.44 L451.3 526.5 L451.21 528.56 L450.92 530.64 Z" fill="#f79433"/>
<path d="M300 519.17 L450.97 530.33 L450.52 532.41 L449.87 534.48 L449.02 536.56 L447.97 538.64 L446.72 540.7 L445.26 542.76 L443.6 544.8 L441.74 546.83 L439.67 548.84 L437.4 550.82 L434.93 552.78 L432.26 554.71 L429.39 556.61 L426.32 558.47 L423.06 560.29 Z" fill="#6fde60"/>
<path d="M300 519.17 L423.55 560.02 L420.13 561.81 L416.51 563.55 L412.71 565.24 L408.73 566.88 L404.57 568.46 L400.25 569.99 L395.75 571.45 L391.1 572.86 L386.3 574.19 L381.35 575.45 L376.26 576.64 L371.04 577.76 L365.7 578.8 L360.25 579.75 L354.69 580.63 Z" fill="#f79433"/>
<path d="M355.52 580.5 L349.94 581.3 L344.27 582.01 L338.52 582.64 L332.71 583.18 L326.84 583.63 L320.93 583.99 L314.97 584.27 L308.99 584.45 L303 584.54 L297 584.54 L291.01 584.45 L285.03 584.27 L279.07 583.99 L273.16 583.63 L267.29 583.18 L282.57 553.28 L285.7 553.51 L288.86 553.69 L292.03 553.83 L295.21 553.92 L298.4 553.96 L301.6 553.96 L304.79 553.92 L307.97 553.83 L311.14 553.69 L314.3 553.51 L317.43 553.28 L320.54 553.01 L323.62 552.69 L326.66 552.34 L329.66 551.93 Z" fill="#9af08c" opacity="0.35"/>
<line x1="300" y1="519.17" x2="355.52" y2="580.5" stroke="#fdf7ea" stroke-width="1.1" opacity="0.9"/>
<line x1="300" y1="519.17" x2="267.29" y2="583.18" stroke="#fdf7ea" stroke-width="1.1" opacity="0.9"/>
<path d="M451.11 459.02 L452.63 460.77 L453.98 462.54 L455.16 464.34 L456.16 466.16 L456.98 468 L457.62 469.86 L458.06 471.73 L458.32 473.61 L458.38 475.5 L458.25 477.41 L457.91 479.31 L457.37 481.23 L456.63 483.14 L455.69 485.05 L454.53 486.96 L453.17 488.86 L451.6 490.75 L449.82 492.63 L447.82 494.5 L445.62 496.34 L443.2 498.16 L440.58 499.96 L437.75 501.74 L434.72 503.48 L431.48 505.19 L428.04 506.86 L424.4 508.5 L420.57 510.09 L416.54 511.63 L412.33 513.13 L407.94 514.57 L403.38 515.96 L398.64 517.3 L393.74 518.57 L388.69 519.78 L383.49 520.93 L378.14 522.01 L372.67 523.02 L367.06 523.95 L361.35 524.82 L355.52 525.6 L349.6 526.31 L343.59 526.94 L337.51 527.49 L331.36 527.95 L325.16 528.34 L318.91 528.64 L312.62 528.85 L306.32 528.98 L300 529.02 L293.68 528.98 L287.38 528.85 L281.09 528.64 L274.84 528.34 L268.64 527.95 L262.49 527.49 L256.41 526.94 L250.4 526.31 L244.48 525.6 L238.65 524.82 L232.94 523.95 L227.33 523.02 L221.86 522.01 L216.51 520.93 L211.31 519.78 L206.26 518.57 L201.36 517.3 L196.62 515.96 L192.06 514.57 L187.67 513.13 L183.46 511.63 L179.43 510.09 L175.6 508.5 L171.96 506.86 L168.52 505.19 L165.28 503.48 L162.25 501.74 L159.42 499.96 L156.8 498.16 L154.38 496.34 L152.18 494.5 L150.18 492.63 L148.4 490.75 L146.83 488.86 L145.47 486.96 L144.31 485.05 L143.37 483.14 L142.63 481.23 L142.09 479.31 L141.75 477.41 L141.62 475.5 L141.68 473.61 L141.94 471.73 L142.38 469.86 L143.02 468 L143.84 466.16 L144.84 464.34 L146.02 462.54 L147.37 460.77 L148.89 459.02 L149.14 464.23 L147.62 466 L146.28 467.79 L145.1 469.61 L144.1 471.45 L143.29 473.31 L142.65 475.19 L142.21 477.08 L141.96 478.99 L141.89 480.9 L142.03 482.83 L142.37 484.76 L142.9 486.69 L143.64 488.63 L144.59 490.56 L145.74 492.49 L147.11 494.41 L148.68 496.33 L150.46 498.23 L152.45 500.11 L154.65 501.98 L157.06 503.82 L159.68 505.64 L162.5 507.44 L165.53 509.2 L168.77 510.93 L172.2 512.62 L175.84 514.27 L179.66 515.88 L183.68 517.44 L187.88 518.95 L192.26 520.42 L196.82 521.82 L201.55 523.17 L206.44 524.46 L211.48 525.68 L216.67 526.84 L222.01 527.93 L227.48 528.95 L233.07 529.9 L238.77 530.77 L244.59 531.57 L250.5 532.28 L256.49 532.92 L262.56 533.47 L268.7 533.95 L274.89 534.33 L281.13 534.63 L287.4 534.85 L293.7 534.98 L300 535.02 L306.3 534.98 L312.6 534.85 L318.87 534.63 L325.11 534.33 L331.3 533.95 L337.44 533.47 L343.51 532.92 L349.5 532.28 L355.41 531.57 L361.23 530.77 L366.93 529.9 L372.52 528.95 L377.99 527.93 L383.33 526.84 L388.52 525.68 L393.56 524.46 L398.45 523.17 L403.18 521.82 L407.74 520.42 L412.12 518.95 L416.32 517.44 L420.34 515.88 L424.16 514.27 L427.8 512.62 L431.23 510.93 L434.47 509.2 L437.5 507.44 L440.32 505.64 L442.94 503.82 L445.35 501.98 L447.55 500.11 L449.54 498.23 L451.32 496.33 L452.89 494.41 L454.26 492.49 L455.41 490.56 L456.36 488.63 L457.1 486.69 L457.63 484.76 L457.97 482.83 L458.11 480.9 L458.04 478.99 L457.79 477.08 L457.35 475.19 L456.71 473.31 L455.9 471.45 L454.9 469.61 L453.72 467.79 L452.38 466 L450.86 464.23 Z" fill="#857d5b"/>
<path d="M450.96 462.25 L452.47 464.01 L453.82 465.8 L455 467.61 L456 469.44 L456.82 471.3 L457.45 473.16 L457.89 475.05 L458.15 476.94 L458.21 478.85 L458.07 480.77 L457.74 482.69 L457.2 484.62 L456.46 486.54 L455.51 488.47 L454.36 490.39 L453 492.31 L451.43 494.21 L449.65 496.1 L447.65 497.98 L445.45 499.84 L443.04 501.67 L440.42 503.49 L437.59 505.27 L434.56 507.03 L431.32 508.75 L427.89 510.43 L424.25 512.08 L420.42 513.68 L416.4 515.24 L412.2 516.74 L407.81 518.2 L403.25 519.6 L398.52 520.94 L393.63 522.22 L388.58 523.44 L383.39 524.6 L378.05 525.68 L372.58 526.7 L366.98 527.64 L361.27 528.51 L355.45 529.3 L349.54 530.02 L343.54 530.65 L337.46 531.2 L331.32 531.67 L325.12 532.06 L318.88 532.36 L312.61 532.57 L306.31 532.7 L300 532.75 L293.69 532.7 L287.39 532.57 L281.12 532.36 L274.88 532.06 L268.68 531.67 L262.54 531.2 L256.46 530.65 L250.46 530.02 L244.55 529.3 L238.73 528.51 L233.02 527.64 L227.42 526.7 L221.95 525.68 L216.61 524.6 L211.42 523.44 L206.37 522.22 L201.48 520.94 L196.75 519.6 L192.19 518.2 L187.8 516.74 L183.6 515.24 L179.58 513.68 L175.75 512.08 L172.11 510.43 L168.68 508.75 L165.44 507.03 L162.41 505.27 L159.58 503.49 L156.96 501.67 L154.55 499.84 L152.35 497.98 L150.35 496.1 L148.57 494.21 L147 492.31 L145.64 490.39 L144.49 488.47 L143.54 486.54 L142.8 484.62 L142.26 482.69 L141.93 480.77 L141.79 478.85 L141.85 476.94 L142.11 475.05 L142.55 473.16 L143.18 471.3 L144 469.44 L145 467.61 L146.18 465.8 L147.53 464.01 L149.04 462.25 L149.14 464.23 L147.62 466 L146.28 467.79 L145.1 469.61 L144.1 471.45 L143.29 473.31 L142.65 475.19 L142.21 477.08 L141.96 478.99 L141.89 480.9 L142.03 482.83 L142.37 484.76 L142.9 486.69 L143.64 488.63 L144.59 490.56 L145.74 492.49 L147.11 494.41 L148.68 496.33 L150.46 498.23 L152.45 500.11 L154.65 501.98 L157.06 503.82 L159.68 505.64 L162.5 507.44 L165.53 509.2 L168.77 510.93 L172.2 512.62 L175.84 514.27 L179.66 515.88 L183.68 517.44 L187.88 518.95 L192.26 520.42 L196.82 521.82 L201.55 523.17 L206.44 524.46 L211.48 525.68 L216.67 526.84 L222.01 527.93 L227.48 528.95 L233.07 529.9 L238.77 530.77 L244.59 531.57 L250.5 532.28 L256.49 532.92 L262.56 533.47 L268.7 533.95 L274.89 534.33 L281.13 534.63 L287.4 534.85 L293.7 534.98 L300 535.02 L306.3 534.98 L312.6 534.85 L318.87 534.63 L325.11 534.33 L331.3 533.95 L337.44 533.47 L343.51 532.92 L349.5 532.28 L355.41 531.57 L361.23 530.77 L366.93 529.9 L372.52 528.95 L377.99 527.93 L383.33 526.84 L388.52 525.68 L393.56 524.46 L398.45 523.17 L403.18 521.82 L407.74 520.42 L412.12 518.95 L416.32 517.44 L420.34 515.88 L424.16 514.27 L427.8 512.62 L431.23 510.93 L434.47 509.2 L437.5 507.44 L440.32 505.64 L442.94 503.82 L445.35 501.98 L447.55 500.11 L449.54 498.23 L451.32 496.33 L452.89 494.41 L454.26 492.49 L455.41 490.56 L456.36 488.63 L457.1 486.69 L457.63 484.76 L457.97 482.83 L458.11 480.9 L458.04 478.99 L457.79 477.08 L457.35 475.19 L456.71 473.31 L455.9 471.45 L454.9 469.61 L453.72 467.79 L452.38 466 L450.86 464.23 Z" fill="#5f593f"/>
<clipPath id="faceclip"><path d="M456.98 468 L457.86 470.79 L458.32 473.61 L458.34 476.45 L457.91 479.31 L457.03 482.18 L455.69 485.05 L453.88 487.91 L451.6 490.75 L448.84 493.57 L445.62 496.34 L441.92 499.07 L437.75 501.74 L433.12 504.34 L428.04 506.86 L422.51 509.3 L416.54 511.63 L410.16 513.86 L403.38 515.96 L396.21 517.94 L388.69 519.78 L380.83 521.48 L372.67 523.02 L364.22 524.39 L355.52 525.6 L346.61 526.64 L337.51 527.49 L328.26 528.16 L318.91 528.64 L309.47 528.92 L300 529.02 L290.53 528.92 L281.09 528.64 L271.74 528.16 L262.49 527.49 L253.39 526.64 L244.48 525.6 L235.78 524.39 L227.33 523.02 L219.17 521.48 L211.31 519.78 L203.79 517.94 L196.62 515.96 L189.84 513.86 L183.46 511.63 L177.49 509.3 L171.96 506.86 L166.88 504.34 L162.25 501.74 L158.08 499.07 L154.38 496.34 L151.16 493.57 L148.4 490.75 L146.12 487.91 L144.31 485.05 L142.97 482.18 L142.09 479.31 L141.66 476.45 L141.68 473.61 L142.14 470.79 L143.02 468 L144.32 465.25 L146.02 462.54 L148.11 459.89 L150.57 457.29 L153.41 454.76 L156.59 452.29 L160.1 449.9 L163.94 447.58 L168.08 445.34 L172.51 443.19 L177.22 441.12 L182.19 439.15 L187.41 437.27 L192.86 435.48 L198.53 433.79 L204.39 432.21 L210.45 430.72 L216.68 429.34 L223.07 428.07 L229.6 426.9 L236.27 425.84 L243.06 424.89 L249.95 424.05 L256.93 423.32 L263.99 422.7 L271.11 422.19 L278.29 421.79 L285.51 421.51 L292.75 421.34 L300 421.29 L307.25 421.34 L314.49 421.51 L321.71 421.79 L328.89 422.19 L336.01 422.7 L343.07 423.32 L350.05 424.05 L356.94 424.89 L363.73 425.84 L370.4 426.9 L376.93 428.07 L383.32 429.34 L389.55 430.72 L395.61 432.21 L401.47 433.79 L407.14 435.48 L412.59 437.27 L417.81 439.15 L422.78 441.12 L427.49 443.19 L431.92 445.34 L436.06 447.58 L439.9 449.9 L443.41 452.29 L446.59 454.76 L449.43 457.29 L451.89 459.89 L453.98 462.54 L455.68 465.25 L456.98 468 Z"/></clipPath>
<path d="M456.98 468 L457.86 470.79 L458.32 473.61 L458.34 476.45 L457.91 479.31 L457.03 482.18 L455.69 485.05 L453.88 487.91 L451.6 490.75 L448.84 493.57 L445.62 496.34 L441.92 499.07 L437.75 501.74 L433.12 504.34 L428.04 506.86 L422.51 509.3 L416.54 511.63 L410.16 513.86 L403.38 515.96 L396.21 517.94 L388.69 519.78 L380.83 521.48 L372.67 523.02 L364.22 524.39 L355.52 525.6 L346.61 526.64 L337.51 527.49 L328.26 528.16 L318.91 528.64 L309.47 528.92 L300 529.02 L290.53 528.92 L281.09 528.64 L271.74 528.16 L262.49 527.49 L253.39 526.64 L244.48 525.6 L235.78 524.39 L227.33 523.02 L219.17 521.48 L211.31 519.78 L203.79 517.94 L196.62 515.96 L189.84 513.86 L183.46 511.63 L177.49 509.3 L171.96 506.86 L166.88 504.34 L162.25 501.74 L158.08 499.07 L154.38 496.34 L151.16 493.57 L148.4 490.75 L146.12 487.91 L144.31 485.05 L142.97 482.18 L142.09 479.31 L141.66 476.45 L141.68 473.61 L142.14 470.79 L143.02 468 L144.32 465.25 L146.02 462.54 L148.11 459.89 L150.57 457.29 L153.41 454.76 L156.59 452.29 L160.1 449.9 L163.94 447.58 L168.08 445.34 L172.51 443.19 L177.22 441.12 L182.19 439.15 L187.41 437.27 L192.86 435.48 L198.53 433.79 L204.39 432.21 L210.45 430.72 L216.68 429.34 L223.07 428.07 L229.6 426.9 L236.27 425.84 L243.06 424.89 L249.95 424.05 L256.93 423.32 L263.99 422.7 L271.11 422.19 L278.29 421.79 L285.51 421.51 L292.75 421.34 L300 421.29 L307.25 421.34 L314.49 421.51 L321.71 421.79 L328.89 422.19 L336.01 422.7 L343.07 423.32 L350.05 424.05 L356.94 424.89 L363.73 425.84 L370.4 426.9 L376.93 428.07 L383.32 429.34 L389.55 430.72 L395.61 432.21 L401.47 433.79 L407.14 435.48 L412.59 437.27 L417.81 439.15 L422.78 441.12 L427.49 443.19 L431.92 445.34 L436.06 447.58 L439.9 449.9 L443.41 452.29 L446.59 454.76 L449.43 457.29 L451.89 459.89 L453.98 462.54 L455.68 465.25 L456.98 468 Z" fill="url(#acr)"/>
<g clip-path="url(#faceclip)">
<path d="M300.1 520.9 L347.63 577.63 L342.72 578.29 L337.76 578.87 L332.74 579.38 L327.69 579.82 L322.6 580.18 L317.49 580.47 L312.35 580.69 L307.2 580.83 L302.04 580.89 L296.87 580.89 L291.71 580.8 L286.56 580.64 L281.43 580.41 L276.32 580.1 L271.24 579.72 Z" fill="#b5e8a6"/>
<path d="M300.1 520.9 L272.24 579.8 L267.19 579.36 L262.18 578.84 L257.22 578.25 L252.31 577.59 L247.46 576.86 L242.68 576.06 L237.97 575.2 L233.33 574.26 L228.78 573.25 L224.32 572.19 L219.96 571.05 L215.69 569.86 L211.53 568.6 L207.48 567.28 L203.55 565.91 Z" fill="#f6c8a6"/>
<path d="M300.1 520.9 L204.32 566.18 L200.48 564.76 L196.77 563.29 L193.18 561.76 L189.73 560.18 L186.42 558.55 L183.25 556.87 L180.23 555.15 L177.36 553.39 L174.64 551.59 L172.08 549.74 L169.68 547.87 L167.44 545.95 L165.36 544.01 L163.46 542.04 L161.73 540.04 Z" fill="#b5e8a6"/>
<path d="M300.1 520.9 L162.05 540.43 L160.46 538.42 L159.04 536.38 L157.8 534.32 L156.73 532.24 L155.84 530.15 L155.14 528.05 L154.61 525.93 L154.27 523.82 L154.11 521.7 L154.14 519.57 L154.34 517.45 L154.73 515.34 L155.3 513.23 L156.05 511.13 L156.98 509.04 Z" fill="#f6c8a6"/>
<path d="M300.1 520.9 L156.78 509.45 L157.86 507.38 L159.11 505.32 L160.54 503.28 L162.14 501.26 L163.92 499.27 L165.87 497.3 L167.98 495.37 L170.26 493.46 L172.7 491.59 L175.3 489.76 L178.06 487.96 L180.97 486.21 L184.03 484.5 L187.24 482.84 L190.58 481.22 Z" fill="#b5e8a6"/>
<path d="M300.1 520.9 L189.91 481.54 L193.37 479.96 L196.96 478.43 L200.68 476.96 L204.52 475.54 L208.48 474.18 L212.56 472.88 L216.75 471.64 L221.04 470.46 L225.43 469.34 L229.91 468.29 L234.48 467.3 L239.14 466.38 L243.87 465.53 L248.67 464.75 L253.53 464.03 Z" fill="#f6c8a6"/>
<path d="M300.1 520.9 L252.57 464.17 L257.48 463.51 L262.44 462.93 L267.46 462.42 L272.51 461.98 L277.6 461.62 L282.71 461.33 L287.85 461.11 L293 460.97 L298.16 460.91 L303.33 460.91 L308.49 461 L313.64 461.16 L318.77 461.39 L323.88 461.7 L328.96 462.08 Z" fill="#b5e8a6"/>
<path d="M300.1 520.9 L327.96 462 L333.01 462.44 L338.02 462.96 L342.98 463.55 L347.89 464.21 L352.74 464.94 L357.52 465.74 L362.23 466.6 L366.87 467.54 L371.42 468.55 L375.88 469.61 L380.24 470.75 L384.51 471.94 L388.67 473.2 L392.72 474.52 L396.65 475.89 Z" fill="#f6c8a6"/>
<path d="M300.1 520.9 L395.88 475.62 L399.72 477.04 L403.43 478.51 L407.02 480.04 L410.47 481.62 L413.78 483.25 L416.95 484.93 L419.97 486.65 L422.84 488.41 L425.56 490.21 L428.12 492.06 L430.52 493.93 L432.76 495.85 L434.84 497.79 L436.74 499.76 L438.47 501.76 Z" fill="#b5e8a6"/>
<path d="M300.1 520.9 L438.15 501.37 L439.74 503.38 L441.16 505.42 L442.4 507.48 L443.47 509.56 L444.36 511.65 L445.06 513.75 L445.59 515.87 L445.93 517.98 L446.09 520.1 L446.06 522.23 L445.86 524.35 L445.47 526.46 L444.9 528.57 L444.15 530.67 L443.22 532.76 Z" fill="#f6c8a6"/>
<path d="M300.1 520.9 L443.42 532.35 L442.34 534.42 L441.09 536.48 L439.66 538.52 L438.06 540.54 L436.28 542.53 L434.33 544.5 L432.22 546.43 L429.94 548.34 L427.5 550.21 L424.9 552.04 L422.14 553.84 L419.23 555.59 L416.17 557.3 L412.96 558.96 L409.62 560.58 Z" fill="#b5e8a6"/>
<path d="M300.1 520.9 L410.29 560.26 L406.83 561.84 L403.24 563.37 L399.52 564.84 L395.68 566.26 L391.72 567.62 L387.64 568.92 L383.45 570.16 L379.16 571.34 L374.77 572.46 L370.29 573.51 L365.72 574.5 L361.06 575.42 L356.33 576.27 L351.53 577.05 L346.67 577.77 Z" fill="#f6c8a6"/>
<linearGradient id="shf" x1="0" x2="1"><stop offset="0" stop-color="#f6b066"/><stop offset="0.35" stop-color="#ffcf8e"/><stop offset="0.7" stop-color="#f9b568"/><stop offset="1" stop-color="#f0a252"/></linearGradient>
<path d="M286.6 466 H313.8 V520 A13.6 5 0 0 1 286.6 520 Z" fill="url(#shf)" opacity="0.93"/>
</g>
<path d="M143.02 468 L144.32 465.25 L146.02 462.54 L148.11 459.89 L150.57 457.29 L153.41 454.76 L156.59 452.29 L160.1 449.9 L163.94 447.58 L168.08 445.34 L172.51 443.19 L177.22 441.12 L182.19 439.15 L187.41 437.27 L192.86 435.48 L198.53 433.79 L204.39 432.21 L210.45 430.72 L216.68 429.34 L223.07 428.07 L229.6 426.9 L236.27 425.84 L243.06 424.89 L249.95 424.05 L256.93 423.32 L263.99 422.7 L271.11 422.19 L278.29 421.79 L285.51 421.51 L292.75 421.34 L300 421.29 L307.25 421.34 L314.49 421.51 L321.71 421.79 L328.89 422.19 L336.01 422.7 L343.07 423.32 L350.05 424.05 L356.94 424.89 L363.73 425.84 L370.4 426.9 L376.93 428.07 L383.32 429.34 L389.55 430.72 L395.61 432.21 L401.47 433.79 L407.14 435.48 L412.59 437.27 L417.81 439.15 L422.78 441.12 L427.49 443.19 L431.92 445.34 L436.06 447.58 L439.9 449.9 L443.41 452.29 L446.59 454.76 L449.43 457.29 L451.89 459.89 L453.98 462.54 L455.68 465.25 L456.98 468" fill="none" stroke="#a9b07a" stroke-width="1.1" opacity="0.75"/>
<path d="M456.35 468 L457.23 470.78 L457.68 473.59 L457.69 476.42 L457.26 479.27 L456.38 482.12 L455.04 484.98 L453.23 487.83 L450.96 490.66 L448.21 493.46 L444.99 496.22 L441.31 498.93 L437.16 501.59 L432.54 504.18 L427.47 506.69 L421.96 509.11 L416.02 511.44 L409.67 513.65 L402.91 515.75 L395.78 517.72 L388.29 519.55 L380.47 521.23 L372.33 522.77 L363.93 524.14 L355.27 525.34 L346.39 526.37 L337.34 527.21 L328.13 527.88 L318.82 528.36 L309.43 528.64 L300 528.74 L290.57 528.64 L281.18 528.36 L271.87 527.88 L262.66 527.21 L253.61 526.37 L244.73 525.34 L236.07 524.14 L227.67 522.77 L219.53 521.23 L211.71 519.55 L204.22 517.72 L197.09 515.75 L190.33 513.65 L183.98 511.44 L178.04 509.11 L172.53 506.69 L167.46 504.18 L162.84 501.59 L158.69 498.93 L155.01 496.22 L151.79 493.46 L149.04 490.66 L146.77 487.83 L144.96 484.98 L143.62 482.12 L142.74 479.27 L142.31 476.42 L142.32 473.59 L142.77 470.78 L143.65 468" fill="none" stroke="#fbf7e6" stroke-width="1.3" opacity="0.9"/>
<path d="M286.33 447.92 L286.42 468 L286.6 468.8 L287.19 469.57 L288.17 470.3 L289.52 470.96 L291.19 471.54 L293.14 472 L295.31 472.35 L297.62 472.56 L300 472.63 L302.38 472.56 L304.69 472.35 L306.86 472 L308.81 471.54 L310.48 470.96 L311.83 470.3 L312.81 469.57 L313.4 468.8 L313.58 468 L313.67 447.92 L313.49 448.68 L312.89 449.42 L311.9 450.12 L310.55 450.75 L308.86 451.3 L306.9 451.75 L304.73 452.08 L302.4 452.28 L300 452.34 L297.6 452.28 L295.27 452.08 L293.1 451.75 L291.14 451.3 L289.45 450.75 L288.1 450.12 L287.11 449.42 L286.51 448.68 L286.33 447.92 Z" fill="url(#sho)"/>
<path d="M286.17 410.04 L286.34 448.67 L286.52 449.43 L287.11 450.17 L288.1 450.87 L289.45 451.51 L291.14 452.05 L293.1 452.5 L295.28 452.83 L297.6 453.03 L300 453.1 L302.4 453.03 L304.72 452.83 L306.9 452.5 L308.86 452.05 L310.55 451.51 L311.9 450.87 L312.89 450.17 L313.48 449.43 L313.66 448.67 L313.83 410.04 L313.65 410.73 L313.05 411.41 L312.05 412.04 L310.68 412.62 L308.97 413.12 L306.99 413.52 L304.78 413.82 L302.43 414.01 L300 414.07 L297.57 414.01 L295.22 413.82 L293.01 413.52 L291.03 413.12 L289.32 412.62 L287.95 412.04 L286.95 411.41 L286.35 410.73 L286.17 410.04 Z" fill="url(#shg)"/>
<path d="M313.83 410.04 L313.65 410.73 L313.05 411.41 L312.05 412.04 L310.68 412.62 L308.97 413.12 L306.99 413.52 L304.78 413.82 L302.43 414.01 L300 414.07 L297.57 414.01 L295.22 413.82 L293.01 413.52 L291.03 413.12 L289.32 412.62 L287.95 412.04 L286.95 411.41 L286.35 410.73 L286.17 410.04 L286.41 409.35 L287.05 408.68 L288.09 408.06 L289.48 407.5 L291.19 407.01 L293.15 406.62 L295.32 406.33 L297.63 406.16 L300 406.1 L302.37 406.16 L304.68 406.33 L306.85 406.62 L308.81 407.01 L310.52 407.5 L311.91 408.06 L312.95 408.68 L313.59 409.35 L313.83 410.04 Z" fill="#c9bfca" stroke="#9d919f" stroke-width="0.9"/>
<path d="M309.59 410.04 L309.46 410.52 L309.04 410.99 L308.34 411.43 L307.39 411.82 L306.21 412.17 L304.83 412.45 L303.31 412.66 L301.68 412.78 L300 412.82 L298.32 412.78 L296.69 412.66 L295.17 412.45 L293.79 412.17 L292.61 411.82 L291.66 411.43 L290.96 410.99 L290.54 410.52 L290.41 410.04 L290.56 409.56 L291.01 409.1 L291.72 408.66 L292.69 408.27 L293.87 407.93 L295.24 407.66 L296.74 407.46 L298.35 407.34 L300 407.3 L301.65 407.34 L303.26 407.46 L304.76 407.66 L306.13 407.93 L307.31 408.27 L308.28 408.66 L308.99 409.1 L309.44 409.56 L309.59 410.04 Z" fill="#eee6ef"/>
<path d="M313.66 448.67 L313.48 449.43 L312.89 450.17 L311.9 450.87 L310.55 451.51 L308.86 452.05 L306.9 452.5 L304.72 452.83 L302.4 453.03 L300 453.1 L297.6 453.03 L295.28 452.83 L293.1 452.5 L291.14 452.05 L289.45 451.51 L288.1 450.87 L287.11 450.17 L286.52 449.43 L286.34 448.67" fill="none" stroke="#d9791a" stroke-width="1" opacity="0.8"/>
<text x="62.6" y="502.8" font-family='"Liberation Sans", sans-serif' font-size="17.6" fill="#111" font-weight="bold" font-style="italic" textLength="64" lengthAdjust="spacingAndGlyphs">Rotator</text>
<text x="65.1" y="648.2" font-family='"Liberation Sans", sans-serif' font-size="17.6" fill="#111" font-weight="bold" font-style="italic" textLength="52.8" lengthAdjust="spacingAndGlyphs">Stator</text>
<rect x="470.9" y="429.6" width="25.8" height="16.6" rx="2.2" fill="#fffcec" stroke="#5a5648" stroke-width="0.8"/>
<rect x="470.7" y="482.8" width="26.1" height="16.9" fill="#f4923a" rx="2.5"/>
<rect x="470.7" y="544.5" width="26.1" height="16.9" fill="#73dd6c" rx="2.5"/>
<rect x="470.7" y="606.2" width="26.1" height="16" fill="#ebb7ea" rx="2.5"/>
<rect x="470.7" y="665.6" width="26.1" height="14.4" fill="#f8e465" rx="2.5"/>
<rect x="470.7" y="678" width="26.1" height="12.8" fill="#d9d9d9" rx="2.5"/>
<rect x="470.7" y="676" width="26.1" height="3" fill="#f8e465"/>
<text x="501.8" y="443.2" font-family='"Liberation Sans", sans-serif' font-size="17.6" fill="#111" font-weight="bold" font-style="italic" textLength="56.5" lengthAdjust="spacingAndGlyphs">Acrylic</text>
<text x="507.3" y="498" font-family='"Liberation Sans", sans-serif' font-size="17.6" fill="#111" font-weight="bold" font-style="italic" textLength="20.6" lengthAdjust="spacingAndGlyphs">Cu</text>
<text x="508.7" y="559.6" font-family='"Liberation Sans", sans-serif' font-size="17.6" fill="#111" font-weight="bold" font-style="italic" textLength="38.8" lengthAdjust="spacingAndGlyphs">PTFE</text>
<text x="508.7" y="621.3" font-family='"Liberation Sans", sans-serif' font-size="17.6" fill="#111" font-weight="bold" font-style="italic" textLength="19.3" lengthAdjust="spacingAndGlyphs">PA</text>
<text x="508.7" y="681.6" font-family='"Liberation Sans", sans-serif' font-size="17.6" fill="#111" font-weight="bold" font-style="italic" textLength="13.7" lengthAdjust="spacingAndGlyphs">Al</text>
</g>
<g id="pcd">
<line x1="580.1" y1="61.9" x2="1238.5" y2="61.9" stroke="#7d7d7d" stroke-width="1.9" stroke-dasharray="8.6 6.8" stroke-dashoffset="10.4"/><line x1="580.1" y1="61" x2="580.1" y2="750.4" stroke="#7d7d7d" stroke-width="1.9" stroke-dasharray="8.6 6.8" stroke-dashoffset="13.1"/><line x1="580.1" y1="749.6" x2="1238.5" y2="749.6" stroke="#7d7d7d" stroke-width="1.9" stroke-dasharray="8.6 6.8" stroke-dashoffset="13"/><line x1="1237.7" y1="61" x2="1237.7" y2="750.4" stroke="#7d7d7d" stroke-width="1.9" stroke-dasharray="8.6 6.8" stroke-dashoffset="4.2"/><line x1="580.1" y1="286" x2="1238.5" y2="286" stroke="#7d7d7d" stroke-width="2.7" stroke-dasharray="8.6 6.8" stroke-dashoffset="14.2"/>
<text x="589.6" y="88" font-family='"Liberation Sans", sans-serif' font-size="30.5" fill="#000" font-weight="bold" textLength="14.2" lengthAdjust="spacingAndGlyphs">c</text>
<path d="M627.1 150 L627.1 107.6 L767.2 107.6 L767.2 141" fill="none" stroke="#303030" stroke-width="1.6"/>
<path d="M627.1 202 L627.1 248.7 L851.4 248.7 L851.4 212.5" fill="none" stroke="#303030" stroke-width="1.6"/>
<line x1="732.1" y1="212.5" x2="732.1" y2="248.7" stroke="#303030" stroke-width="1.6"/>
<path d="M685.6 99.8 L697.6 107.9 L685.6 116.4 Z M698 99.4 V117.2" fill="#fff" stroke="#c00000" stroke-width="1.8" stroke-linejoin="miter"/>
<rect x="595.6" y="149.7" width="63.6" height="52.7" rx="8.5" fill="#c6d3ee" stroke="#333" stroke-width="1.1"/>
<text x="627.6" y="172.4" font-family='"Liberation Sans", sans-serif' font-size="15.2" fill="#1a1a1a" text-anchor="middle" textLength="53.5" lengthAdjust="spacingAndGlyphs">Voltage</text>
<text x="627.6" y="193.7" font-family='"Liberation Sans", sans-serif' font-size="15.2" fill="#1a1a1a" text-anchor="middle" textLength="47.5" lengthAdjust="spacingAndGlyphs">source</text>
<rect x="712.3" y="140.7" width="109.6" height="16.6" fill="#fd9637" rx="3.5"/>
<rect x="713.3" y="157.3" width="109.3" height="11.7" fill="#ebb7ea" rx="2.5"/>
<rect x="678.5" y="184.7" width="227.5" height="11.3" fill="#ebb7ea" rx="2.5"/>
<rect x="678.5" y="196.6" width="108.3" height="16.3" fill="#f8e465" rx="2.5"/>
<rect x="797.3" y="196.6" width="108.7" height="16.3" fill="#d9d9d9" rx="2.5"/>
<path d="M722 149.6H735.6M728.8 142.8V156.4" stroke="#3d3d3d" stroke-width="2.3" fill="none"/>
<path d="M760.7 149.6H774.3M767.5 142.8V156.4" stroke="#3d3d3d" stroke-width="2.3" fill="none"/>
<path d="M798.4 149.6H812M805.2 142.8V156.4" stroke="#3d3d3d" stroke-width="2.3" fill="none"/>
<path d="M721.8 202.1H736.2" stroke="#3d3d3d" stroke-width="3.2" fill="none"/>
<path d="M760.1 202.1H774.5" stroke="#3d3d3d" stroke-width="3.2" fill="none"/>
<path d="M799 202.1H813.4" stroke="#3d3d3d" stroke-width="3.2" fill="none"/>
<defs><linearGradient id="gca" x1="0" x2="1"><stop offset="0" stop-color="#c9dcf0"/><stop offset="0.45" stop-color="#5f9dd6"/><stop offset="1" stop-color="#5b9bd5"/></linearGradient></defs>
<path d="M764.7 225.4 L775 219.3 V222.9 H802 V219.3 L812.3 225.4 L802 231.5 V227.9 H775 V231.5 Z" fill="url(#gca)"/>
<circle cx="788.5" cy="249.2" r="14.8" fill="#d9d9d9" stroke="#333" stroke-width="1.1"/>
<text x="788.6" y="255.2" font-family='"Liberation Sans", sans-serif' font-size="16.5" fill="#c00000" text-anchor="middle">Q</text>
<text x="912.3" y="91.3" font-family='"Liberation Sans", sans-serif' font-size="30.5" fill="#000" font-weight="bold" textLength="16.5" lengthAdjust="spacingAndGlyphs">d</text>
<rect x="954.4" y="99.2" width="272.2" height="47.4" rx="9.5" fill="none" stroke="#b91515" stroke-width="2.3" stroke-dasharray="8.6 3.6"/>
<text x="971.6" y="124.8" font-family='"Liberation Sans", sans-serif' font-size="15.8" fill="#111" font-weight="bold" textLength="38.3" lengthAdjust="spacingAndGlyphs">Input</text>
<text x="1140.6" y="124.8" font-family='"Liberation Sans", sans-serif' font-size="15.8" fill="#111" font-weight="bold" textLength="51.6" lengthAdjust="spacingAndGlyphs">Output</text>
<text x="1075.9" y="130.2" font-family='"Liberation Serif", serif' font-size="25.5" fill="#111" font-weight="bold" text-anchor="middle" textLength="59.6" lengthAdjust="spacingAndGlyphs">VMC</text>
<path d="M1198.6 117H1214M1206.3 109.3V124.7" stroke="#c00000" stroke-width="4" fill="none"/>
<path d="M971.8 140 L971.8 252.7 L1205.9 252.7" fill="none" stroke="#1f1f1f" stroke-width="1.8"/>
<line x1="1001.6" y1="140" x2="1001.8" y2="182.2" stroke="#1f1f1f" stroke-width="1.8"/>
<line x1="1001.8" y1="182.3" x2="1167.5" y2="182.3" stroke="#1f1f1f" stroke-width="2.5"/>
<line x1="1206.9" y1="140" x2="1206.4" y2="251.3" stroke="#b01010" stroke-width="1.8"/>
<path d="M1001.8 182.1 L1043.1 252.7 L1084.1 182.1 L1125.4 252.7 L1167.5 182.1 L1206 252" fill="none" stroke="#1f1f1f" stroke-width="1.9" stroke-linejoin="miter"/>
<path d="M1008.72 214.53 L1026.68 204.03 L1026.58 224.46 Z" fill="none" stroke="#1f1f1f" stroke-width="1.9" stroke-linejoin="miter"/><line x1="1018.12" y1="229.41" x2="1035.04" y2="219.51" stroke="#1f1f1f" stroke-width="1.9"/>
<path d="M1067.88 230.74 L1049.89 220.3 L1067.7 210.34 Z" fill="none" stroke="#1f1f1f" stroke-width="1.9" stroke-linejoin="miter"/><line x1="1076.17" y1="215.26" x2="1059.23" y2="205.42" stroke="#1f1f1f" stroke-width="1.9"/>
<path d="M1091.02 214.53 L1108.98 204.03 L1108.88 224.46 Z" fill="none" stroke="#1f1f1f" stroke-width="1.9" stroke-linejoin="miter"/><line x1="1100.42" y1="229.41" x2="1117.34" y2="219.51" stroke="#1f1f1f" stroke-width="1.9"/>
<path d="M1150.54 230.85 L1132.68 220.19 L1150.66 210.34 Z" fill="none" stroke="#1f1f1f" stroke-width="1.9" stroke-linejoin="miter"/><line x1="1159.08" y1="215.36" x2="1142.24" y2="205.32" stroke="#1f1f1f" stroke-width="1.9"/>
<path d="M1173.21 214.03 L1191.43 203.99 L1190.6 224.04 Z" fill="none" stroke="#1f1f1f" stroke-width="1.9" stroke-linejoin="miter"/><line x1="1182.02" y1="228.77" x2="1199.18" y2="219.31" stroke="#1f1f1f" stroke-width="1.9"/>
<rect x="1035.8" y="179.8" width="13.7" height="5" fill="#fff"/>
<line x1="1035.8" y1="169" x2="1035.8" y2="195.8" stroke="#1da9e3" stroke-width="4.2"/>
<line x1="1049.5" y1="169" x2="1049.5" y2="195.8" stroke="#1da9e3" stroke-width="4.2"/>
<rect x="1118" y="179.8" width="13.6" height="5" fill="#fff"/>
<line x1="1118" y1="168.2" x2="1118" y2="194.8" stroke="#1da9e3" stroke-width="4.2"/>
<line x1="1131.6" y1="168.2" x2="1131.6" y2="194.8" stroke="#1da9e3" stroke-width="4.2"/>
<rect x="994.6" y="250.2" width="13.5" height="5" fill="#fff"/>
<line x1="994.6" y1="238.4" x2="994.6" y2="264.8" stroke="#1da9e3" stroke-width="4.2"/>
<line x1="1008.1" y1="238.4" x2="1008.1" y2="264.8" stroke="#1da9e3" stroke-width="4.2"/>
<rect x="1077.4" y="250.2" width="12.4" height="5" fill="#fff"/>
<line x1="1077.4" y1="240" x2="1077.4" y2="266.6" stroke="#1da9e3" stroke-width="4.2"/>
<line x1="1089.8" y1="240" x2="1089.8" y2="266.6" stroke="#1da9e3" stroke-width="4.2"/>
<rect x="1159.8" y="250.2" width="12.1" height="5" fill="#fff"/>
<line x1="1159.8" y1="239" x2="1159.8" y2="265.6" stroke="#1da9e3" stroke-width="4.2"/>
<line x1="1171.9" y1="239" x2="1171.9" y2="265.6" stroke="#1da9e3" stroke-width="4.2"/>
<circle cx="971.8" cy="136.7" r="3.3" fill="#fff" stroke="#111" stroke-width="1.4"/>
<circle cx="1001.5" cy="136.7" r="3.3" fill="#fff" stroke="#111" stroke-width="1.4"/>
<circle cx="1206.8" cy="136.7" r="3.3" fill="#fff" stroke="#b01010" stroke-width="1.4"/>
<circle cx="1002.2" cy="181.8" r="3.8" fill="#1f1f1f"/>
<circle cx="1206.2" cy="251.3" r="3.8" fill="#1f1f1f"/>
</g>
<g id="peh">
<defs><linearGradient id="gb1" x1="0" x2="1"><stop offset="0" stop-color="#a9c9ea"/><stop offset="0.5" stop-color="#5b9bd5"/><stop offset="1" stop-color="#5b9bd5"/></linearGradient><linearGradient id="gb2" x1="1" x2="0"><stop offset="0" stop-color="#a9c9ea"/><stop offset="0.5" stop-color="#5b9bd5"/><stop offset="1" stop-color="#5b9bd5"/></linearGradient><linearGradient id="gb3" x1="0" x2="0" y1="0" y2="1"><stop offset="0" stop-color="#a9c9ea"/><stop offset="0.4" stop-color="#5b9bd5"/><stop offset="1" stop-color="#5b9bd5"/></linearGradient></defs><path d="M886.6 410 H910.2 V399.2 L932.2 421.8 L910.2 444.4 V433.4 H886.6 Z" fill="url(#gb1)"/><path d="M932 652.8 H910 V641.2 L887.5 664.6 L910 688.1 V674.8 H932 Z" fill="url(#gb2)"/><path d="M1107.4 506 L1129.8 529.3 H1116.6 V547.6 H1129.8 L1107.4 570.2 L1085 547.6 H1098.4 V529.3 H1085 Z" fill="url(#gb3)"/>
<path d="M837.7 482.2 L880 482.2 L880 336.9 L722.1 336.9 L722.1 354.5" fill="none" stroke="#b00c0c" stroke-width="2.3" stroke-linejoin="miter"/>
<path d="M809.3 329.4 L795.5 336.9 L809.3 344.6 Z M795 329.1 V344.9" fill="#fff" stroke="#b00c0c" stroke-width="1.8" stroke-linejoin="miter"/>
<rect x="591.8" y="353.2" width="82.2" height="30.8" fill="#70cb5e"/>
<rect x="682" y="353.9" width="81.7" height="20.1" fill="#fd9637"/>
<rect x="682" y="374" width="81.7" height="10" fill="#ebb7ea"/>
<rect x="591.8" y="403.3" width="263.9" height="12.5" fill="#ebb7ea" rx="1.5"/>
<rect x="592.5" y="415.8" width="82.2" height="20.1" fill="#f8e465" rx="1.2"/>
<rect x="592.5" y="415.8" width="82.2" height="3" fill="#f8e465"/>
<rect x="682" y="415.8" width="81.7" height="20.1" fill="#d9d9d9" rx="1.2"/>
<rect x="682" y="415.8" width="81.7" height="3" fill="#d9d9d9"/>
<rect x="773.7" y="415.8" width="82" height="20.1" fill="#f8e465" rx="1.2"/>
<rect x="773.7" y="415.8" width="82" height="3" fill="#f8e465"/>
<path d="M611.8 423.3H624.4M618.1 417V429.6" stroke="#c00000" stroke-width="2.7" fill="none"/>
<path d="M635.1 423.3H647.7M641.4 417V429.6" stroke="#c00000" stroke-width="2.7" fill="none"/>
<path d="M608.8 375.7H621.9" stroke="#404040" stroke-width="3.4" fill="none"/>
<path d="M632.1 375.7H645.2" stroke="#404040" stroke-width="3.4" fill="none"/>
<path d="M631.4 432.4 L631.4 483 L751.7 483" fill="none" stroke="#262626" stroke-width="1.7" stroke-linejoin="miter"/>
<path d="M631.4 447.1 L816.4 447.1 L816.4 432.4" fill="none" stroke="#262626" stroke-width="1.7" stroke-linejoin="miter"/>
<path d="M725.9 432.4 V440.6 A4.48 5.6 0 0 1 725.9 451.8 V468.7 H751.7" fill="none" stroke="#262626" stroke-width="1.7"/>
<circle cx="631.4" cy="432.4" r="3.4" fill="#262626"/>
<circle cx="725.9" cy="432.4" r="3.4" fill="#262626"/>
<circle cx="816.4" cy="432.4" r="3.4" fill="#262626"/>
<circle cx="631.4" cy="447.1" r="3.4" fill="#262626"/>
<rect x="663.5" y="478.4" width="28" height="10.6" fill="#fff" stroke="#262626" stroke-width="1.9"/>
<rect x="752.7" y="463.2" width="84" height="27.1" fill="#efefef"/><rect x="753" y="463.5" width="16.2" height="26.5" fill="#c9c9c9"/><rect x="820.2" y="463.5" width="16.2" height="26.5" fill="#c9c9c9"/><rect x="751.7" y="462.2" width="86" height="29.1" fill="none" stroke="#1da9e3" stroke-width="2"/><text x="795" y="481.35" font-family='"Liberation Serif", serif' font-size="15.3" fill="#111" font-weight="bold" text-anchor="middle" textLength="35.6" lengthAdjust="spacingAndGlyphs">VMC</text><text x="761.1" y="482.35" font-family='"Liberation Serif", serif' font-size="17" fill="#111" text-anchor="middle" textLength="7.2" lengthAdjust="spacingAndGlyphs">0</text><text x="828.3" y="482.35" font-family='"Liberation Serif", serif' font-size="17" fill="#c00000" text-anchor="middle" textLength="7.2" lengthAdjust="spacingAndGlyphs">0</text>
<text x="590.4" y="329.2" font-family='"Liberation Sans", sans-serif' font-size="30.5" fill="#000" font-weight="bold" textLength="17" lengthAdjust="spacingAndGlyphs">e</text>
<text x="690.3" y="326.4" font-family='"Liberation Sans", sans-serif' font-size="18.2" fill="#111" font-weight="bold" font-style="italic" textLength="97.7" lengthAdjust="spacingAndGlyphs">Initial state</text>
<text x="791" y="372.3" font-family='"Liberation Sans", sans-serif' font-size="18.2" fill="#111" font-weight="bold" font-style="italic" textLength="61.8" lengthAdjust="spacingAndGlyphs">Air gap</text>
<line x1="790.5" y1="383.2" x2="751.5" y2="391.8" stroke="#5b9bd5" stroke-width="1.6"/>
<path d="M744.9 393.3 L753.2 387.8 L755.2 395.6 Z" fill="#5b9bd5"/>
<path d="M1182.1 480.5 L1224.2 480.5 L1224.2 333.6 L1157.3 333.6 L1157.3 349.5" fill="none" stroke="#b00c0c" stroke-width="2.3" stroke-linejoin="miter"/>
<path d="M1202.4 325.6 L1188.4 333.6 L1202.4 341.8 Z M1187.9 325.3 V342.1" fill="#fff" stroke="#b00c0c" stroke-width="1.8" stroke-linejoin="miter"/>
<rect x="1027.1" y="349" width="81.7" height="31.1" fill="#70cb5e"/>
<rect x="1117.2" y="349" width="81.7" height="21" fill="#fd9637"/>
<rect x="1117.2" y="370" width="81.7" height="10.7" fill="#ebb7ea"/>
<rect x="935.8" y="399.9" width="264.6" height="12.4" fill="#ebb7ea" rx="1.5"/>
<rect x="935.8" y="412.3" width="82" height="20.2" fill="#f8e465" rx="1.2"/>
<rect x="935.8" y="412.3" width="82" height="3" fill="#f8e465"/>
<rect x="1027.1" y="412.3" width="81.7" height="20.2" fill="#d9d9d9" rx="1.2"/>
<rect x="1027.1" y="412.3" width="81.7" height="3" fill="#d9d9d9"/>
<rect x="1118.1" y="412.3" width="82.3" height="20.2" fill="#f8e465" rx="1.2"/>
<rect x="1118.1" y="412.3" width="82.3" height="3" fill="#f8e465"/>
<path d="M1151.9 361.2H1164.5M1158.2 354.9V367.5" stroke="#c00000" stroke-width="2.7" fill="none"/>
<path d="M1048.1 420.9H1060.7M1054.4 414.6V427.2" stroke="#c00000" stroke-width="2.7" fill="none"/>
<path d="M1076 420.9H1088.6M1082.3 414.6V427.2" stroke="#c00000" stroke-width="2.7" fill="none"/>
<path d="M1047.4 374.3H1059.9" stroke="#404040" stroke-width="3.4" fill="none"/>
<path d="M1073.9 374.3H1087" stroke="#404040" stroke-width="3.4" fill="none"/>
<path d="M1151.5 418.5H1164.6" stroke="#404040" stroke-width="3.4" fill="none"/>
<path d="M976.2 430.2 L976.2 481.9 L1095.4 481.9" fill="none" stroke="#262626" stroke-width="1.7" stroke-linejoin="miter"/>
<path d="M976.2 445 L1161.8 445 L1161.8 430.2" fill="none" stroke="#262626" stroke-width="1.7" stroke-linejoin="miter"/>
<path d="M1071 430.2 V438.5 A4.6 5.75 0 0 1 1071 450 V468 H1095.4" fill="none" stroke="#262626" stroke-width="1.7"/>
<circle cx="976.2" cy="430.2" r="3.4" fill="#262626"/>
<circle cx="1071" cy="430.2" r="3.4" fill="#262626"/>
<circle cx="1161.8" cy="430.2" r="3.4" fill="#262626"/>
<circle cx="976.2" cy="445" r="3.4" fill="#262626"/>
<rect x="1008.5" y="477.4" width="28.2" height="10.6" fill="#fff" stroke="#262626" stroke-width="1.9"/>
<rect x="1096.4" y="461.7" width="84.7" height="27.9" fill="#efefef"/><rect x="1096.7" y="462" width="16.2" height="27.3" fill="#c9c9c9"/><rect x="1164.6" y="462" width="16.2" height="27.3" fill="#c9c9c9"/><rect x="1095.4" y="460.7" width="86.7" height="29.9" fill="none" stroke="#1da9e3" stroke-width="2"/><text x="1139.05" y="480.25" font-family='"Liberation Serif", serif' font-size="15.3" fill="#111" font-weight="bold" text-anchor="middle" textLength="35.6" lengthAdjust="spacingAndGlyphs">VMC</text><text x="1097.9" y="481.75" font-family='"Liberation Serif", serif' font-size="17" fill="#111" textLength="9.8" lengthAdjust="spacingAndGlyphs">V</text><text x="1107.8" y="484.55" font-family='"Liberation Serif", serif' font-size="10" fill="#111" textLength="4.2" lengthAdjust="spacingAndGlyphs">0</text><text x="1165.8" y="481.75" font-family='"Liberation Serif", serif' font-size="17" fill="#c00000" textLength="9.8" lengthAdjust="spacingAndGlyphs">V</text><text x="1175.7" y="484.55" font-family='"Liberation Serif", serif' font-size="10" fill="#c00000" textLength="4.2" lengthAdjust="spacingAndGlyphs">0</text>
<text x="912.6" y="332.2" font-family='"Liberation Sans", sans-serif' font-size="30.5" fill="#000" font-weight="bold" textLength="10.5" lengthAdjust="spacingAndGlyphs">f</text>
<text x="1202.55" y="466.6" font-family='"Liberation Sans", sans-serif' font-size="12.8" fill="#c00000" text-anchor="middle">+e</text><line x1="1193.2" y1="473.2" x2="1209.5" y2="473.2" stroke="#c00000" stroke-width="1.3"/><path d="M1213.5 473.2 L1207 470.9 L1207 475.5 Z" fill="#c00000"/>
<text x="1020.6" y="463.9" font-family='"Liberation Sans", sans-serif' font-size="12.8" fill="#111" text-anchor="middle">+3e</text><line x1="1010.5" y1="470.3" x2="1028.3" y2="470.3" stroke="#111" stroke-width="1.3"/><path d="M1032.3 470.3 L1025.8 468 L1025.8 472.6 Z" fill="#111"/>
<text x="995.4" y="529.9" font-family='"Liberation Sans", sans-serif' font-size="18.2" fill="#111" font-weight="bold" font-style="italic" textLength="60.8" lengthAdjust="spacingAndGlyphs">Charge</text>
<text x="972.1" y="554.6" font-family='"Liberation Sans", sans-serif' font-size="18.2" fill="#111" font-weight="bold" font-style="italic" textLength="106.7" lengthAdjust="spacingAndGlyphs">self-increase</text>
<path d="M1185.5 727 L1228.6 727 L1228.6 582.5 L1070.7 582.5 L1070.7 599.5" fill="none" stroke="#b00c0c" stroke-width="2.3" stroke-linejoin="miter"/>
<path d="M1158.2 574.3 L1144.8 582.5 L1158.2 590.8 Z M1144.3 574 V591.1" fill="#fff" stroke="#b00c0c" stroke-width="1.8" stroke-linejoin="miter"/>
<rect x="939.8" y="598.2" width="82.3" height="30.8" fill="#70cb5e"/>
<rect x="1030.9" y="599" width="82" height="20.4" fill="#fd9637"/>
<rect x="1030.9" y="619.4" width="82" height="9.6" fill="#ebb7ea"/>
<rect x="939.8" y="648.5" width="264.1" height="12.4" fill="#ebb7ea" rx="1.5"/>
<rect x="939.8" y="660.9" width="82.3" height="20.1" fill="#f8e465" rx="1.2"/>
<rect x="939.8" y="660.9" width="82.3" height="3" fill="#f8e465"/>
<rect x="1031.4" y="660.9" width="81.5" height="20.1" fill="#d9d9d9" rx="1.2"/>
<rect x="1031.4" y="660.9" width="81.5" height="3" fill="#d9d9d9"/>
<rect x="1121.9" y="660.9" width="82" height="20.1" fill="#f8e465" rx="1.2"/>
<rect x="1121.9" y="660.9" width="82" height="3" fill="#f8e465"/>
<path d="M1042 610.1H1054.6M1048.3 603.8V616.4" stroke="#c00000" stroke-width="2.7" fill="none"/>
<path d="M1065.3 610.1H1077.9M1071.6 603.8V616.4" stroke="#c00000" stroke-width="2.7" fill="none"/>
<path d="M1086.2 610.1H1098.8M1092.5 603.8V616.4" stroke="#c00000" stroke-width="2.7" fill="none"/>
<path d="M964.9 668.8H977.5M971.2 662.5V675.1" stroke="#c00000" stroke-width="2.7" fill="none"/>
<path d="M991.1 668.8H1003.7M997.4 662.5V675.1" stroke="#c00000" stroke-width="2.7" fill="none"/>
<path d="M962.5 623.2H975.6" stroke="#404040" stroke-width="3.4" fill="none"/>
<path d="M989.3 623.2H1002.4" stroke="#404040" stroke-width="3.4" fill="none"/>
<path d="M1040.4 665.9H1053.2" stroke="#404040" stroke-width="3.4" fill="none"/>
<path d="M1066.6 665.9H1079.7" stroke="#404040" stroke-width="3.4" fill="none"/>
<path d="M1091 665.9H1103.5" stroke="#404040" stroke-width="3.4" fill="none"/>
<path d="M981.1 677 L981.1 728.4 L1099.5 728.4" fill="none" stroke="#262626" stroke-width="1.7" stroke-linejoin="miter"/>
<path d="M981.1 691.2 L1165.5 691.2 L1165.5 677" fill="none" stroke="#262626" stroke-width="1.7" stroke-linejoin="miter"/>
<path d="M1074.5 677 V685 A4.6 5.75 0 0 1 1074.5 696.5 V713.9 H1099.5" fill="none" stroke="#262626" stroke-width="1.7"/>
<circle cx="981.1" cy="677" r="3.4" fill="#262626"/>
<circle cx="1074.5" cy="677" r="3.4" fill="#262626"/>
<circle cx="1165.5" cy="677" r="3.4" fill="#262626"/>
<circle cx="981.1" cy="691.2" r="3.4" fill="#262626"/>
<rect x="1012" y="723.4" width="28.4" height="10.8" fill="#fff" stroke="#262626" stroke-width="1.9"/>
<rect x="1100.5" y="707.6" width="84" height="28" fill="#efefef"/><rect x="1100.8" y="707.9" width="16.2" height="27.4" fill="#c9c9c9"/><rect x="1168" y="707.9" width="16.2" height="27.4" fill="#c9c9c9"/><rect x="1099.5" y="706.6" width="86" height="30" fill="none" stroke="#1da9e3" stroke-width="2"/><text x="1142.8" y="726.2" font-family='"Liberation Serif", serif' font-size="15.3" fill="#111" font-weight="bold" text-anchor="middle" textLength="35.6" lengthAdjust="spacingAndGlyphs">VMC</text><text x="1102" y="727.7" font-family='"Liberation Serif", serif' font-size="17" fill="#111" textLength="9.8" lengthAdjust="spacingAndGlyphs">V</text><text x="1111.9" y="730.5" font-family='"Liberation Serif", serif' font-size="10" fill="#111" textLength="4.2" lengthAdjust="spacingAndGlyphs">0</text><text x="1163.8" y="727.7" font-family='"Liberation Serif", serif' font-size="16.5" fill="#c00000" textLength="15.6" lengthAdjust="spacingAndGlyphs">3V</text><text x="1179.5" y="730.5" font-family='"Liberation Serif", serif' font-size="10" fill="#c00000" textLength="4.2" lengthAdjust="spacingAndGlyphs">0</text>
<text x="912.4" y="570.6" font-family='"Liberation Sans", sans-serif' font-size="30.5" fill="#000" font-weight="bold" textLength="16.5" lengthAdjust="spacingAndGlyphs">g</text>
<text x="1204.5" y="715.2" font-family='"Liberation Sans", sans-serif' font-size="12.8" fill="#c00000" text-anchor="middle">+3e</text><line x1="1195.1" y1="719.7" x2="1211.5" y2="719.7" stroke="#c00000" stroke-width="1.3"/><path d="M1215.5 719.7 L1209 717.4 L1209 722 Z" fill="#c00000"/>
<text x="1025" y="712.4" font-family='"Liberation Sans", sans-serif' font-size="12.8" fill="#111" text-anchor="middle">+5e</text><line x1="1018.9" y1="717.7" x2="1036.7" y2="717.7" stroke="#111" stroke-width="1.3"/><path d="M1014.9 717.7 L1021.4 715.4 L1021.4 720 Z" fill="#111"/>
<path d="M841.7 726.1 L882 726.1 L882 581.4 L816.3 581.4 L816.3 597" fill="none" stroke="#b00c0c" stroke-width="2.3" stroke-linejoin="miter"/>
<path d="M861 573.2 L848 581.4 L861 589.6 Z M847.5 572.9 V589.9" fill="#fff" stroke="#b00c0c" stroke-width="1.8" stroke-linejoin="miter"/>
<rect x="685.9" y="596" width="82.1" height="30.9" fill="#70cb5e"/>
<rect x="775.8" y="596.5" width="82.4" height="20.7" fill="#fd9637"/>
<rect x="775.8" y="617.2" width="82.4" height="10.5" fill="#ebb7ea"/>
<rect x="596.2" y="647" width="263.7" height="11.8" fill="#ebb7ea" rx="1.5"/>
<rect x="594.9" y="658.8" width="83" height="19.9" fill="#f8e465" rx="1.2"/>
<rect x="594.9" y="658.8" width="83" height="3" fill="#f8e465"/>
<rect x="685.9" y="658.8" width="82.1" height="19.9" fill="#d9d9d9" rx="1.2"/>
<rect x="685.9" y="658.8" width="82.1" height="3" fill="#d9d9d9"/>
<rect x="777.7" y="658.8" width="82.2" height="19.9" fill="#f8e465" rx="1.2"/>
<rect x="777.7" y="658.8" width="82.2" height="3" fill="#f8e465"/>
<path d="M778.8 608.4H791.4M785.1 602.1V614.7" stroke="#c00000" stroke-width="2.7" fill="none"/>
<path d="M794.8 608.4H807.4M801.1 602.1V614.7" stroke="#c00000" stroke-width="2.7" fill="none"/>
<path d="M810.6 608.4H823.2M816.9 602.1V614.7" stroke="#c00000" stroke-width="2.7" fill="none"/>
<path d="M825.7 608.4H838.3M832 602.1V614.7" stroke="#c00000" stroke-width="2.7" fill="none"/>
<path d="M841.7 608.4H854.3M848 602.1V614.7" stroke="#c00000" stroke-width="2.7" fill="none"/>
<path d="M708 667.7H720.6M714.3 661.4V674" stroke="#c00000" stroke-width="2.7" fill="none"/>
<path d="M737.5 667.7H750.1M743.8 661.4V674" stroke="#c00000" stroke-width="2.7" fill="none"/>
<path d="M707.9 621.6H721.2" stroke="#404040" stroke-width="3.4" fill="none"/>
<path d="M735 621.6H748.2" stroke="#404040" stroke-width="3.4" fill="none"/>
<path d="M781.3 664.9H794.8" stroke="#404040" stroke-width="3.4" fill="none"/>
<path d="M797.6 664.9H810.8" stroke="#404040" stroke-width="3.4" fill="none"/>
<path d="M813.6 664.9H826.5" stroke="#404040" stroke-width="3.4" fill="none"/>
<path d="M829.3 664.9H842" stroke="#404040" stroke-width="3.4" fill="none"/>
<path d="M845.3 664.9H857.7" stroke="#404040" stroke-width="3.4" fill="none"/>
<path d="M635.4 675.4 L635.4 727.5 L755.1 727.5" fill="none" stroke="#262626" stroke-width="1.7" stroke-linejoin="miter"/>
<path d="M635.4 690.3 L821 690.3 L821 675.4" fill="none" stroke="#262626" stroke-width="1.7" stroke-linejoin="miter"/>
<path d="M730.3 675.4 V683.6 A4.88 6.1 0 0 1 730.3 695.8 V712.6 H755.1" fill="none" stroke="#262626" stroke-width="1.7"/>
<circle cx="635.4" cy="675.4" r="3.4" fill="#262626"/>
<circle cx="730.3" cy="675.4" r="3.4" fill="#262626"/>
<circle cx="821" cy="675.4" r="3.4" fill="#262626"/>
<circle cx="635.4" cy="690.3" r="3.4" fill="#262626"/>
<rect x="667.4" y="722.4" width="28.9" height="10.4" fill="#fff" stroke="#262626" stroke-width="1.9"/>
<rect x="756.1" y="706.5" width="84.6" height="27.7" fill="#efefef"/><rect x="756.4" y="706.8" width="16.2" height="27.1" fill="#c9c9c9"/><rect x="824.2" y="706.8" width="16.2" height="27.1" fill="#c9c9c9"/><rect x="755.1" y="705.5" width="86.6" height="29.7" fill="none" stroke="#1da9e3" stroke-width="2"/><text x="798.7" y="724.95" font-family='"Liberation Serif", serif' font-size="15.3" fill="#111" font-weight="bold" text-anchor="middle" textLength="35.6" lengthAdjust="spacingAndGlyphs">VMC</text><text x="757.6" y="726.45" font-family='"Liberation Serif", serif' font-size="17" fill="#111" textLength="9.8" lengthAdjust="spacingAndGlyphs">V</text><text x="767.5" y="729.25" font-family='"Liberation Serif", serif' font-size="10" fill="#111" textLength="4.2" lengthAdjust="spacingAndGlyphs">0</text><text x="820" y="726.45" font-family='"Liberation Serif", serif' font-size="16.5" fill="#c00000" textLength="15.6" lengthAdjust="spacingAndGlyphs">5V</text><text x="835.7" y="729.25" font-family='"Liberation Serif", serif' font-size="10" fill="#c00000" textLength="4.2" lengthAdjust="spacingAndGlyphs">0</text>
<text x="592.5" y="574.5" font-family='"Liberation Sans", sans-serif' font-size="30.5" fill="#000" font-weight="bold" textLength="17.5" lengthAdjust="spacingAndGlyphs">h</text>
<text x="682" y="568.2" font-family='"Liberation Sans", sans-serif' font-size="18.2" fill="#111" font-weight="bold" font-style="italic" textLength="101.8" lengthAdjust="spacingAndGlyphs">Stable state</text>
<text x="861.45" y="713.6" font-family='"Liberation Sans", sans-serif' font-size="12.8" fill="#c00000" text-anchor="middle">+5e</text><line x1="852.2" y1="718.4" x2="868.3" y2="718.4" stroke="#c00000" stroke-width="1.3"/><path d="M872.3 718.4 L865.8 716.1 L865.8 720.7 Z" fill="#c00000"/>
<text x="679.65" y="711" font-family='"Liberation Sans", sans-serif' font-size="12.8" fill="#111" text-anchor="middle">+7e</text><line x1="670.1" y1="715.4" x2="686.8" y2="715.4" stroke="#111" stroke-width="1.3"/><path d="M690.8 715.4 L684.3 713.1 L684.3 717.7 Z" fill="#111"/>
</g>
<g id="pi">
<line x1="74.2" y1="963.2" x2="108.8" y2="963.2" stroke="#4b4b4b" stroke-width="1.2"/>
<rect x="108.6" y="943.6" width="208" height="29.4" fill="#4b4b4b"/>
<path d="M110.2 973.2V953.17M110.2 943.3V946.48M112.1 973.2V957.99M114 973.2V967.26M115.9 973.2V971.68M117.8 973.2V971.44M119.7 973.2V965.2M121.6 973.2V956.32M121.6 943.3V946.69M123.5 973.2V955.06M123.5 943.3V945.08M125.4 973.2V964.43M127.3 973.2V972.2M129.2 973.2V970.77M131.1 973.2V967M133 973.2V961.05M134.9 973.2V951.17M134.9 943.3V947.69M136.8 973.2V960.05M138.7 973.2V968.06M140.6 973.2V972.2M142.5 973.2V972.2M144.4 973.2V962.92M146.3 973.2V956.43M146.3 943.3V945.37M148.2 973.2V957.96M150.1 973.2V966.49M152 973.2V971.81M153.9 973.2V971.88M155.8 973.2V965.3M157.7 973.2V958.38M159.6 973.2V953.44M159.6 943.3V946.3M161.5 973.2V961.27M163.4 973.2V969.78M165.3 973.2V972.2M167.2 973.2V968.16M169.1 973.2V960.27M171 973.2V952.84M171 943.3V946.92M172.9 973.2V958.99M174.8 973.2V967.14M176.7 973.2V972.2M178.6 973.2V972.2M180.5 973.2V964.28M182.4 973.2V957.49M184.3 973.2V954.07M184.3 943.3V945.96M186.2 973.2V961.63M188.1 973.2V969.86M190 973.2V972.2M191.9 973.2V969.28M193.8 973.2V959.28M195.7 973.2V952.71M195.7 943.3V947.74M197.6 973.2V959.99M199.5 973.2V968.86M201.4 973.2V971.31M203.3 973.2V970.86M205.2 973.2V964.53M207.1 973.2V957.18M207.1 943.3V945.8M209 973.2V954.96M209 943.3V947.07M210.9 973.2V965.4M212.8 973.2V972.2M214.7 973.2V972.2M216.6 973.2V968.48M218.5 973.2V958.37M220.4 973.2V954M220.4 943.3V946.48M222.3 973.2V961.08M224.2 973.2V969.75M226.1 973.2V971M228 973.2V971.59M229.9 973.2V962.16M231.8 973.2V955.84M231.8 943.3V946.06M233.7 973.2V958.46M235.6 973.2V966.19M237.5 973.2V970.29M239.4 973.2V970.79M241.3 973.2V966.5M243.2 973.2V956.86M245.1 973.2V955.15M245.1 943.3V945.98M247 973.2V961.11M248.9 973.2V969.64M250.8 973.2V972.2M252.7 973.2V967.77M254.6 973.2V962.2M256.5 973.2V954.17M256.5 943.3V947.12M258.4 973.2V959.36M260.3 973.2V967.36M262.2 973.2V972.2M264.1 973.2V972.2M266 973.2V964.42M267.9 973.2V957.54M267.9 943.3V946.6M269.8 973.2V955.91M269.8 943.3V946.16M271.7 973.2V962.04M273.6 973.2V971.37M275.5 973.2V971.48M277.4 973.2V966.89M279.3 973.2V961.05M281.2 973.2V953.24M281.2 943.3V947.53M283.1 973.2V959.14M285 973.2V968.74M286.9 973.2V972.2M288.8 973.2V970.6M290.7 973.2V962.1M292.6 973.2V956.43M292.6 943.3V947.65M294.5 973.2V955.62M294.5 943.3V946.61M296.4 973.2V964.9M298.3 973.2V972.2M300.2 973.2V972.2M302.1 973.2V965.36M304 973.2V959.63M305.9 973.2V952.83M305.9 943.3V945.57M307.8 973.2V960.37M309.7 973.2V968.95M311.6 973.2V972.2M313.5 973.2V971.04M315.4 973.2V961.51" stroke="#fff" stroke-width="0.75" fill="none" opacity="1"/>
<path d="M316 943.57 L317 944.33 L318 945.26 L319 946.15 L320 946.51 L321 946.78 L322 948.62 L323 949.1 L324 950.12 L325 951.57 L326 952.95 L327 953.76 L328 955.08 L329 956.47 L330 957.87 L331 958.63 L332 960.06 L333 961.79 L334 961.8 L335 961.4 L336 961.35 L337 961.16 L338 960.64 L339 960.46 L340 960.36 L341 961.17 L342 960.88 L343 961.06 L344 960.04 L345 960.58 L346 960.34 L347 960.51 L348 960.02 L349 960.62 L350 959.62 L351 960.01 L352 960.12 L353 960.2 L354 959.96 L355 959.84 L356 959.85 L357 959.9 L358 959.25 L359 959.51 L360 959.64 L361 959.53 L362 959 L363 959.29 L364 959.28 L365 958.91 L366 958.88 L367 958.56 L368 958.68 L369 958.63 L370 958.02 L371 958.5 L372 958.77 L373 958.58 L374 958.35 L375 957.93 L376 958.2 L377 957.96 L378 957.74 L379 958.14 L380 957.38 L381 958.05 L382 957.33 L383 957.9 L384 957.78 L385 957.53 L386 958 L387 957.8 L388 957.91 L389 958.22 L390 957.56 L391 957.31 L392 957.6 L393 957.98 L394 957.5 L395 957.47 L396 958.21 L397 957.96 L398 957.74 L399 958.19 L400 957.63 L401 957.97 L402 957.5 L403 957.73 L404 958.11 L405 958.21 L406 958.18 L407 957.68 L408 957.88 L409 957.62 L410 957.44 L411 957.8 L412 958.14 L413 958.15 L414 958.01 L415 958.25 L416 957.58 L417 957.47 L418 957.75 L419 957.58 L420 957.51 L421 957.71 L422 957.93 L423 957.79 L424 957.62 L425 958.14 L426 958.28 L427 957.75 L428 957.37 L429 957.33 L430 958.17 L431 957.34 L432 958.01 L433 957.87 L434 957.61 L435 958.09 L436 957.32 L437 957.44 L438 957.75 L439 957.32 L440 958.13 L441 957.54 L442 957.44 L443 957.35 L444 957.93 L445 957.75 L446 957.93 L447 957.96 L448 958.11 L449 958.26 L450 957.98 L451 957.5 L452 957.78 L453 957.48 L454 957.31 L455 957.77 L456 958.01 L457 957.48 L458 957.57 L459 957.65 L460 958 L461 957.82 L462 957.91 L463 958.06 L464 957.69 L465 958.09 L466 958.21 L467 957.39 L468 958.23 L469 958.02 L470 957.43 L471 957.75 L472 957.93 L473 958.21 L474 957.68 L475 957.87 L476 958.18 L477 958.1 L478 958.24 L479 957.76 L480 957.95 L481 957.5 L482 958.02 L483 958.12 L484 957.94 L485 958.02 L486 957.51 L487 958.2 L488 958.28 L489 958.28 L490 957.84 L491 958.09 L492 957.62 L493 958.21 L494 958.16 L495 957.65 L496 957.38 L497 957.74 L498 957.85 L499 958.07 L500 957.79 L501 957.33 L502 958.11 L503 957.36 L504 958.1 L505 957.47 L506 957.64 L507 958.09 L508 957.44 L509 957.45 L510 957.82 L511 958.02 L512 958.14 L513 957.99 L514 958.25 L515 957.79 L516 958.25 L517 957.39 L518 957.52 L519 957.83 L520 957.59 L521 958.03 L522 957.94 L522.2 973.2 L316 973.2 Z" fill="#4b4b4b" stroke="none" stroke-width="0"/>
<path d="M318 973.4V972.36M319.7 973.4V968.55M321.4 973.4V969M323.1 973.4V972.6M324.8 973.4V969.29M326.5 973.4V968.55M328.2 973.4V971.76M329.9 973.4V969.57M331.6 973.4V968.54M333.3 973.4V971.65M333.3 960.58V961.08M335 973.4V969.06M335 960.44V962.86M336.7 973.4V968.98M336.7 960.3V962.72M338.4 973.4V972.6M338.4 960.17V960.67M340.1 973.4V969.04M340.1 960.03V962.45M341.8 973.4V969.09M341.8 959.9V962.32M343.5 973.4V972.23M343.5 959.76V960.26M345.2 973.4V969.86M345.2 959.62V962.04M346.9 973.4V968.35M346.9 959.49V961.91M348.6 973.4V972.37M348.6 959.35V959.85M350.3 973.4V969.26M350.3 959.22V961.64M352 973.4V968.62M352 959.08V961.5M353.7 973.4V972.3M353.7 958.94V959.44M355.4 973.4V969.11M355.4 958.81V961.23M357.1 973.4V968.79M357.1 958.67V961.09M358.8 973.4V972.6M358.8 958.54V959.04M360.5 973.4V969.04M360.5 958.4V960.82M362.2 973.4V969.24M362.2 958.26V960.68M363.9 973.4V971.67M363.9 958.13V958.63M365.6 973.4V968.42M365.6 957.99V960.41M367.3 973.4V969.47M367.3 957.86V960.28M369 973.4V972.44M369 957.72V958.22M370.7 973.4V969.7M370.7 957.58V960M372.4 973.4V969.21M372.4 957.45V959.87M374.1 973.4V971.89M374.1 957.31V957.81M375.8 973.4V968.46M375.8 957.18V959.6M377.5 973.4V969.14M377.5 957.04V959.46M379.2 973.4V972.6M379.2 957V957.5M380.9 973.4V969.59M380.9 957V959.42M382.6 973.4V968.91M382.6 957V959.42M384.3 973.4V971.72M384.3 957V957.5M386 973.4V969.69M386 957V959.42M387.7 973.4V968.65M387.7 957V959.42M389.4 973.4V972.6M389.4 957V957.5M391.1 973.4V969.59M391.1 957V959.42M392.8 973.4V969.54M392.8 957V959.42M394.5 973.4V972.1M394.5 957V957.5M396.2 973.4V969.38M396.2 957V959.42M397.9 973.4V969.33M397.9 957V959.42M399.6 973.4V972.21M399.6 957V957.5M401.3 973.4V969.73M401.3 957V959.42M403 973.4V968.73M403 957V959.42M404.7 973.4V972.6M404.7 957V957.5M406.4 973.4V969.08M406.4 957V959.42M408.1 973.4V969.5M408.1 957V959.42M409.8 973.4V972.6M409.8 957V957.5M411.5 973.4V969.05M411.5 957V959.42M413.2 973.4V969.2M413.2 957V959.42M414.9 973.4V972.6M414.9 957V957.5M416.6 973.4V969.24M416.6 957V959.42M418.3 973.4V969.05M418.3 957V959.42M420 973.4V972.6M420 957V957.5M421.7 973.4V969.57M421.7 957V959.42M423.4 973.4V968.89M423.4 957V959.42M425.1 973.4V972.18M425.1 957V957.5M426.8 973.4V969.05M426.8 957V959.42M428.5 973.4V968.54M428.5 957V959.42M430.2 973.4V972.22M430.2 957V957.5M431.9 973.4V968.53M431.9 957V959.42M433.6 973.4V969.53M433.6 957V959.42M435.3 973.4V972.01M435.3 957V957.5M437 973.4V968.6M437 957V959.42M438.7 973.4V968.46M438.7 957V959.42M440.4 973.4V972.6M440.4 957V957.5M442.1 973.4V969.4M442.1 957V959.42M443.8 973.4V968.42M443.8 957V959.42M445.5 973.4V972.6M445.5 957V957.5M447.2 973.4V968.3M447.2 957V959.42M448.9 973.4V968.48M448.9 957V959.42M450.6 973.4V972.6M450.6 957V957.5M452.3 973.4V969.52M452.3 957V959.42M454 973.4V968.74M454 957V959.42M455.7 973.4V972.6M455.7 957V957.5M457.4 973.4V969.74M457.4 957V959.42M459.1 973.4V968.57M459.1 957V959.42M460.8 973.4V972.53M460.8 957V957.5M462.5 973.4V968.64M462.5 957V959.42M464.2 973.4V969.7M464.2 957V959.42M465.9 973.4V972.56M465.9 957V957.5M467.6 973.4V968.8M467.6 957V959.42M469.3 973.4V969.87M469.3 957V959.42M471 973.4V972.6M471 957V957.5M472.7 973.4V968.81M472.7 957V959.42M474.4 973.4V968.44M474.4 957V959.42M476.1 973.4V971.65M476.1 957V957.5M477.8 973.4V969.72M477.8 957V959.42M479.5 973.4V969.09M479.5 957V959.42M481.2 973.4V971.99M481.2 957V957.5M482.9 973.4V969.1M482.9 957V959.42M484.6 973.4V968.8M484.6 957V959.42M486.3 973.4V972.6M486.3 957V957.5M488 973.4V969.79M488 957V959.42M489.7 973.4V969.73M489.7 957V959.42M491.4 973.4V972.6M491.4 957V957.5M493.1 973.4V969.02M493.1 957V959.42M494.8 973.4V969.08M494.8 957V959.42M496.5 973.4V972.29M496.5 957V957.5M498.2 973.4V969.67M498.2 957V959.42M499.9 973.4V969.6M499.9 957V959.42M501.6 973.4V972.6M501.6 957V957.5M503.3 973.4V968.56M503.3 957V959.42M505 973.4V968.32M505 957V959.42M506.7 973.4V971.72M506.7 957V957.5M508.4 973.4V969.75M508.4 957V959.42M510.1 973.4V969.8M510.1 957V959.42M511.8 973.4V971.68M511.8 957V957.5M513.5 973.4V969.16M513.5 957V959.42M515.2 973.4V968.68M515.2 957V959.42M516.9 973.4V972.6M516.9 957V957.5M518.6 973.4V969.15M518.6 957V959.42M520.3 973.4V969.08M520.3 957V959.42" stroke="#fff" stroke-width="0.7" fill="none" opacity="1"/>
<path d="M521.5 958.82 L522.4 958.1 L523.3 958.89 L524.2 958.21 L525.1 957.93 L526 957.43 L526.9 957.03 L527.8 957.78 L528.7 957.65 L529.6 956.87 L530.5 956.78 L531.4 956.94 L532.3 956.86 L533.2 956.49 L534.1 955.8 L535 956.19 L535.9 955.84 L536.8 955.16 L537.7 954.52 L538.6 954.82 L539.5 954.46 L540.4 954.6 L541.3 954.8 L542.2 953.56 L543.1 953.29 L544 952.47 L544.9 952.24 L545.8 951.83 L546.7 950.24 L547.6 950.65 L548.5 949.61 L549.4 948.74 L550.3 948.03 L551.2 948.61 L552.1 947.46 L553 946.97 L553.9 946.5 L554.8 944.69 L555.7 944.69 L556.6 943.93 L557.5 942.2 L558.4 941.21 L559.3 939.48 L560.2 939.03 L561.1 938.29 L562 936.75 L562.9 936.18 L563.8 935.42 L564.7 932.94 L565.6 931.22 L566.5 930.75 L567.4 929.27 L568.3 925.93 L569.2 925.89 L570.1 924.09 L571 921.49 L571.9 919.27 L572.8 918.95 L573.7 915.93 L574.6 914.65 L575.5 911.07 L576.4 909.78 L577.3 906.81 L578.2 904.92 L579.1 904.16 L580 901.14 L580.9 899.18 L581.8 897.13 L582.7 895.89 L583.6 891.7 L584.5 891.11 L585.4 888.07 L586.3 884.76 L587.2 882.41 L588.1 879.8 L589 877.32 L589.9 871.31 L590.8 869.32 L591.7 866.43 L592.6 863.29 L593.5 858.7 L594.4 855.01 L595.3 850.47 L596.2 849.23 L597.1 845.54 L598 842.37 L598.9 839.23 L599.8 838.53 L600.7 834.02 L601.6 832.61 L602.5 833.62 L603.4 829.88 L604.3 828.55 L605.2 829.65 L606.1 826.95 L607 824.63 L607.9 826.56 L608.8 823.92 L609.7 822.94 L610.6 824.84 L611.5 822.17 L612.4 821.78 L613.3 822.99 L614.2 821.54 L615.1 822.39 L616 820.5 L616.9 820.46 L617.8 819.54 L618.7 817.1 L619.6 816.62 L620.5 818.94 L621.4 816.23 L622.3 818.06 L623.2 818.45 L624.1 816.13 L625 817.26 L625.9 815.69 L626.8 815.9 L627.7 814.56 L628.6 814.76 L629.5 811.4 L630.4 811.89 L631.3 811.6 L632.2 809.49 L633.1 811.57 L634 808.48 L634.9 811.7 L635.8 808 L636.7 809.83 L637.6 806.98 L638.5 808.98 L639.4 808.73 L640.3 808.53 L641.2 806.52 L642.1 804.73 L643 806.97 L643.9 805.4 L644.8 805.71 L645.7 804.14 L646.6 804.86 L647.5 803.3 L648.4 803.84 L649.3 802.43 L650.2 804.33 L651.1 804.35 L652 801.5 L652.9 802.12 L653.8 802.27 L654.7 802.85 L655.6 799.46 L656.5 801.14 L657.4 802.1 L658.3 798.46 L659.2 800.96 L660.1 797.97 L661 801.61 L661.9 797.27 L662.8 798.11 L663.7 796.97 L664.6 797.69 L665.5 798.29 L666.4 797.97 L667.3 797.47 L668.2 797.65 L669.1 799.24 L670 796.32 L670.9 798.75 L671.8 797.39 L672.7 795.88 L673.6 795.88 L674.5 799.24 L675.4 797.89 L676.3 796.6 L677.2 794.82 L678.1 798.93 L679 797.2 L679.9 796.14 L680.8 796.4 L681.7 798.48 L682.6 798.33 L683.5 796.62 L684.4 798.31 L685.3 798.43 L686.2 799.55 L687.1 795.86 L688 798.67 L688.9 797.3 L689.8 800.11 L690.7 798.32 L691.6 797.2 L692.5 799.74 L693.4 799.88 L694.3 797.42 L695.2 797.29 L696.1 796.72 L697 800.82 L697.9 799.75 L698.8 799.51 L699.7 799.07 L700.6 799.62 L701.5 798.38 L702.4 800.15 L703.3 798.07 L704.2 799.61 L705.1 800.68 L706 799.89 L706.9 801.62 L707.8 800.46 L708.7 800.38 L709.6 799.59 L710.5 802.25 L711.4 801.7 L712.3 798.81 L713.2 800.82 L714.1 801.77 L715 800.17 L715.9 799.23 L716.8 801.96 L717.7 802.68 L718.6 801.74 L719.5 802.84 L720.4 803.64 L721.3 800.88 L722.2 803.61 L723.1 801.34 L724 803.84 L724.9 804.1 L725.8 801.05 L726.7 804.25 L727.6 802.03 L728.5 804.5 L729.4 803.57 L730.3 801.17 L731.2 802.49 L732.1 804.42 L733 805.57 L733.9 802.58 L734.8 802.63 L735.7 804.85 L736.6 805 L737.5 803.26 L738.4 805.35 L739.3 802.97 L740.2 805.06 L741.1 804.15 L742 803.44 L742.9 804.3 L743.8 804.2 L744.7 803.69 L745.6 805.4 L746.5 804.66 L747.4 805.61 L748.3 806.47 L749.2 807.37 L750.1 805.25 L751 807.04 L751.9 807.65 L752.8 805.16 L753.7 806.56 L754.6 807.03 L755.5 804.56 L756.4 805.56 L757.3 807.04 L758.2 805.91 L759.1 804.33 L760 803.35 L760.9 805.36 L761.8 803.32 L762.7 803.93 L763.6 806.34 L764.5 804.37 L765.4 806.93 L766.3 806.37 L767.2 805.38 L768.1 807.66 L769 805.41 L769.9 804.61 L770.8 808.05 L771.7 807.61 L772.6 809.64 L773.5 810.22 L774.4 809.12 L775.3 809.57 L776.2 810.47 L777.1 810.33 L778 807.62 L778.9 809.15 L779.8 807.73 L780.7 808.8 L781.6 810.68 L782.5 807.26 L783.4 808.2 L784.3 808.2 L785.2 810.25 L786.1 807.83 L787 810.57 L787.9 807.35 L788.8 807.68 L789.7 810.76 L790.6 809.15 L791.5 810.09 L792.4 809.39 L793.3 810.69 L794.2 810.56 L795.1 808.92 L796 809.44 L796.9 809.07 L797.8 808.02 L798.7 810.38 L799.6 809.26 L800.5 808.95 L801.4 812.17 L802.3 810.71 L803.2 809.62 L804.1 809.3 L805 808.52 L805.9 808.52 L806.8 808.16 L807.7 808.38 L808.6 810.11 L809.5 809.24 L810.4 807.85 L811.3 809.63 L812.2 807.64 L813.1 809.99 L814 808.28 L814.9 811.63 L815.8 811.54 L816.7 810.09 L817.6 808.53 L818.5 808.96 L819.4 809.48 L820.3 811.51 L821.2 808.18 L822.1 807.14 L823 808.16 L823.9 809.48 L824.8 810.69 L825.7 808.53 L826.6 810.23 L827.5 811.39 L828.4 809.96 L829.3 808.92 L830.2 809.72 L831.1 808.87 L832 808.07 L832.9 808.03 L833.8 809.64 L834.7 808.44 L835.6 808.04 L836.5 811.38 L837.4 809.05 L838.3 809.48 L839.2 811.73 L840.1 811.27 L841 811.76 L841.9 811.25 L842.8 808.44 L843.7 812.71 L844.6 810.36 L845.5 812.69 L846.4 809.18 L847.3 811.95 L848.2 810.26 L849.1 811 L850 812.46 L850.9 810.72 L851.8 813.3 L852.7 811.39 L853.6 809.77 L854.5 810.1 L855.4 810.42 L856.3 809.63 L857.2 810 L858.1 810.14 L859 812.91 L859.9 809.8 L860.8 809.89 L861.7 810.82 L862.6 809.25 L863.5 811.73 L864.4 812.79 L865.3 812.66 L866.2 809.12 L867.1 809.33 L868 810.36 L868.9 813.21 L869.8 812.55 L870.7 810.75 L871.6 812.37 L872.5 813.17 L873.4 810.1 L874.3 810 L875.2 811.88 L876.1 811.75 L877 812.82 L877.9 810.21 L878.8 811.89 L879.7 809.3 L880.6 809.95 L881.5 810.08 L882.4 812.39 L883.3 809.5 L884.2 812.33 L885.1 808.84 L886 808.55 L886.9 811.83 L887.8 809.13 L888.7 810.24 L889.6 808.27 L890.5 811 L891.4 809.62 L892.3 810.05 L893.2 808.75 L894.1 809.44 L895 806.83 L895.9 809.2 L896.8 807.15 L897.7 809.62 L898.6 810.62 L899.5 806.71 L900.4 807.08 L901.3 810.08 L902.2 808.11 L903.1 809.6 L904 809.23 L904.9 809.4 L905.8 808.33 L906.7 808.87 L907.6 808.84 L908.5 807.65 L909.4 805.81 L910.3 805.21 L911.2 808.63 L912.1 806.58 L913 808.75 L913.9 805.6 L914.8 807.8 L915.7 806.41 L916.6 805.89 L917.5 807.15 L918.4 805.06 L919.3 805.07 L919.3 974.46 L918.4 975.27 L917.5 975.27 L916.6 975.18 L915.7 974.32 L914.8 974.58 L913.9 975.18 L913 974.4 L912.1 975.49 L911.2 974.46 L910.3 974.78 L909.4 974.81 L908.5 975.57 L907.6 975.5 L906.7 974.99 L905.8 974.4 L904.9 974.57 L904 974.94 L903.1 975.3 L902.2 975.69 L901.3 975.46 L900.4 975.48 L899.5 975.69 L898.6 974.86 L897.7 974.74 L896.8 974.96 L895.9 975.13 L895 975.18 L894.1 975.1 L893.2 974.84 L892.3 974.93 L891.4 974.46 L890.5 975.18 L889.6 975.16 L888.7 974.83 L887.8 975.69 L886.9 974.75 L886 974.68 L885.1 974.87 L884.2 974.9 L883.3 975.36 L882.4 974.59 L881.5 974.75 L880.6 977.16 L879.7 974.45 L878.8 975.06 L877.9 975.33 L877 974.74 L876.1 974.79 L875.2 975.42 L874.3 974.84 L873.4 978 L872.5 974.86 L871.6 975.67 L870.7 975.41 L869.8 975.4 L868.9 974.31 L868 976.54 L867.1 974.8 L866.2 974.53 L865.3 975.31 L864.4 975.68 L863.5 974.68 L862.6 975.06 L861.7 975.42 L860.8 975.5 L859.9 974.97 L859 974.73 L858.1 974.37 L857.2 974.97 L856.3 975.17 L855.4 974.32 L854.5 974.98 L853.6 974.44 L852.7 975.41 L851.8 974.84 L850.9 975.16 L850 975.46 L849.1 974.82 L848.2 974.33 L847.3 975.68 L846.4 974.36 L845.5 978.46 L844.6 975.18 L843.7 974.49 L842.8 975.12 L841.9 974.62 L841 974.48 L840.1 975.17 L839.2 975.09 L838.3 975.36 L837.4 975.3 L836.5 974.85 L835.6 974.66 L834.7 975.51 L833.8 975.38 L832.9 975.29 L832 974.39 L831.1 974.55 L830.2 974.63 L829.3 974.7 L828.4 974.99 L827.5 975.45 L826.6 975.27 L825.7 975.54 L824.8 975.66 L823.9 975.17 L823 974.99 L822.1 975.06 L821.2 975.25 L820.3 974.51 L819.4 974.73 L818.5 976.91 L817.6 975.46 L816.7 974.88 L815.8 975.38 L814.9 974.81 L814 974.96 L813.1 974.67 L812.2 974.79 L811.3 974.76 L810.4 974.99 L809.5 974.39 L808.6 977.26 L807.7 975.12 L806.8 974.78 L805.9 975.23 L805 974.86 L804.1 975 L803.2 974.38 L802.3 974.43 L801.4 975.52 L800.5 975.26 L799.6 975.24 L798.7 975.43 L797.8 974.33 L796.9 974.78 L796 975.51 L795.1 975.3 L794.2 974.51 L793.3 974.66 L792.4 975.06 L791.5 974.34 L790.6 976.01 L789.7 975.03 L788.8 975.54 L787.9 974.75 L787 975.31 L786.1 975.61 L785.2 974.68 L784.3 974.85 L783.4 974.33 L782.5 975.27 L781.6 974.59 L780.7 975.69 L779.8 974.95 L778.9 974.53 L778 974.79 L777.1 974.83 L776.2 974.95 L775.3 975.51 L774.4 974.38 L773.5 977.16 L772.6 974.81 L771.7 974.64 L770.8 974.62 L769.9 975.69 L769 974.89 L768.1 974.5 L767.2 976.94 L766.3 975.68 L765.4 974.36 L764.5 974.81 L763.6 975.4 L762.7 974.52 L761.8 975.45 L760.9 974.67 L760 974.74 L759.1 974.5 L758.2 975.06 L757.3 974.4 L756.4 974.92 L755.5 976.75 L754.6 975.1 L753.7 977.49 L752.8 974.98 L751.9 975.4 L751 974.63 L750.1 975.39 L749.2 975.03 L748.3 975.01 L747.4 975.22 L746.5 975.08 L745.6 975.6 L744.7 974.95 L743.8 975.56 L742.9 974.69 L742 974.7 L741.1 974.65 L740.2 977.54 L739.3 975.68 L738.4 974.69 L737.5 974.72 L736.6 975.54 L735.7 975.41 L734.8 974.55 L733.9 974.73 L733 974.92 L732.1 974.49 L731.2 975.56 L730.3 974.45 L729.4 974.57 L728.5 975.69 L727.6 974.96 L726.7 974.57 L725.8 974.71 L724.9 975.67 L724 974.73 L723.1 976.2 L722.2 975.44 L721.3 974.75 L720.4 974.3 L719.5 974.47 L718.6 975.56 L717.7 974.61 L716.8 975.51 L715.9 975.58 L715 974.85 L714.1 975.04 L713.2 974.86 L712.3 974.47 L711.4 974.73 L710.5 975.32 L709.6 974.38 L708.7 974.91 L707.8 975.57 L706.9 974.87 L706 975.69 L705.1 975.36 L704.2 974.88 L703.3 975.64 L702.4 974.35 L701.5 975.1 L700.6 974.54 L699.7 974.5 L698.8 976.92 L697.9 975.33 L697 975.22 L696.1 974.55 L695.2 975.07 L694.3 975.1 L693.4 974.7 L692.5 975.14 L691.6 975.57 L690.7 975.09 L689.8 974.49 L688.9 974.95 L688 974.76 L687.1 974.64 L686.2 975.18 L685.3 975.47 L684.4 975.68 L683.5 975 L682.6 975.56 L681.7 975.16 L680.8 975.01 L679.9 975.21 L679 974.33 L678.1 975.41 L677.2 974.86 L676.3 974.76 L675.4 975.37 L674.5 974.9 L673.6 974.87 L672.7 974.62 L671.8 975.47 L670.9 975.29 L670 974.5 L669.1 974.76 L668.2 975.62 L667.3 974.58 L666.4 974.85 L665.5 975.06 L664.6 975.16 L663.7 975.69 L662.8 975.09 L661.9 974.83 L661 975.46 L660.1 974.85 L659.2 974.8 L658.3 974.73 L657.4 974.74 L656.5 975.04 L655.6 975.46 L654.7 974.88 L653.8 975.5 L652.9 974.96 L652 975.3 L651.1 975.45 L650.2 974.3 L649.3 975.05 L648.4 975.19 L647.5 974.66 L646.6 974.52 L645.7 975.42 L644.8 976.81 L643.9 974.68 L643 974.84 L642.1 974.37 L641.2 975.64 L640.3 975.58 L639.4 974.97 L638.5 974.74 L637.6 974.69 L636.7 975.13 L635.8 974.6 L634.9 974.35 L634 974.94 L633.1 975.38 L632.2 974.72 L631.3 974.69 L630.4 974.52 L629.5 975.3 L628.6 974.86 L627.7 974.99 L626.8 975.48 L625.9 975.43 L625 974.82 L624.1 975.23 L623.2 975.16 L622.3 974.78 L621.4 975.27 L620.5 975.11 L619.6 975.08 L618.7 975.21 L617.8 975.27 L616.9 975.29 L616 974.97 L615.1 976.88 L614.2 974.45 L613.3 974.92 L612.4 974.46 L611.5 974.68 L610.6 974.52 L609.7 974.71 L608.8 975.22 L607.9 975.38 L607 975.07 L606.1 975.07 L605.2 974.51 L604.3 974.52 L603.4 974.4 L602.5 974.49 L601.6 974.79 L600.7 975.13 L599.8 974.6 L598.9 974.7 L598 974.78 L597.1 974.31 L596.2 974.81 L595.3 974.11 L594.4 974.69 L593.5 974.39 L592.6 974.41 L591.7 973.95 L590.8 974.39 L589.9 973.89 L589 974.53 L588.1 973.93 L587.2 974.2 L586.3 974.22 L585.4 973.97 L584.5 974.22 L583.6 973.76 L582.7 974.12 L581.8 974.24 L580.9 974.08 L580 973.94 L579.1 973.85 L578.2 973.82 L577.3 973.83 L576.4 973.66 L575.5 973.82 L574.6 973.79 L573.7 973.91 L572.8 973.78 L571.9 973.68 L571 973.82 L570.1 973.61 L569.2 973.47 L568.3 973.74 L567.4 973.64 L566.5 973.52 L565.6 973.44 L564.7 973.44 L563.8 973.44 L562.9 973.43 L562 973.5 L561.1 973.43 L560.2 973.44 L559.3 973.51 L558.4 973.43 L557.5 973.35 L556.6 973.34 L555.7 973.31 L554.8 973.38 L553.9 973.39 L553 973.4 L552.1 973.39 L551.2 973.34 L550.3 973.3 L549.4 973.31 L548.5 973.27 L547.6 973.28 L546.7 973.31 L545.8 973.32 L544.9 973.3 L544 973.31 L543.1 973.27 L542.2 973.27 L541.3 973.26 L540.4 973.24 L539.5 973.26 L538.6 973.23 L537.7 973.24 L536.8 973.25 L535.9 973.25 L535 973.24 L534.1 973.25 L533.2 973.24 L532.3 973.24 L531.4 973.22 L530.5 973.24 L529.6 973.23 L528.7 973.22 L527.8 973.22 L526.9 973.22 L526 973.21 L525.1 973.21 L524.2 973.21 L523.3 973.2 L522.4 973.2 L521.5 973.2 Z" fill="#4b4b4b" stroke="none" stroke-width="0"/>
<path d="M523 973.6V971.53M524.55 973.6V969.62M526.1 973.6V970.39M527.65 973.6V971.67M529.2 973.6V972.16M530.75 973.6V971.33M532.3 973.6V971.37M533.85 973.6V971.08M535.4 973.6V971.56M536.95 973.6V971.89M538.5 973.6V971.75M540.05 973.6V971.74M541.6 973.6V970.57M543.15 973.6V969.8M544.7 973.6V970.37M546.25 973.6V971.25M547.8 973.6V971.34M549.35 973.6V971.28M550.9 973.6V971.72M552.45 973.6V970.58M554 973.6V971.37M555.55 973.6V969.91M557.1 973.6V971.34M558.65 973.6V970.14M560.2 973.6V970.83M561.75 973.6V972.3M564.85 976.5V966.95M566.4 976.5V963.11M567.95 976.5V972.44M571.65 919.44V930.47M572.6 976.5V966.16M573.2 916.39V924.5M574.15 976.5V970.87M577.25 976.5V959.27M578.8 976.5V968.51M579.4 902.25V912.4M580.35 976.5V960.91M580.95 898.58V914.95M581.9 976.5V964.87M582.5 894.52V904.2M583.45 976.5V974M584.05 890.46V903.41M585 976.5V970.05M585.6 886.4V901.64M586.55 976.5V969.84M587.15 882.11V893.21M588.1 976.5V955.17M590.25 871.08V881.01M591.2 976.5V960.12M591.8 865.57V882.06M592.75 976.5V960.18M593.35 859.47V873.06M594.3 976.5V968.62M594.9 853.23V871.61M595.85 976.5V973.02M596.45 847.17V853.05M597.4 976.5V960.15M598 842V865.31M599.55 836.83V856.49M600.5 976.5V946.98M601.1 832.95V856.96M602.05 976.5V969.32M603.6 976.5V970.23M604.2 828.28V848.04M605.15 976.5V970.22M605.75 825.94V840.64M606.7 976.5V967.68M607.3 823.61V846.46M608.25 976.5V969.41M608.85 821.42V834.19M609.8 976.5V963.7M610.4 820.58V842.82M611.35 976.5V957.7M614.45 976.5V971.49M616 976.5V962.55M617.55 976.5V960.69M618.15 816.38V830.51M619.1 976.5V958.97M619.7 815.54V821.49M621.25 814.7V829.89M622.2 976.5V959.69M622.8 813.86V820.78M623.75 976.5V961.96M624.35 813.02V822.5M625.3 976.5V971.58M625.9 812.16V825.11M627.45 811.28V827.92M629 810.4V827.18M629.95 976.5V962.16M630.55 809.51V842.19M631.5 976.5V956.66M632.1 808.63V845.4M633.05 976.5V967.91M633.65 807.75V818.14M634.6 976.5V971.95M636.15 976.5V962.5M637.7 976.5V942.95M639.25 976.5V961.61M640.8 976.5V970.65M641.4 803.34V823.61M642.35 976.5V953.01M642.95 802.67V843.93M643.9 976.5V974.37M645.45 976.5V971.02M646.05 801.59V821.33M647 976.5V951.47M649.15 800.51V821.14M650.1 976.5V949.46M650.7 799.98V813.93M651.65 976.5V967.2M652.25 799.44V819.13M653.2 976.5V967.26M654.75 976.5V971.21M655.35 798.36V805.73M656.3 976.5V943.79M656.9 797.82V838.96M657.85 976.5V958.89M658.45 797.28V836.42M659.4 976.5V946.04M660 796.74V802.37M660.95 976.5V959.93M663.1 796.11V814.91M664.05 976.5V948.7M664.65 795.87V815.71M665.6 976.5V954.1M666.2 795.62V807.54M667.15 976.5V960.71M667.75 795.37V826.85M668.7 976.5V954.42M670.25 976.5V954.15M670.85 794.87V819.48M671.8 976.5V950.97M672.4 794.62V804.85M673.35 976.5V971.05M673.95 794.37V800.66M675.5 794.13V813.46M676.45 976.5V953.21M677.05 793.88V836.29M678.6 793.63V808.36M679.55 976.5V949.41M680.15 793.59V804.72M681.7 793.78V812.75M682.65 976.5V971.19M683.25 793.96V801.99M686.35 794.34V815.02M687.3 976.5V964.92M687.9 794.52V828.16M688.85 976.5V949.08M689.45 794.71V835.29M691.95 976.5V943.87M693.5 976.5V946.49M695.05 976.5V963.52M695.65 795.45V811.2M696.6 976.5V962.29M697.2 795.64V803.27M698.15 976.5V962.87M698.75 795.83V806.38M699.7 976.5V946.03M700.3 796.01V818.2M701.85 796.19V828.25M702.8 976.5V971.29M705.9 976.5V968.98M707.45 976.5V948.46M708.05 796.93V810.98M709 976.5V950.08M710.55 976.5V954.65M711.15 797.29V806.94M712.7 797.48V821.29M713.65 976.5V974.07M715.2 976.5V954.67M715.8 797.84V822.62M716.75 976.5V946.08M717.35 798.03V816.35M718.3 976.5V969.67M718.9 798.21V840.8M719.85 976.5V969.37M721.4 976.5V968.34M722 798.57V822M722.95 976.5V960.58M723.55 798.76V807.71M724.5 976.5V972M725.1 798.94V805.51M726.05 976.5V954.89M727.6 976.5V973.69M728.2 799.47V811.18M729.15 976.5V968.87M733.8 976.5V956.79M734.4 800.58V836.04M735.35 976.5V970.82M736.9 976.5V955.96M738.45 976.5V967.37M740.6 801.7V807.34M743.1 976.5V954.26M745.25 802.54V808.9M746.2 976.5V968.65M747.75 976.5V961.1M748.35 803.09V808.39M749.3 976.5V972.93M749.9 803.37V835M750.85 976.5V951.6M751.45 803.39V813.07M753 803.18V811.18M753.95 976.5V957.09M755.5 976.5V963.83M757.05 976.5V955.86M757.65 802.56V825.1M758.6 976.5V964M759.2 802.35V813.94M760.15 976.5V970.46M761.7 976.5V968.3M763.25 976.5V964.4M763.85 801.73V826.53M764.8 976.5V960.52M766.95 802.04V809.75M767.9 976.5V969.81M768.5 802.66V823.47M769.45 976.5V962.46M770.05 803.28V840.08M771 976.5V947.59M771.6 803.9V818.88M772.55 976.5V968.68M774.1 976.5V964.74M777.2 976.5V944.44M777.8 805.63V824.92M779.35 805.72V813.43M780.3 976.5V969.2M782.45 805.9V818.35M783.4 976.5V962.86M784.95 976.5V965.32M785.55 806.09V812.07M786.5 976.5V965.38M787.1 806.18V821.71M788.05 976.5V954.6M789.6 976.5V943.98M790.2 806.36V815.82M791.15 976.5V961.84M793.3 806.54V829.39M794.25 976.5V954.58M794.85 806.63V827.49M796.4 806.72V823.79M797.95 806.81V815.63M800.45 976.5V949.14M801.05 807V813.03M802 976.5V965.66M803.55 976.5V969.95M804.15 806.88V827.86M805.1 976.5V952.22M805.7 806.82V815.47M806.65 976.5V961.98M807.25 806.75V816.97M808.2 976.5V972.28M808.8 806.69V824.17M809.75 976.5V960.52M811.3 976.5V972M811.9 806.57V836.62M812.85 976.5V944.92M813.45 806.51V830.23M815.95 976.5V956.25M817.5 976.5V965.71M819.05 976.5V954.16M819.65 806.26V830.21M820.6 976.5V967.79M822.15 976.5V954.84M822.75 806.14V829.59M823.7 976.5V959.89M824.3 806.08V821.01M825.25 976.5V954.42M826.8 976.5V967.98M827.4 806.1V820.73M828.35 976.5V968.68M828.95 806.22V820.07M829.9 976.5V948.1M830.5 806.34V827.93M831.45 976.5V972.97M833 976.5V958.57M833.6 806.59V848.29M834.55 976.5V957M835.15 806.72V828.54M836.1 976.5V960.91M836.7 806.84V816.14M840.75 976.5V969.72M843.85 976.5V947.71M844.45 807.46V817.34M846 807.58V822.81M846.95 976.5V948.38M847.55 807.71V848.46M850.05 976.5V951.88M850.65 807.96V832.54M852.2 808V816.71M853.15 976.5V969.95M854.7 976.5V973.75M856.25 976.5V946.29M857.8 976.5V969.26M858.4 808V849.45M859.35 976.5V971.55M859.95 808V820.04M860.9 976.5V966.01M862.45 976.5V952.27M864 976.5V971.41M864.6 808V818.44M865.55 976.5V952.43M867.7 808V831.48M869.25 808V831.98M870.2 976.5V968.72M871.75 976.5V962.71M872.35 808V838.57M873.3 976.5V946.44M873.9 808V838.22M874.85 976.5V973M875.45 808V824.58M876.4 976.5V961.36M877 807.92V813.96M877.95 976.5V955.78M879.5 976.5V972.01M880.1 807.55V817.25M881.05 976.5V943.65M881.65 807.36V821.02M882.6 976.5V969.93M883.2 807.18V841.56M885.7 976.5V955.35M887.25 976.5V965.2M888.8 976.5V966.29M889.4 806.43V831.98M890.35 976.5V970.14M890.95 806.25V826.59M891.9 976.5V970.26M892.5 806.06V819.71M893.45 976.5V957.2M895.6 805.69V812.11M896.55 976.5V951.05M897.15 805.51V813.06M898.1 976.5V954.45M899.65 976.5V952.31M901.2 976.5V974.22M902.75 976.5V968.97M903.35 804.81V810.14M904.3 976.5V959.55M904.9 804.65V811.76M907.4 976.5V954.04M908 804.34V829.01M908.95 976.5V961.98M909.55 804.19V826.5M910.5 976.5V959.01M911.1 804.03V826.77M912.05 976.5V948.34M913.6 976.5V960.26M914.2 803.72V817.78M915.15 976.5V953.03M915.75 803.57V814.64M916.7 976.5V971.77M917.3 803.5V826.09M918.25 976.5V959.97" stroke="#fff" stroke-width="0.62" fill="none" opacity="0.92"/>
<path d="M919.5 804.98 L921.7 842.45 L923.9 857.9 L926.1 868.22 L928.3 876.6 L930.5 881.58 L932.7 886.1 L934.9 890.41 L937.1 893.68 L939.3 896.73 L941.5 899.53 L943.7 902.73 L945.9 903.94 L948.1 906.13 L950.3 907.53 L952.5 909.62 L954.7 910.62 L956.9 912.28 L959.1 912.83 L961.3 914.47 L963.5 916.06 L965.7 916.79 L967.9 918.39 L970.1 918.94 L972.3 920 L974.5 921.48 L976.7 921.57 L978.9 923.17 L981.1 923.2 L983.3 924.52 L985.5 925.5 L987.7 926.25 L989.9 926.54 L992.1 927.48 L994.3 928.34 L996.5 929.03 L998.7 929.32 L1000.9 929.45 L1003.1 929.43 L1005.3 930.18 L1007.5 930.34 L1009.7 930.63 L1011.9 931.37 L1014.1 930.83 L1016.3 931.77 L1018.5 931.62 L1020.7 932.3 L1022.9 932.77 L1025.1 932.34 L1027.3 932.88 L1029.5 933.08 L1031.7 933.3 L1033.9 933.21 L1036.1 933.91 L1038.3 934.43 L1040.5 934.44 L1042.7 934.31 L1044.9 935.06 L1047.1 934.92 L1049.3 934.88 L1051.5 935.58 L1053.7 935.67 L1055.9 935.97 L1058.1 936.67 L1060.3 936.49 L1062.5 937.11 L1064.7 936.74 L1066.9 937.39 L1069.1 936.94 L1071.3 937.4 L1073.5 938.03 L1075.7 938.25 L1077.9 938.56 L1080.1 938.29 L1082.3 938.36 L1084.5 938.63 L1086.7 938.98 L1088.9 938.65 L1091.1 939.17 L1093.3 939.63 L1095.5 939.3 L1097.7 939.64 L1099.9 940.38 L1102.1 940.62 L1104.3 940.12 L1106.5 940.23 L1108.7 940.36 L1110.9 940.52 L1113.1 941.41 L1115.3 941.55 L1117.5 941.26 L1119.7 941.67 L1121.9 942.07 L1124.1 941.59 L1126.3 942.56 L1128.5 942.79 L1130.7 942.33 L1132.9 943.01 L1135.1 943.2 L1137.3 943.02 L1139.5 943.75 L1141.7 943.81 L1143.9 945.19 L1146.1 945.05 L1148.3 945.21 L1150.5 945.61 L1152.7 945.39 L1154.9 945.46 L1157.1 945.86 L1159.3 945.13 L1161.5 945.15 L1163.7 945.58 L1165.9 945.14 L1168.1 945.98 L1170.3 945.38 L1172.5 945.51 L1174.7 945.53 L1176.9 945.95 L1179.1 946.07 L1181.3 945.86 L1183.5 945.39 L1185.7 945.6 L1187.9 945.98 L1190.1 945.52 L1192.3 946.22 L1194.5 946.23 L1196.7 945.62 L1198.9 945.79 L1201.1 945.68 L1203.3 946.2 L1204.7 946 L1204.7 973.7 L919.5 975 Z" fill="#4b4b4b" stroke="none" stroke-width="0"/>
<rect x="74.4" y="773.5" width="1158" height="216" fill="none" stroke="#000" stroke-width="1.15"/>
<line x1="74.4" y1="772.8" x2="74.4" y2="990.2" stroke="#000" stroke-width="1.9"/>
<line x1="73.5" y1="989.4" x2="1233.1" y2="989.4" stroke="#000" stroke-width="1.9"/>
<line x1="74.2" y1="973.5" x2="78.5" y2="973.5" stroke="#000" stroke-width="1.7"/>
<text transform="translate(68.9 979.2) scale(1.13 1)" font-family='"Liberation Sans", sans-serif' font-size="16.3" font-weight="bold" text-anchor="end" fill="#000">0</text>
<line x1="74.2" y1="940.17" x2="78.5" y2="940.17" stroke="#000" stroke-width="1.7"/>
<text transform="translate(68.9 945.87) scale(1.13 1)" font-family='"Liberation Sans", sans-serif' font-size="16.3" font-weight="bold" text-anchor="end" fill="#000">10</text>
<line x1="74.2" y1="906.84" x2="78.5" y2="906.84" stroke="#000" stroke-width="1.7"/>
<text transform="translate(68.9 912.54) scale(1.13 1)" font-family='"Liberation Sans", sans-serif' font-size="16.3" font-weight="bold" text-anchor="end" fill="#000">20</text>
<line x1="74.2" y1="873.51" x2="78.5" y2="873.51" stroke="#000" stroke-width="1.7"/>
<text transform="translate(68.9 879.21) scale(1.13 1)" font-family='"Liberation Sans", sans-serif' font-size="16.3" font-weight="bold" text-anchor="end" fill="#000">30</text>
<line x1="74.2" y1="840.18" x2="78.5" y2="840.18" stroke="#000" stroke-width="1.7"/>
<text transform="translate(68.9 845.88) scale(1.13 1)" font-family='"Liberation Sans", sans-serif' font-size="16.3" font-weight="bold" text-anchor="end" fill="#000">40</text>
<line x1="74.2" y1="806.85" x2="78.5" y2="806.85" stroke="#000" stroke-width="1.7"/>
<text transform="translate(68.9 812.55) scale(1.13 1)" font-family='"Liberation Sans", sans-serif' font-size="16.3" font-weight="bold" text-anchor="end" fill="#000">50</text>
<line x1="74.2" y1="773.52" x2="78.5" y2="773.52" stroke="#000" stroke-width="1.7"/>
<text transform="translate(68.9 779.22) scale(1.13 1)" font-family='"Liberation Sans", sans-serif' font-size="16.3" font-weight="bold" text-anchor="end" fill="#000">60</text>
<line x1="74.2" y1="956.84" x2="76.8" y2="956.84" stroke="#000" stroke-width="1.3"/>
<line x1="74.2" y1="923.5" x2="76.8" y2="923.5" stroke="#000" stroke-width="1.3"/>
<line x1="74.2" y1="890.17" x2="76.8" y2="890.17" stroke="#000" stroke-width="1.3"/>
<line x1="74.2" y1="856.85" x2="76.8" y2="856.85" stroke="#000" stroke-width="1.3"/>
<line x1="74.2" y1="823.51" x2="76.8" y2="823.51" stroke="#000" stroke-width="1.3"/>
<line x1="74.2" y1="790.18" x2="76.8" y2="790.18" stroke="#000" stroke-width="1.3"/>
<line x1="74.2" y1="989.3" x2="74.2" y2="985" stroke="#000" stroke-width="1.7"/>
<text transform="translate(74.2 1009.6) scale(1.13 1)" font-family='"Liberation Sans", sans-serif' font-size="16.3" font-weight="bold" text-anchor="middle" fill="#000">0</text>
<line x1="170.7" y1="989.3" x2="170.7" y2="985" stroke="#000" stroke-width="1.7"/>
<text transform="translate(170.7 1009.6) scale(1.13 1)" font-family='"Liberation Sans", sans-serif' font-size="16.3" font-weight="bold" text-anchor="middle" fill="#000">5</text>
<line x1="267.2" y1="989.3" x2="267.2" y2="985" stroke="#000" stroke-width="1.7"/>
<text transform="translate(267.2 1009.6) scale(1.13 1)" font-family='"Liberation Sans", sans-serif' font-size="16.3" font-weight="bold" text-anchor="middle" fill="#000">10</text>
<line x1="367.4" y1="989.3" x2="367.4" y2="985" stroke="#000" stroke-width="1.7"/>
<text transform="translate(367.4 1009.6) scale(1.13 1)" font-family='"Liberation Sans", sans-serif' font-size="16.3" font-weight="bold" text-anchor="middle" fill="#000">15</text>
<line x1="470.2" y1="989.3" x2="470.2" y2="985" stroke="#000" stroke-width="1.7"/>
<text transform="translate(470.2 1009.6) scale(1.13 1)" font-family='"Liberation Sans", sans-serif' font-size="16.3" font-weight="bold" text-anchor="middle" fill="#000">20</text>
<line x1="555.4" y1="989.3" x2="555.4" y2="985" stroke="#000" stroke-width="1.7"/>
<text transform="translate(555.4 1009.6) scale(1.13 1)" font-family='"Liberation Sans", sans-serif' font-size="16.3" font-weight="bold" text-anchor="middle" fill="#000">25</text>
<line x1="622.8" y1="989.3" x2="622.8" y2="985" stroke="#000" stroke-width="1.7"/>
<text transform="translate(622.8 1009.6) scale(1.13 1)" font-family='"Liberation Sans", sans-serif' font-size="16.3" font-weight="bold" text-anchor="middle" fill="#000">30</text>
<line x1="690.2" y1="989.3" x2="690.2" y2="985" stroke="#000" stroke-width="1.7"/>
<text transform="translate(690.2 1009.6) scale(1.13 1)" font-family='"Liberation Sans", sans-serif' font-size="16.3" font-weight="bold" text-anchor="middle" fill="#000">35</text>
<line x1="757.6" y1="989.3" x2="757.6" y2="985" stroke="#000" stroke-width="1.7"/>
<text transform="translate(757.6 1009.6) scale(1.13 1)" font-family='"Liberation Sans", sans-serif' font-size="16.3" font-weight="bold" text-anchor="middle" fill="#000">40</text>
<line x1="825" y1="989.3" x2="825" y2="985" stroke="#000" stroke-width="1.7"/>
<text transform="translate(825 1009.6) scale(1.13 1)" font-family='"Liberation Sans", sans-serif' font-size="16.3" font-weight="bold" text-anchor="middle" fill="#000">45</text>
<line x1="892.4" y1="989.3" x2="892.4" y2="985" stroke="#000" stroke-width="1.7"/>
<text transform="translate(892.4 1009.6) scale(1.13 1)" font-family='"Liberation Sans", sans-serif' font-size="16.3" font-weight="bold" text-anchor="middle" fill="#000">50</text>
<line x1="968" y1="989.3" x2="968" y2="985" stroke="#000" stroke-width="1.7"/>
<text transform="translate(968 1009.6) scale(1.13 1)" font-family='"Liberation Sans", sans-serif' font-size="16.3" font-weight="bold" text-anchor="middle" fill="#000">75</text>
<line x1="1020.82" y1="989.3" x2="1020.82" y2="985" stroke="#000" stroke-width="1.7"/>
<text transform="translate(1020.82 1009.6) scale(1.13 1)" font-family='"Liberation Sans", sans-serif' font-size="16.3" font-weight="bold" text-anchor="middle" fill="#000">100</text>
<line x1="1073.65" y1="989.3" x2="1073.65" y2="985" stroke="#000" stroke-width="1.7"/>
<text transform="translate(1073.65 1009.6) scale(1.13 1)" font-family='"Liberation Sans", sans-serif' font-size="16.3" font-weight="bold" text-anchor="middle" fill="#000">125</text>
<line x1="1126.47" y1="989.3" x2="1126.47" y2="985" stroke="#000" stroke-width="1.7"/>
<text transform="translate(1126.47 1009.6) scale(1.13 1)" font-family='"Liberation Sans", sans-serif' font-size="16.3" font-weight="bold" text-anchor="middle" fill="#000">150</text>
<line x1="1179.3" y1="989.3" x2="1179.3" y2="985" stroke="#000" stroke-width="1.7"/>
<text transform="translate(1179.3 1009.6) scale(1.13 1)" font-family='"Liberation Sans", sans-serif' font-size="16.3" font-weight="bold" text-anchor="middle" fill="#000">175</text>
<line x1="1232.12" y1="989.3" x2="1232.12" y2="985" stroke="#000" stroke-width="1.7"/>
<text transform="translate(1232.12 1009.6) scale(1.13 1)" font-family='"Liberation Sans", sans-serif' font-size="16.3" font-weight="bold" text-anchor="middle" fill="#000">200</text>
<line x1="122.45" y1="989.3" x2="122.45" y2="986.7" stroke="#000" stroke-width="1.3"/>
<line x1="218.95" y1="989.3" x2="218.95" y2="986.7" stroke="#000" stroke-width="1.3"/>
<line x1="418.8" y1="989.3" x2="418.8" y2="986.7" stroke="#000" stroke-width="1.3"/>
<line x1="589.1" y1="989.3" x2="589.1" y2="986.7" stroke="#000" stroke-width="1.3"/>
<line x1="656.5" y1="989.3" x2="656.5" y2="986.7" stroke="#000" stroke-width="1.3"/>
<line x1="723.9" y1="989.3" x2="723.9" y2="986.7" stroke="#000" stroke-width="1.3"/>
<line x1="791.3" y1="989.3" x2="791.3" y2="986.7" stroke="#000" stroke-width="1.3"/>
<line x1="858.7" y1="989.3" x2="858.7" y2="986.7" stroke="#000" stroke-width="1.3"/>
<line x1="941.59" y1="989.3" x2="941.59" y2="986.7" stroke="#000" stroke-width="1.3"/>
<line x1="994.41" y1="989.3" x2="994.41" y2="986.7" stroke="#000" stroke-width="1.3"/>
<line x1="1047.24" y1="989.3" x2="1047.24" y2="986.7" stroke="#000" stroke-width="1.3"/>
<line x1="1100.06" y1="989.3" x2="1100.06" y2="986.7" stroke="#000" stroke-width="1.3"/>
<line x1="1152.89" y1="989.3" x2="1152.89" y2="986.7" stroke="#000" stroke-width="1.3"/>
<line x1="1205.71" y1="989.3" x2="1205.71" y2="986.7" stroke="#000" stroke-width="1.3"/>
<line x1="316.6" y1="773.5" x2="316.6" y2="989.3" stroke="#dd3b3b" stroke-width="2.4" stroke-dasharray="5.4 4.2"/>
<line x1="522" y1="773.5" x2="522" y2="989.3" stroke="#dd3b3b" stroke-width="2.4" stroke-dasharray="5.4 4.2"/>
<line x1="919.5" y1="773.5" x2="919.5" y2="989.3" stroke="#dd3b3b" stroke-width="2.4" stroke-dasharray="5.4 4.2"/>
<text x="90" y="799" font-family='"Liberation Sans", sans-serif' font-size="19.5" fill="#000" font-weight="bold">(1)</text>
<text x="331" y="799" font-family='"Liberation Sans", sans-serif' font-size="19.5" fill="#000" font-weight="bold">(2)</text>
<text x="534" y="799" font-family='"Liberation Sans", sans-serif' font-size="19.5" fill="#000" font-weight="bold">(3)</text>
<text x="937" y="799" font-family='"Liberation Sans", sans-serif' font-size="19.5" fill="#000" font-weight="bold">(4)</text>
<text transform="translate(727.5 1030) scale(1.08 1)" font-family='"Liberation Sans", sans-serif' font-size="17.5" font-weight="bold" text-anchor="middle" fill="#000">Time (s)</text>
<text id="ytitle" transform="translate(39 881.3) rotate(-90) scale(1.08 1)" font-family='"Liberation Sans", sans-serif' font-size="17.5" font-weight="bold" text-anchor="middle" fill="#000">Charge density (μC/m<tspan font-size="11" dy="-6">2</tspan><tspan dy="6">)</tspan></text>
<text x="12.6" y="774.2" font-family='"Liberation Sans", sans-serif' font-size="31.5" fill="#000" font-weight="bold" textLength="8.2" lengthAdjust="spacingAndGlyphs">i</text>
<rect x="136.3" y="839.8" width="65.9" height="16" fill="#70cb5e" rx="2"/><rect x="208" y="840.2" width="66" height="9" fill="#fd9637" rx="1.5"/><rect x="208" y="848.2" width="66" height="7.8" fill="#ebb7ea" rx="1"/><rect x="136.3" y="862" width="137.7" height="8.3" fill="#ebb7ea" rx="1"/><rect x="136.3" y="870.3" width="65.9" height="9.5" fill="#f8e465" rx="1.5"/><rect x="209" y="870.3" width="65" height="9.5" fill="#d9d9d9" rx="1.5"/>
<path d="M170 878.3 L170 899.8 L242.4 899.8 L242.4 878.3" fill="none" stroke="#222" stroke-width="1.5"/>
<circle cx="170" cy="878.3" r="2.1" fill="#222"/><circle cx="242.4" cy="878.3" r="2.1" fill="#222"/>
<rect x="196" y="896.8" width="17.5" height="6.2" fill="#fff" stroke="#222" stroke-width="1.2"/>
<rect x="353.4" y="842" width="64.4" height="15.7" fill="#70cb5e" rx="2"/><rect x="423.5" y="841.5" width="64.5" height="8.7" fill="#fd9637" rx="1.5"/><rect x="423.5" y="849.2" width="64.5" height="8" fill="#ebb7ea" rx="1"/><rect x="353.4" y="863.3" width="134.6" height="7.6" fill="#ebb7ea" rx="1"/><rect x="353.4" y="870.9" width="64.4" height="9.9" fill="#f8e465" rx="1.5"/><rect x="424.5" y="870.9" width="63.5" height="9.9" fill="#d9d9d9" rx="1.5"/>
<path d="M457.1 841.5 L457.1 833.4 L495.5 833.4 L495.5 911.1 L465.9 911.1" fill="none" stroke="#b01515" stroke-width="1.5"/>
<path d="M385.7 879.3 L385.7 912.9 L427.8 912.9" fill="none" stroke="#222" stroke-width="1.5"/>
<path d="M455.9 879.3 L455.9 890.3 L419 890.3 L419 906.6 L427.8 906.6" fill="none" stroke="#222" stroke-width="1.5"/>
<circle cx="385.7" cy="879.3" r="2.1" fill="#222"/><circle cx="455.9" cy="879.3" r="2.1" fill="#222"/>
<rect x="394.2" y="909.6" width="17.6" height="6.8" fill="#fff" stroke="#222" stroke-width="1.2"/>
<rect x="427.8" y="902.9" width="38.1" height="14.2" fill="#efefef" stroke="#222" stroke-width="1.3"/><text x="447.35" y="913.6" font-family='"Liberation Serif", serif' font-size="10.5" fill="#222" font-weight="bold" text-anchor="middle" textLength="25.15" lengthAdjust="spacingAndGlyphs">VMC</text>
<rect x="692.7" y="839.2" width="64.4" height="16" fill="#70cb5e" rx="2"/><rect x="762.6" y="839.2" width="64.4" height="8.8" fill="#fd9637" rx="1.5"/><rect x="762.6" y="847" width="64.4" height="8.2" fill="#ebb7ea" rx="1"/><rect x="692.7" y="860.3" width="134.3" height="8.5" fill="#ebb7ea" rx="1"/><rect x="692.7" y="868.8" width="64.4" height="9.5" fill="#f8e465" rx="1.5"/><rect x="763.6" y="868.8" width="63.4" height="9.5" fill="#d9d9d9" rx="1.5"/>
<path d="M796.7 839.2 L796.7 831.2 L834.3 831.2 L834.3 909.1 L805 909.1" fill="none" stroke="#c00000" stroke-width="1.5"/>
<path d="M814 905.4 L820.5 909.1 L814 912.8 Z M820.8 905.2 V913" fill="none" stroke="#c00000" stroke-width="1.2"/>
<path d="M724.8 876.5 L724.8 910.9 L767.2 910.9" fill="none" stroke="#1e1e1e" stroke-width="1.6"/>
<path d="M795.2 876.5 L795.2 888.3 L757.9 888.3 L757.9 904.1 L767.2 904.1" fill="none" stroke="#1e1e1e" stroke-width="1.6"/>
<circle cx="724.8" cy="876.5" r="2.1" fill="#1e1e1e"/><circle cx="795.2" cy="876.5" r="2.1" fill="#1e1e1e"/>
<rect x="733.6" y="907.9" width="16.8" height="6" fill="#fff" stroke="#1e1e1e" stroke-width="1.2"/>
<rect x="767.2" y="901.1" width="37.8" height="13" fill="#efefef" stroke="#222" stroke-width="1.3"/><text x="786.6" y="911.2" font-family='"Liberation Serif", serif' font-size="10.5" fill="#222" font-weight="bold" text-anchor="middle" textLength="24.95" lengthAdjust="spacingAndGlyphs">VMC</text>
<rect x="1032.3" y="836.2" width="64.6" height="15.4" fill="#70cb5e" rx="2"/><rect x="1102.1" y="835.6" width="64.8" height="8.6" fill="#fd9637" rx="1.5"/><rect x="1102.1" y="843.2" width="64.8" height="7.8" fill="#ebb7ea" rx="1"/><rect x="1032.3" y="857.4" width="134.6" height="7.5" fill="#ebb7ea" rx="1"/><rect x="1032.3" y="864.9" width="64.6" height="10" fill="#f8e465" rx="1.5"/><rect x="1103.1" y="864.9" width="63.8" height="10" fill="#d9d9d9" rx="1.5"/>
<path d="M1064.9 872.5 L1064.9 906.8 L1106.7 906.8" fill="none" stroke="#222" stroke-width="1.5"/>
<path d="M1135 872.5 L1135 885 L1098 885 L1098 901 L1106.7 901" fill="none" stroke="#222" stroke-width="1.5"/>
<circle cx="1064.9" cy="872.5" r="2.1" fill="#222"/><circle cx="1135" cy="872.5" r="2.1" fill="#222"/>
<rect x="1073" y="903.6" width="17.5" height="6.7" fill="#fff" stroke="#222" stroke-width="1.2"/>
<rect x="1106.7" y="896.7" width="37.6" height="14.5" fill="#efefef" stroke="#222" stroke-width="1.3"/><text x="1126" y="907.55" font-family='"Liberation Serif", serif' font-size="10.5" fill="#222" font-weight="bold" text-anchor="middle" textLength="24.82" lengthAdjust="spacingAndGlyphs">VMC</text>
</g>
</svg>
</body></html>
